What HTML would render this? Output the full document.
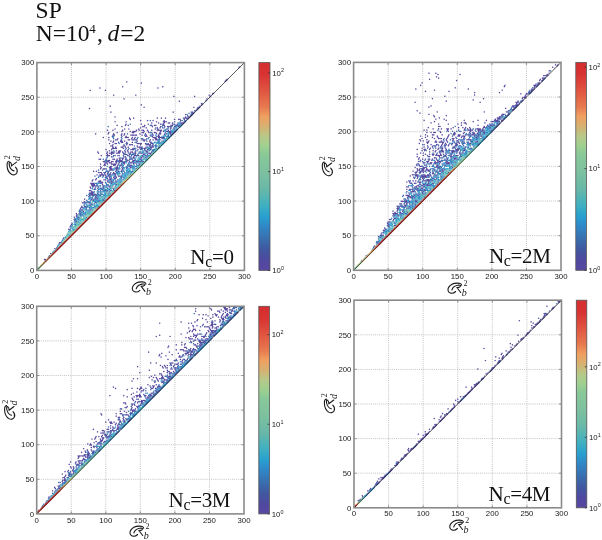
<!DOCTYPE html><html><head><meta charset="utf-8"><style>html,body{margin:0;padding:0;background:#fff;width:602px;height:540px;overflow:hidden;position:relative}</style></head><body><svg width="602" height="540" viewBox="0 0 602 540" style="position:absolute;left:0;top:0;filter:blur(0.35px)">
<defs>
<linearGradient id="cg" x1="0" y1="1" x2="0" y2="0"><stop offset="0.0" stop-color="#5848a0"/><stop offset="0.045" stop-color="#5048a0"/><stop offset="0.1" stop-color="#4058a0"/><stop offset="0.156" stop-color="#3870b0"/><stop offset="0.214" stop-color="#3088c8"/><stop offset="0.26" stop-color="#28a0d0"/><stop offset="0.315" stop-color="#40b0c0"/><stop offset="0.39" stop-color="#68b8a8"/><stop offset="0.47" stop-color="#7cc0a0"/><stop offset="0.555" stop-color="#88c898"/><stop offset="0.6" stop-color="#a0d090"/><stop offset="0.646" stop-color="#b8c888"/><stop offset="0.695" stop-color="#d8b070"/><stop offset="0.74" stop-color="#f0a060"/><stop offset="0.786" stop-color="#e87a50"/><stop offset="0.863" stop-color="#e05540"/><stop offset="0.945" stop-color="#d83232"/><stop offset="1.0" stop-color="#d62e2e"/></linearGradient>
<g id="R"><path d="M13.9,1.9 C14,0.2 11.5,-0.2 9.5,-0.1 C6,0 2.5,1.5 0.9,4.2 C-0.3,6.3 0.3,8.6 2.2,9.6 C4,10.4 6.6,9.6 7.9,8.3 M4.2,6.8 C4.8,4.6 7.4,2.6 10,2.1 C11.6,1.8 13.2,2 12.8,3 C12.4,3.9 10.8,4.4 9.2,4.4 M9.2,4.3 L13,9.3" fill="none" stroke="#1a1a1a" stroke-width="1.1" stroke-linecap="round"/></g>
</defs>
<rect width="602" height="540" fill="#fff"/>
<path d="M71.48,62.60V270.40M36.90,235.77H244.40M106.07,62.60V270.40M36.90,201.13H244.40M140.65,62.60V270.40M36.90,166.50H244.40M175.23,62.60V270.40M36.90,131.87H244.40M209.82,62.60V270.40M36.90,97.23H244.40" stroke="#bcbcbc" stroke-width="0.9" stroke-dasharray="1 1.1" fill="none"/>
<clipPath id="cp431"><path d="M36.40,270.90L244.40,62.10L244.40,62.60L36.90,62.60L36.90,270.40z"/></clipPath><g clip-path="url(#cp431)"><g transform="translate(36.900,270.400) scale(0.69167,-0.40271)"><path fill="#5848a0" d="M1 5l1-1 1 1v2l-1 1-1-1zm2 0l1-1 1 1v2l-1 1-1-1zm4 6l1-1 1 1v2l-1 1-1-1zm2 6l1-1 1 1v2l-1 1-1-1zm1 9l1-1 1 1v2l-1 1-1-1zm2 0l1-1 1 1v2l-1 1-1-1zm4 0l1-1 1 1v2l-1 1-1-1zm3 15l1-1 1 1v2l-1 1-1-1zm6 12l1-1 1 1v2l-1 1-1-1zm3 3l1-1 1 1v2l-1 1-1-1zm7 3l1-1 1 1v2l-1 1-1-1zm-4 6l1-1 1 1v2l-1 1-1-1zm1 3l1-1 1 1v2l-1 1-1-1zm2 0l1-1 1 1v2l-1 1-1-1zm6 0l1-1 1 1v2l-1 1-1-1zm-3 9l1-1 1 1v2l-1 1-1-1zm1 3l1-1 1 1v2l-1 1-1-1zm20 18l1-1 1 1v2l-1 1-1-1zm-13 3l1-1 1 1v2l-1 1-1-1zm2 0l1-1 1 1v2l-1 1-1-1zm0 6l1-1 1 1v2l-1 1-1-1zm16 0l1-1 1 1v2l-1 1-1-1zm-15 3l1-1 1 1v2l-1 1-1-1zm1 3l1-1 1 1v2l-1 1-1-1zm1 3l1-1 1 1v2l-1 1-1-1zm4 6l1-1 1 1v2l-1 1-1-1zm18 0l1-1 1 1v2l-1 1-1-1zm-19 3l1-1 1 1v2l-1 1-1-1zm20 0l1-1 1 1v2l-1 1-1-1zm-20 6l1-1 1 1v2l-1 1-1-1zm4 0l1-1 1 1v2l-1 1-1-1zm20 0l1-1 1 1v2l-1 1-1-1zm-21 3l1-1 1 1v2l-1 1-1-1zm1 3l1-1 1 1v2l-1 1-1-1zm12 0l1-1 1 1v2l-1 1-1-1zm-13 3l1-1 1 1v2l-1 1-1-1zm4 0l1-1 1 1v2l-1 1-1-1zm3 3l1-1 1 1v2l-1 1-1-1zm4 0l1-1 1 1v2l-1 1-1-1zm-1 3l1-1 1 1v2l-1 1-1-1zm-3 3l1-1 1 1v2l-1 1-1-1zm2 0l1-1 1 1v2l-1 1-1-1zm10 0l1-1 1 1v2l-1 1-1-1zm2 0l1-1 1 1v2l-1 1-1-1zm-15 3l1-1 1 1v2l-1 1-1-1zm1 3l1-1 1 1v2l-1 1-1-1zm4 0l1-1 1 1v2l-1 1-1-1zm16 0l1-1 1 1v2l-1 1-1-1zm-19 3l1-1 1 1v2l-1 1-1-1zm4 0l1-1 1 1v2l-1 1-1-1zm2 0l1-1 1 1v2l-1 1-1-1zm7 3l1-1 1 1v2l-1 1-1-1zm1 3l1-1 1 1v2l-1 1-1-1zm4 0l1-1 1 1v2l-1 1-1-1zm14 0l1-1 1 1v2l-1 1-1-1zm-31 3l1-1 1 1v2l-1 1-1-1zm2 0l1-1 1 1v2l-1 1-1-1zm6 0l1-1 1 1v2l-1 1-1-1zm2 0l1-1 1 1v2l-1 1-1-1zm-7 3l1-1 1 1v2l-1 1-1-1zm22 0l1-1 1 1v2l-1 1-1-1zm-13 3l1-1 1 1v2l-1 1-1-1zm4 0l1-1 1 1v2l-1 1-1-1zm14 0l1-1 1 1v2l-1 1-1-1zm-27 3l1-1 1 1v2l-1 1-1-1zm10 0l1-1 1 1v2l-1 1-1-1zm2 0l1-1 1 1v2l-1 1-1-1zm4 0l1-1 1 1v2l-1 1-1-1zm2 0l1-1 1 1v2l-1 1-1-1zm10 0l1-1 1 1v2l-1 1-1-1zm-13 3l1-1 1 1v2l-1 1-1-1zm4 0l1-1 1 1v2l-1 1-1-1zm-13 3l1-1 1 1v2l-1 1-1-1zm10 0l1-1 1 1v2l-1 1-1-1zm-9 3l1-1 1 1v2l-1 1-1-1zm4 0l1-1 1 1v2l-1 1-1-1zm6 0l1-1 1 1v2l-1 1-1-1zm4 0l1-1 1 1v2l-1 1-1-1zm-13 3l1-1 1 1v2l-1 1-1-1zm2 0l1-1 1 1v2l-1 1-1-1zm2 0l1-1 1 1v2l-1 1-1-1zm2 0l1-1 1 1v2l-1 1-1-1zm2 0l1-1 1 1v2l-1 1-1-1zm-9 3l1-1 1 1v2l-1 1-1-1zm2 0l1-1 1 1v2l-1 1-1-1zm2 0l1-1 1 1v2l-1 1-1-1zm12 0l1-1 1 1v2l-1 1-1-1zm12 0l1-1 1 1v2l-1 1-1-1zm-25 3l1-1 1 1v2l-1 1-1-1zm2 0l1-1 1 1v2l-1 1-1-1zm20 0l1-1 1 1v2l-1 1-1-1zm-25 3l1-1 1 1v2l-1 1-1-1zm2 0l1-1 1 1v2l-1 1-1-1zm10 0l1-1 1 1v2l-1 1-1-1zm14 0l1-1 1 1v2l-1 1-1-1zm4 0l1-1 1 1v2l-1 1-1-1zm6 0l1-1 1 1v2l-1 1-1-1zm-29 3l1-1 1 1v2l-1 1-1-1zm28 0l1-1 1 1v2l-1 1-1-1zm-33 3l1-1 1 1v2l-1 1-1-1zm6 0l1-1 1 1v2l-1 1-1-1zm4 0l1-1 1 1v2l-1 1-1-1zm4 0l1-1 1 1v2l-1 1-1-1zm4 0l1-1 1 1v2l-1 1-1-1zm14 0l1-1 1 1v2l-1 1-1-1zm10 0l1-1 1 1v2l-1 1-1-1zm-43 3l1-1 1 1v2l-1 1-1-1zm4 0l1-1 1 1v2l-1 1-1-1zm8 0l1-1 1 1v2l-1 1-1-1zm8 0l1-1 1 1v2l-1 1-1-1zm4 0l1-1 1 1v2l-1 1-1-1zm4 0l1-1 1 1v2l-1 1-1-1zm2 0l1-1 1 1v2l-1 1-1-1zm-27 3l1-1 1 1v2l-1 1-1-1zm2 0l1-1 1 1v2l-1 1-1-1zm2 0l1-1 1 1v2l-1 1-1-1zm2 0l1-1 1 1v2l-1 1-1-1zm10 0l1-1 1 1v2l-1 1-1-1zm8 0l1-1 1 1v2l-1 1-1-1zm6 0l1-1 1 1v2l-1 1-1-1zm-31 3l1-1 1 1v2l-1 1-1-1zm2 0l1-1 1 1v2l-1 1-1-1zm2 0l1-1 1 1v2l-1 1-1-1zm12 0l1-1 1 1v2l-1 1-1-1zm20 0l1-1 1 1v2l-1 1-1-1zm10 0l1-1 1 1v2l-1 1-1-1zm-47 3l1-1 1 1v2l-1 1-1-1zm2 0l1-1 1 1v2l-1 1-1-1zm2 0l1-1 1 1v2l-1 1-1-1zm12 0l1-1 1 1v2l-1 1-1-1zm14 0l1-1 1 1v2l-1 1-1-1zm-19 3l1-1 1 1v2l-1 1-1-1zm2 0l1-1 1 1v2l-1 1-1-1zm2 0l1-1 1 1v2l-1 1-1-1zm2 0l1-1 1 1v2l-1 1-1-1zm8 0l1-1 1 1v2l-1 1-1-1zm2 0l1-1 1 1v2l-1 1-1-1zm2 0l1-1 1 1v2l-1 1-1-1zm4 0l1-1 1 1v2l-1 1-1-1zm4 0l1-1 1 1v2l-1 1-1-1zm-35 3l1-1 1 1v2l-1 1-1-1zm10 0l1-1 1 1v2l-1 1-1-1zm2 0l1-1 1 1v2l-1 1-1-1zm10 0l1-1 1 1v2l-1 1-1-1zm6 0l1-1 1 1v2l-1 1-1-1zm6 0l1-1 1 1v2l-1 1-1-1zm-33 3l1-1 1 1v2l-1 1-1-1zm4 0l1-1 1 1v2l-1 1-1-1zm12 0l1-1 1 1v2l-1 1-1-1zm2 0l1-1 1 1v2l-1 1-1-1zm6 0l1-1 1 1v2l-1 1-1-1zm2 0l1-1 1 1v2l-1 1-1-1zm10 0l1-1 1 1v2l-1 1-1-1zm6 0l1-1 1 1v2l-1 1-1-1zm-37 3l1-1 1 1v2l-1 1-1-1zm16 0l1-1 1 1v2l-1 1-1-1zm4 0l1-1 1 1v2l-1 1-1-1zm6 0l1-1 1 1v2l-1 1-1-1zm2 0l1-1 1 1v2l-1 1-1-1zm12 0l1-1 1 1v2l-1 1-1-1zm-25 3l1-1 1 1v2l-1 1-1-1zm4 0l1-1 1 1v2l-1 1-1-1zm6 0l1-1 1 1v2l-1 1-1-1zm4 0l1-1 1 1v2l-1 1-1-1zm8 0l1-1 1 1v2l-1 1-1-1zm-31 3l1-1 1 1v2l-1 1-1-1zm4 0l1-1 1 1v2l-1 1-1-1zm4 0l1-1 1 1v2l-1 1-1-1zm4 0l1-1 1 1v2l-1 1-1-1zm10 0l1-1 1 1v2l-1 1-1-1zm4 0l1-1 1 1v2l-1 1-1-1zm2 0l1-1 1 1v2l-1 1-1-1zm2 0l1-1 1 1v2l-1 1-1-1zm-35 3l1-1 1 1v2l-1 1-1-1zm4 0l1-1 1 1v2l-1 1-1-1zm2 0l1-1 1 1v2l-1 1-1-1zm2 0l1-1 1 1v2l-1 1-1-1zm2 0l1-1 1 1v2l-1 1-1-1zm2 0l1-1 1 1v2l-1 1-1-1zm4 0l1-1 1 1v2l-1 1-1-1zm2 0l1-1 1 1v2l-1 1-1-1zm2 0l1-1 1 1v2l-1 1-1-1zm6 0l1-1 1 1v2l-1 1-1-1zm26 0l1-1 1 1v2l-1 1-1-1zm-45 3l1-1 1 1v2l-1 1-1-1zm8 0l1-1 1 1v2l-1 1-1-1zm4 0l1-1 1 1v2l-1 1-1-1zm4 0l1-1 1 1v2l-1 1-1-1zm2 0l1-1 1 1v2l-1 1-1-1zm2 0l1-1 1 1v2l-1 1-1-1zm10 0l1-1 1 1v2l-1 1-1-1zm-35 3l1-1 1 1v2l-1 1-1-1zm2 0l1-1 1 1v2l-1 1-1-1zm2 0l1-1 1 1v2l-1 1-1-1zm4 0l1-1 1 1v2l-1 1-1-1zm2 0l1-1 1 1v2l-1 1-1-1zm4 0l1-1 1 1v2l-1 1-1-1zm8 0l1-1 1 1v2l-1 1-1-1zm-29 3l1-1 1 1v2l-1 1-1-1zm4 0l1-1 1 1v2l-1 1-1-1zm18 0l1-1 1 1v2l-1 1-1-1zm10 0l1-1 1 1v2l-1 1-1-1zm4 0l1-1 1 1v2l-1 1-1-1zm4 0l1-1 1 1v2l-1 1-1-1zm4 0l1-1 1 1v2l-1 1-1-1zm-19 3l1-1 1 1v2l-1 1-1-1zm2 0l1-1 1 1v2l-1 1-1-1zm6 0l1-1 1 1v2l-1 1-1-1zm8 0l1-1 1 1v2l-1 1-1-1zm-31 3l1-1 1 1v2l-1 1-1-1zm4 0l1-1 1 1v2l-1 1-1-1zm2 0l1-1 1 1v2l-1 1-1-1zm2 0l1-1 1 1v2l-1 1-1-1zm6 0l1-1 1 1v2l-1 1-1-1zm2 0l1-1 1 1v2l-1 1-1-1zm6 0l1-1 1 1v2l-1 1-1-1zm2 0l1-1 1 1v2l-1 1-1-1zm8 0l1-1 1 1v2l-1 1-1-1zm20 0l1-1 1 1v2l-1 1-1-1zm-51 3l1-1 1 1v2l-1 1-1-1zm12 0l1-1 1 1v2l-1 1-1-1zm2 0l1-1 1 1v2l-1 1-1-1zm8 0l1-1 1 1v2l-1 1-1-1zm2 0l1-1 1 1v2l-1 1-1-1zm6 0l1-1 1 1v2l-1 1-1-1zm8 0l1-1 1 1v2l-1 1-1-1zm4 0l1-1 1 1v2l-1 1-1-1zm4 0l1-1 1 1v2l-1 1-1-1zm-47 3l1-1 1 1v2l-1 1-1-1zm14 0l1-1 1 1v2l-1 1-1-1zm2 0l1-1 1 1v2l-1 1-1-1zm8 0l1-1 1 1v2l-1 1-1-1zm20 0l1-1 1 1v2l-1 1-1-1zm-39 3l1-1 1 1v2l-1 1-1-1zm2 0l1-1 1 1v2l-1 1-1-1zm12 0l1-1 1 1v2l-1 1-1-1zm2 0l1-1 1 1v2l-1 1-1-1zm4 0l1-1 1 1v2l-1 1-1-1zm4 0l1-1 1 1v2l-1 1-1-1zm2 0l1-1 1 1v2l-1 1-1-1zm10 0l1-1 1 1v2l-1 1-1-1zm2 0l1-1 1 1v2l-1 1-1-1zm2 0l1-1 1 1v2l-1 1-1-1zm12 0l1-1 1 1v2l-1 1-1-1zm-57 3l1-1 1 1v2l-1 1-1-1zm6 0l1-1 1 1v2l-1 1-1-1zm4 0l1-1 1 1v2l-1 1-1-1zm6 0l1-1 1 1v2l-1 1-1-1zm2 0l1-1 1 1v2l-1 1-1-1zm2 0l1-1 1 1v2l-1 1-1-1zm2 0l1-1 1 1v2l-1 1-1-1zm12 0l1-1 1 1v2l-1 1-1-1zm14 0l1-1 1 1v2l-1 1-1-1zm8 0l1-1 1 1v2l-1 1-1-1zm-49 3l1-1 1 1v2l-1 1-1-1zm2 0l1-1 1 1v2l-1 1-1-1zm4 0l1-1 1 1v2l-1 1-1-1zm2 0l1-1 1 1v2l-1 1-1-1zm8 0l1-1 1 1v2l-1 1-1-1zm4 0l1-1 1 1v2l-1 1-1-1zm6 0l1-1 1 1v2l-1 1-1-1zm2 0l1-1 1 1v2l-1 1-1-1zm8 0l1-1 1 1v2l-1 1-1-1zm2 0l1-1 1 1v2l-1 1-1-1zm2 0l1-1 1 1v2l-1 1-1-1zm4 0l1-1 1 1v2l-1 1-1-1zm-47 3l1-1 1 1v2l-1 1-1-1zm2 0l1-1 1 1v2l-1 1-1-1zm4 0l1-1 1 1v2l-1 1-1-1zm2 0l1-1 1 1v2l-1 1-1-1zm4 0l1-1 1 1v2l-1 1-1-1zm2 0l1-1 1 1v2l-1 1-1-1zm4 0l1-1 1 1v2l-1 1-1-1zm2 0l1-1 1 1v2l-1 1-1-1zm4 0l1-1 1 1v2l-1 1-1-1zm2 0l1-1 1 1v2l-1 1-1-1zm4 0l1-1 1 1v2l-1 1-1-1zm4 0l1-1 1 1v2l-1 1-1-1zm4 0l1-1 1 1v2l-1 1-1-1zm6 0l1-1 1 1v2l-1 1-1-1zm4 0l1-1 1 1v2l-1 1-1-1zm2 0l1-1 1 1v2l-1 1-1-1zm2 0l1-1 1 1v2l-1 1-1-1zm4 0l1-1 1 1v2l-1 1-1-1zm2 0l1-1 1 1v2l-1 1-1-1zm4 0l1-1 1 1v2l-1 1-1-1zm-55 3l1-1 1 1v2l-1 1-1-1zm2 0l1-1 1 1v2l-1 1-1-1zm10 0l1-1 1 1v2l-1 1-1-1zm4 0l1-1 1 1v2l-1 1-1-1zm2 0l1-1 1 1v2l-1 1-1-1zm2 0l1-1 1 1v2l-1 1-1-1zm8 0l1-1 1 1v2l-1 1-1-1zm8 0l1-1 1 1v2l-1 1-1-1zm2 0l1-1 1 1v2l-1 1-1-1zm10 0l1-1 1 1v2l-1 1-1-1zm-61 3l1-1 1 1v2l-1 1-1-1zm2 0l1-1 1 1v2l-1 1-1-1zm8 0l1-1 1 1v2l-1 1-1-1zm10 0l1-1 1 1v2l-1 1-1-1zm2 0l1-1 1 1v2l-1 1-1-1zm4 0l1-1 1 1v2l-1 1-1-1zm4 0l1-1 1 1v2l-1 1-1-1zm4 0l1-1 1 1v2l-1 1-1-1zm4 0l1-1 1 1v2l-1 1-1-1zm6 0l1-1 1 1v2l-1 1-1-1zm2 0l1-1 1 1v2l-1 1-1-1zm14 0l1-1 1 1v2l-1 1-1-1zm-31 3l1-1 1 1v2l-1 1-1-1zm4 0l1-1 1 1v2l-1 1-1-1zm2 0l1-1 1 1v2l-1 1-1-1zm4 0l1-1 1 1v2l-1 1-1-1zm10 0l1-1 1 1v2l-1 1-1-1zm2 0l1-1 1 1v2l-1 1-1-1zm10 0l1-1 1 1v2l-1 1-1-1zm4 0l1-1 1 1v2l-1 1-1-1zm4 0l1-1 1 1v2l-1 1-1-1zm-51 3l1-1 1 1v2l-1 1-1-1zm20 0l1-1 1 1v2l-1 1-1-1zm8 0l1-1 1 1v2l-1 1-1-1zm4 0l1-1 1 1v2l-1 1-1-1zm12 0l1-1 1 1v2l-1 1-1-1zm-59 3l1-1 1 1v2l-1 1-1-1zm8 0l1-1 1 1v2l-1 1-1-1zm2 0l1-1 1 1v2l-1 1-1-1zm2 0l1-1 1 1v2l-1 1-1-1zm8 0l1-1 1 1v2l-1 1-1-1zm6 0l1-1 1 1v2l-1 1-1-1zm14 0l1-1 1 1v2l-1 1-1-1zm8 0l1-1 1 1v2l-1 1-1-1zm2 0l1-1 1 1v2l-1 1-1-1zm2 0l1-1 1 1v2l-1 1-1-1zm2 0l1-1 1 1v2l-1 1-1-1zm6 0l1-1 1 1v2l-1 1-1-1zm6 0l1-1 1 1v2l-1 1-1-1zm-57 3l1-1 1 1v2l-1 1-1-1zm6 0l1-1 1 1v2l-1 1-1-1zm18 0l1-1 1 1v2l-1 1-1-1zm2 0l1-1 1 1v2l-1 1-1-1zm2 0l1-1 1 1v2l-1 1-1-1zm4 0l1-1 1 1v2l-1 1-1-1zm8 0l1-1 1 1v2l-1 1-1-1zm12 0l1-1 1 1v2l-1 1-1-1zm2 0l1-1 1 1v2l-1 1-1-1zm8 0l1-1 1 1v2l-1 1-1-1zm4 0l1-1 1 1v2l-1 1-1-1zm-79 3l1-1 1 1v2l-1 1-1-1zm12 0l1-1 1 1v2l-1 1-1-1zm4 0l1-1 1 1v2l-1 1-1-1zm2 0l1-1 1 1v2l-1 1-1-1zm2 0l1-1 1 1v2l-1 1-1-1zm2 0l1-1 1 1v2l-1 1-1-1zm4 0l1-1 1 1v2l-1 1-1-1zm2 0l1-1 1 1v2l-1 1-1-1zm2 0l1-1 1 1v2l-1 1-1-1zm6 0l1-1 1 1v2l-1 1-1-1zm10 0l1-1 1 1v2l-1 1-1-1zm4 0l1-1 1 1v2l-1 1-1-1zm4 0l1-1 1 1v2l-1 1-1-1zm6 0l1-1 1 1v2l-1 1-1-1zm2 0l1-1 1 1v2l-1 1-1-1zm10 0l1-1 1 1v2l-1 1-1-1zm2 0l1-1 1 1v2l-1 1-1-1zm2 0l1-1 1 1v2l-1 1-1-1zm-77 3l1-1 1 1v2l-1 1-1-1zm14 0l1-1 1 1v2l-1 1-1-1zm6 0l1-1 1 1v2l-1 1-1-1zm2 0l1-1 1 1v2l-1 1-1-1zm8 0l1-1 1 1v2l-1 1-1-1zm2 0l1-1 1 1v2l-1 1-1-1zm4 0l1-1 1 1v2l-1 1-1-1zm4 0l1-1 1 1v2l-1 1-1-1zm4 0l1-1 1 1v2l-1 1-1-1zm4 0l1-1 1 1v2l-1 1-1-1zm2 0l1-1 1 1v2l-1 1-1-1zm4 0l1-1 1 1v2l-1 1-1-1zm12 0l1-1 1 1v2l-1 1-1-1zm4 0l1-1 1 1v2l-1 1-1-1zm2 0l1-1 1 1v2l-1 1-1-1zm6 0l1-1 1 1v2l-1 1-1-1zm-61 3l1-1 1 1v2l-1 1-1-1zm10 0l1-1 1 1v2l-1 1-1-1zm4 0l1-1 1 1v2l-1 1-1-1zm2 0l1-1 1 1v2l-1 1-1-1zm6 0l1-1 1 1v2l-1 1-1-1zm4 0l1-1 1 1v2l-1 1-1-1zm12 0l1-1 1 1v2l-1 1-1-1zm16 0l1-1 1 1v2l-1 1-1-1zm-59 3l1-1 1 1v2l-1 1-1-1zm8 0l1-1 1 1v2l-1 1-1-1zm24 0l1-1 1 1v2l-1 1-1-1zm4 0l1-1 1 1v2l-1 1-1-1zm2 0l1-1 1 1v2l-1 1-1-1zm2 0l1-1 1 1v2l-1 1-1-1zm6 0l1-1 1 1v2l-1 1-1-1zm10 0l1-1 1 1v2l-1 1-1-1zm4 0l1-1 1 1v2l-1 1-1-1zm4 0l1-1 1 1v2l-1 1-1-1zm-55 3l1-1 1 1v2l-1 1-1-1zm2 0l1-1 1 1v2l-1 1-1-1zm2 0l1-1 1 1v2l-1 1-1-1zm2 0l1-1 1 1v2l-1 1-1-1zm10 0l1-1 1 1v2l-1 1-1-1zm4 0l1-1 1 1v2l-1 1-1-1zm10 0l1-1 1 1v2l-1 1-1-1zm4 0l1-1 1 1v2l-1 1-1-1zm8 0l1-1 1 1v2l-1 1-1-1zm4 0l1-1 1 1v2l-1 1-1-1zm2 0l1-1 1 1v2l-1 1-1-1zm8 0l1-1 1 1v2l-1 1-1-1zm12 0l1-1 1 1v2l-1 1-1-1zm-67 3l1-1 1 1v2l-1 1-1-1zm4 0l1-1 1 1v2l-1 1-1-1zm8 0l1-1 1 1v2l-1 1-1-1zm2 0l1-1 1 1v2l-1 1-1-1zm4 0l1-1 1 1v2l-1 1-1-1zm4 0l1-1 1 1v2l-1 1-1-1zm14 0l1-1 1 1v2l-1 1-1-1zm2 0l1-1 1 1v2l-1 1-1-1zm2 0l1-1 1 1v2l-1 1-1-1zm2 0l1-1 1 1v2l-1 1-1-1zm6 0l1-1 1 1v2l-1 1-1-1zm6 0l1-1 1 1v2l-1 1-1-1zm2 0l1-1 1 1v2l-1 1-1-1zm2 0l1-1 1 1v2l-1 1-1-1zm-61 3l1-1 1 1v2l-1 1-1-1zm2 0l1-1 1 1v2l-1 1-1-1zm16 0l1-1 1 1v2l-1 1-1-1zm2 0l1-1 1 1v2l-1 1-1-1zm18 0l1-1 1 1v2l-1 1-1-1zm18 0l1-1 1 1v2l-1 1-1-1zm4 0l1-1 1 1v2l-1 1-1-1zm10 0l1-1 1 1v2l-1 1-1-1zm-67 3l1-1 1 1v2l-1 1-1-1zm20 0l1-1 1 1v2l-1 1-1-1zm4 0l1-1 1 1v2l-1 1-1-1zm2 0l1-1 1 1v2l-1 1-1-1zm2 0l1-1 1 1v2l-1 1-1-1zm12 0l1-1 1 1v2l-1 1-1-1zm8 0l1-1 1 1v2l-1 1-1-1zm2 0l1-1 1 1v2l-1 1-1-1zm2 0l1-1 1 1v2l-1 1-1-1zm2 0l1-1 1 1v2l-1 1-1-1zm4 0l1-1 1 1v2l-1 1-1-1zm-63 3l1-1 1 1v2l-1 1-1-1zm8 0l1-1 1 1v2l-1 1-1-1zm2 0l1-1 1 1v2l-1 1-1-1zm14 0l1-1 1 1v2l-1 1-1-1zm16 0l1-1 1 1v2l-1 1-1-1zm2 0l1-1 1 1v2l-1 1-1-1zm2 0l1-1 1 1v2l-1 1-1-1zm2 0l1-1 1 1v2l-1 1-1-1zm6 0l1-1 1 1v2l-1 1-1-1zm4 0l1-1 1 1v2l-1 1-1-1zm4 0l1-1 1 1v2l-1 1-1-1zm2 0l1-1 1 1v2l-1 1-1-1zm14 0l1-1 1 1v2l-1 1-1-1zm-71 3l1-1 1 1v2l-1 1-1-1zm8 0l1-1 1 1v2l-1 1-1-1zm4 0l1-1 1 1v2l-1 1-1-1zm2 0l1-1 1 1v2l-1 1-1-1zm6 0l1-1 1 1v2l-1 1-1-1zm8 0l1-1 1 1v2l-1 1-1-1zm26 0l1-1 1 1v2l-1 1-1-1zm14 0l1-1 1 1v2l-1 1-1-1zm-71 3l1-1 1 1v2l-1 1-1-1zm4 0l1-1 1 1v2l-1 1-1-1zm10 0l1-1 1 1v2l-1 1-1-1zm2 0l1-1 1 1v2l-1 1-1-1zm4 0l1-1 1 1v2l-1 1-1-1zm18 0l1-1 1 1v2l-1 1-1-1zm10 0l1-1 1 1v2l-1 1-1-1zm4 0l1-1 1 1v2l-1 1-1-1zm4 0l1-1 1 1v2l-1 1-1-1zm18 0l1-1 1 1v2l-1 1-1-1zm-77 3l1-1 1 1v2l-1 1-1-1zm10 0l1-1 1 1v2l-1 1-1-1zm2 0l1-1 1 1v2l-1 1-1-1zm6 0l1-1 1 1v2l-1 1-1-1zm10 0l1-1 1 1v2l-1 1-1-1zm2 0l1-1 1 1v2l-1 1-1-1zm4 0l1-1 1 1v2l-1 1-1-1zm4 0l1-1 1 1v2l-1 1-1-1zm2 0l1-1 1 1v2l-1 1-1-1zm8 0l1-1 1 1v2l-1 1-1-1zm2 0l1-1 1 1v2l-1 1-1-1zm2 0l1-1 1 1v2l-1 1-1-1zm8 0l1-1 1 1v2l-1 1-1-1zm4 0l1-1 1 1v2l-1 1-1-1zm4 0l1-1 1 1v2l-1 1-1-1zm2 0l1-1 1 1v2l-1 1-1-1zm-57 3l1-1 1 1v2l-1 1-1-1zm20 0l1-1 1 1v2l-1 1-1-1zm4 0l1-1 1 1v2l-1 1-1-1zm18 0l1-1 1 1v2l-1 1-1-1zm12 0l1-1 1 1v2l-1 1-1-1zm2 0l1-1 1 1v2l-1 1-1-1zm8 0l1-1 1 1v2l-1 1-1-1zm4 0l1-1 1 1v2l-1 1-1-1zm6 0l1-1 1 1v2l-1 1-1-1zm-95 3l1-1 1 1v2l-1 1-1-1zm8 0l1-1 1 1v2l-1 1-1-1zm24 0l1-1 1 1v2l-1 1-1-1zm2 0l1-1 1 1v2l-1 1-1-1zm2 0l1-1 1 1v2l-1 1-1-1zm6 0l1-1 1 1v2l-1 1-1-1zm4 0l1-1 1 1v2l-1 1-1-1zm20 0l1-1 1 1v2l-1 1-1-1zm6 0l1-1 1 1v2l-1 1-1-1zm2 0l1-1 1 1v2l-1 1-1-1zm2 0l1-1 1 1v2l-1 1-1-1zm4 0l1-1 1 1v2l-1 1-1-1zm2 0l1-1 1 1v2l-1 1-1-1zm2 0l1-1 1 1v2l-1 1-1-1zm2 0l1-1 1 1v2l-1 1-1-1zm2 0l1-1 1 1v2l-1 1-1-1zm-61 3l1-1 1 1v2l-1 1-1-1zm6 0l1-1 1 1v2l-1 1-1-1zm28 0l1-1 1 1v2l-1 1-1-1zm2 0l1-1 1 1v2l-1 1-1-1zm8 0l1-1 1 1v2l-1 1-1-1zm8 0l1-1 1 1v2l-1 1-1-1zm2 0l1-1 1 1v2l-1 1-1-1zm-67 3l1-1 1 1v2l-1 1-1-1zm2 0l1-1 1 1v2l-1 1-1-1zm10 0l1-1 1 1v2l-1 1-1-1zm4 0l1-1 1 1v2l-1 1-1-1zm10 0l1-1 1 1v2l-1 1-1-1zm2 0l1-1 1 1v2l-1 1-1-1zm2 0l1-1 1 1v2l-1 1-1-1zm2 0l1-1 1 1v2l-1 1-1-1zm2 0l1-1 1 1v2l-1 1-1-1zm8 0l1-1 1 1v2l-1 1-1-1zm6 0l1-1 1 1v2l-1 1-1-1zm6 0l1-1 1 1v2l-1 1-1-1zm4 0l1-1 1 1v2l-1 1-1-1zm8 0l1-1 1 1v2l-1 1-1-1zm8 0l1-1 1 1v2l-1 1-1-1zm10 0l1-1 1 1v2l-1 1-1-1zm-109 3l1-1 1 1v2l-1 1-1-1zm18 0l1-1 1 1v2l-1 1-1-1zm8 0l1-1 1 1v2l-1 1-1-1zm12 0l1-1 1 1v2l-1 1-1-1zm4 0l1-1 1 1v2l-1 1-1-1zm22 0l1-1 1 1v2l-1 1-1-1zm8 0l1-1 1 1v2l-1 1-1-1zm10 0l1-1 1 1v2l-1 1-1-1zm6 0l1-1 1 1v2l-1 1-1-1zm4 0l1-1 1 1v2l-1 1-1-1zm2 0l1-1 1 1v2l-1 1-1-1zm6 0l1-1 1 1v2l-1 1-1-1zm2 0l1-1 1 1v2l-1 1-1-1zm6 0l1-1 1 1v2l-1 1-1-1zm4 0l1-1 1 1v2l-1 1-1-1zm-93 3l1-1 1 1v2l-1 1-1-1zm12 0l1-1 1 1v2l-1 1-1-1zm22 0l1-1 1 1v2l-1 1-1-1zm2 0l1-1 1 1v2l-1 1-1-1zm12 0l1-1 1 1v2l-1 1-1-1zm2 0l1-1 1 1v2l-1 1-1-1zm8 0l1-1 1 1v2l-1 1-1-1zm8 0l1-1 1 1v2l-1 1-1-1zm2 0l1-1 1 1v2l-1 1-1-1zm6 0l1-1 1 1v2l-1 1-1-1zm14 0l1-1 1 1v2l-1 1-1-1zm2 0l1-1 1 1v2l-1 1-1-1zm-71 3l1-1 1 1v2l-1 1-1-1zm12 0l1-1 1 1v2l-1 1-1-1zm4 0l1-1 1 1v2l-1 1-1-1zm2 0l1-1 1 1v2l-1 1-1-1zm2 0l1-1 1 1v2l-1 1-1-1zm12 0l1-1 1 1v2l-1 1-1-1zm6 0l1-1 1 1v2l-1 1-1-1zm18 0l1-1 1 1v2l-1 1-1-1zm4 0l1-1 1 1v2l-1 1-1-1zm4 0l1-1 1 1v2l-1 1-1-1zm2 0l1-1 1 1v2l-1 1-1-1zm2 0l1-1 1 1v2l-1 1-1-1zm2 0l1-1 1 1v2l-1 1-1-1zm8 0l1-1 1 1v2l-1 1-1-1zm-99 3l1-1 1 1v2l-1 1-1-1zm8 0l1-1 1 1v2l-1 1-1-1zm14 0l1-1 1 1v2l-1 1-1-1zm20 0l1-1 1 1v2l-1 1-1-1zm4 0l1-1 1 1v2l-1 1-1-1zm4 0l1-1 1 1v2l-1 1-1-1zm2 0l1-1 1 1v2l-1 1-1-1zm6 0l1-1 1 1v2l-1 1-1-1zm6 0l1-1 1 1v2l-1 1-1-1zm8 0l1-1 1 1v2l-1 1-1-1zm2 0l1-1 1 1v2l-1 1-1-1zm2 0l1-1 1 1v2l-1 1-1-1zm2 0l1-1 1 1v2l-1 1-1-1zm10 0l1-1 1 1v2l-1 1-1-1zm12 0l1-1 1 1v2l-1 1-1-1zm-89 3l1-1 1 1v2l-1 1-1-1zm14 0l1-1 1 1v2l-1 1-1-1zm6 0l1-1 1 1v2l-1 1-1-1zm14 0l1-1 1 1v2l-1 1-1-1zm24 0l1-1 1 1v2l-1 1-1-1zm4 0l1-1 1 1v2l-1 1-1-1zm18 0l1-1 1 1v2l-1 1-1-1zm4 0l1-1 1 1v2l-1 1-1-1zm-47 3l1-1 1 1v2l-1 1-1-1zm8 0l1-1 1 1v2l-1 1-1-1zm16 0l1-1 1 1v2l-1 1-1-1zm4 0l1-1 1 1v2l-1 1-1-1zm4 0l1-1 1 1v2l-1 1-1-1zm12 0l1-1 1 1v2l-1 1-1-1zm12 0l1-1 1 1v2l-1 1-1-1zm-83 3l1-1 1 1v2l-1 1-1-1zm30 0l1-1 1 1v2l-1 1-1-1zm2 0l1-1 1 1v2l-1 1-1-1zm12 0l1-1 1 1v2l-1 1-1-1zm12 0l1-1 1 1v2l-1 1-1-1zm6 0l1-1 1 1v2l-1 1-1-1zm4 0l1-1 1 1v2l-1 1-1-1zm2 0l1-1 1 1v2l-1 1-1-1zm2 0l1-1 1 1v2l-1 1-1-1zm6 0l1-1 1 1v2l-1 1-1-1zm2 0l1-1 1 1v2l-1 1-1-1zm4 0l1-1 1 1v2l-1 1-1-1zm-89 3l1-1 1 1v2l-1 1-1-1zm12 0l1-1 1 1v2l-1 1-1-1zm4 0l1-1 1 1v2l-1 1-1-1zm24 0l1-1 1 1v2l-1 1-1-1zm10 0l1-1 1 1v2l-1 1-1-1zm4 0l1-1 1 1v2l-1 1-1-1zm2 0l1-1 1 1v2l-1 1-1-1zm10 0l1-1 1 1v2l-1 1-1-1zm2 0l1-1 1 1v2l-1 1-1-1zm10 0l1-1 1 1v2l-1 1-1-1zm2 0l1-1 1 1v2l-1 1-1-1zm6 0l1-1 1 1v2l-1 1-1-1zm2 0l1-1 1 1v2l-1 1-1-1zm6 0l1-1 1 1v2l-1 1-1-1zm-81 3l1-1 1 1v2l-1 1-1-1zm22 0l1-1 1 1v2l-1 1-1-1zm10 0l1-1 1 1v2l-1 1-1-1zm18 0l1-1 1 1v2l-1 1-1-1zm4 0l1-1 1 1v2l-1 1-1-1zm14 0l1-1 1 1v2l-1 1-1-1zm12 0l1-1 1 1v2l-1 1-1-1zm-43 3l1-1 1 1v2l-1 1-1-1zm10 0l1-1 1 1v2l-1 1-1-1zm8 0l1-1 1 1v2l-1 1-1-1zm6 0l1-1 1 1v2l-1 1-1-1zm2 0l1-1 1 1v2l-1 1-1-1zm4 0l1-1 1 1v2l-1 1-1-1zm8 0l1-1 1 1v2l-1 1-1-1zm4 0l1-1 1 1v2l-1 1-1-1zm2 0l1-1 1 1v2l-1 1-1-1zm2 0l1-1 1 1v2l-1 1-1-1zm-99 3l1-1 1 1v2l-1 1-1-1zm16 0l1-1 1 1v2l-1 1-1-1zm44 0l1-1 1 1v2l-1 1-1-1zm10 0l1-1 1 1v2l-1 1-1-1zm2 0l1-1 1 1v2l-1 1-1-1zm2 0l1-1 1 1v2l-1 1-1-1zm12 0l1-1 1 1v2l-1 1-1-1zm-49 3l1-1 1 1v2l-1 1-1-1zm10 0l1-1 1 1v2l-1 1-1-1zm8 0l1-1 1 1v2l-1 1-1-1zm16 0l1-1 1 1v2l-1 1-1-1zm24 0l1-1 1 1v2l-1 1-1-1zm6 0l1-1 1 1v2l-1 1-1-1zm2 0l1-1 1 1v2l-1 1-1-1zm-81 3l1-1 1 1v2l-1 1-1-1zm64 0l1-1 1 1v2l-1 1-1-1zm6 0l1-1 1 1v2l-1 1-1-1zm2 0l1-1 1 1v2l-1 1-1-1zm6 0l1-1 1 1v2l-1 1-1-1zm-79 3l1-1 1 1v2l-1 1-1-1zm6 0l1-1 1 1v2l-1 1-1-1zm34 0l1-1 1 1v2l-1 1-1-1zm6 0l1-1 1 1v2l-1 1-1-1zm6 0l1-1 1 1v2l-1 1-1-1zm28 0l1-1 1 1v2l-1 1-1-1zm2 0l1-1 1 1v2l-1 1-1-1zm-103 3l1-1 1 1v2l-1 1-1-1zm102 0l1-1 1 1v2l-1 1-1-1zm4 0l1-1 1 1v2l-1 1-1-1zm-1 3l1-1 1 1v2l-1 1-1-1zm6 0l1-1 1 1v2l-1 1-1-1zm-9 3l1-1 1 1v2l-1 1-1-1zm11 3l1-1 1 1v2l-1 1-1-1zm-119 3l1-1 1 1v2l-1 1-1-1zm90 0l1-1 1 1v2l-1 1-1-1zm26 0l1-1 1 1v2l-1 1-1-1zm2 0l1-1 1 1v2l-1 1-1-1zm4 0l1-1 1 1v2l-1 1-1-1zm-153 9l1-1 1 1v2l-1 1-1-1zm79 3l1-1 1 1v2l-1 1-1-1zm72 0l1-1 1 1v2l-1 1-1-1zm6 0l1-1 1 1v2l-1 1-1-1zm-127 3l1-1 1 1v2l-1 1-1-1zm130 0l1-1 1 1v2l-1 1-1-1zm-85 3l1-1 1 1v2l-1 1-1-1zm88 0l1-1 1 1v2l-1 1-1-1zm-1 3l1-1 1 1v2l-1 1-1-1zm-32 6l1-1 1 1v2l-1 1-1-1zm-80 6l1-1 1 1v2l-1 1-1-1zm120 0l1-1 1 1v2l-1 1-1-1zm-48 6l1-1 1 1v2l-1 1-1-1zm30 0l1-1 1 1v2l-1 1-1-1zm-117 3l1-1 1 1v2l-1 1-1-1zm32 0l1-1 1 1v2l-1 1-1-1zm106 0l1-1 1 1v2l-1 1-1-1zm5 3l1-1 1 1v2l-1 1-1-1zm-177 9l1-1 1 1v2l-1 1-1-1zm22 0l1-1 1 1v2l-1 1-1-1zm-8 6l1-1 1 1v2l-1 1-1-1zm84 0l1-1 1 1v2l-1 1-1-1zm-51 3l1-1 1 1v2l-1 1-1-1zm58 0l1-1 1 1v2l-1 1-1-1zm-31 9l1-1 1 1v2l-1 1-1-1zm-21 3l1-1 1 1v2l-1 1-1-1z"/><path fill="#386faf" d="M11 23l1-1 1 1v2l-1 1-1-1zm4 6l1-1 1 1v2l-1 1-1-1zm1 3l1-1 1 1v2l-1 1-1-1zm1 3l1-1 1 1v2l-1 1-1-1zm4 0l1-1 1 1v2l-1 1-1-1zm38 66l1-1 1 1v2l-1 1-1-1zm-9 3l1-1 1 1v2l-1 1-1-1zm0 6l1-1 1 1v2l-1 1-1-1zm5 3l1-1 1 1v2l-1 1-1-1zm0 6l1-1 1 1v2l-1 1-1-1zm2 0l1-1 1 1v2l-1 1-1-1zm-1 3l1-1 1 1v2l-1 1-1-1zm-1 3l1-1 1 1v2l-1 1-1-1zm4 0l1-1 1 1v2l-1 1-1-1zm-5 3l1-1 1 1v2l-1 1-1-1zm6 0l1-1 1 1v2l-1 1-1-1zm-1 3l1-1 1 1v2l-1 1-1-1zm-1 3l1-1 1 1v2l-1 1-1-1zm4 0l1-1 1 1v2l-1 1-1-1zm4 0l1-1 1 1v2l-1 1-1-1zm-5 3l1-1 1 1v2l-1 1-1-1zm2 0l1-1 1 1v2l-1 1-1-1zm2 0l1-1 1 1v2l-1 1-1-1zm-3 3l1-1 1 1v2l-1 1-1-1zm4 0l1-1 1 1v2l-1 1-1-1zm16 0l1-1 1 1v2l-1 1-1-1zm-21 3l1-1 1 1v2l-1 1-1-1zm-1 3l1-1 1 1v2l-1 1-1-1zm2 0l1-1 1 1v2l-1 1-1-1zm12 0l1-1 1 1v2l-1 1-1-1zm-13 3l1-1 1 1v2l-1 1-1-1zm10 0l1-1 1 1v2l-1 1-1-1zm8 0l1-1 1 1v2l-1 1-1-1zm8 0l1-1 1 1v2l-1 1-1-1zm-17 3l1-1 1 1v2l-1 1-1-1zm6 0l1-1 1 1v2l-1 1-1-1zm-11 3l1-1 1 1v2l-1 1-1-1zm6 0l1-1 1 1v2l-1 1-1-1zm4 0l1-1 1 1v2l-1 1-1-1zm-3 3l1-1 1 1v2l-1 1-1-1zm4 0l1-1 1 1v2l-1 1-1-1zm12 0l1-1 1 1v2l-1 1-1-1zm-21 3l1-1 1 1v2l-1 1-1-1zm8 0l1-1 1 1v2l-1 1-1-1zm-7 3l1-1 1 1v2l-1 1-1-1zm8 0l1-1 1 1v2l-1 1-1-1zm-7 3l1-1 1 1v2l-1 1-1-1zm2 0l1-1 1 1v2l-1 1-1-1zm12 0l1-1 1 1v2l-1 1-1-1zm2 0l1-1 1 1v2l-1 1-1-1zm-13 3l1-1 1 1v2l-1 1-1-1zm12 0l1-1 1 1v2l-1 1-1-1zm-13 3l1-1 1 1v2l-1 1-1-1zm16 0l1-1 1 1v2l-1 1-1-1zm2 0l1-1 1 1v2l-1 1-1-1zm-12 6l1-1 1 1v2l-1 1-1-1zm2 0l1-1 1 1v2l-1 1-1-1zm6 0l1-1 1 1v2l-1 1-1-1zm12 0l1-1 1 1v2l-1 1-1-1zm-17 3l1-1 1 1v2l-1 1-1-1zm6 0l1-1 1 1v2l-1 1-1-1zm-15 3l1-1 1 1v2l-1 1-1-1zm6 0l1-1 1 1v2l-1 1-1-1zm4 0l1-1 1 1v2l-1 1-1-1zm2 0l1-1 1 1v2l-1 1-1-1zm8 0l1-1 1 1v2l-1 1-1-1zm6 0l1-1 1 1v2l-1 1-1-1zm-11 3l1-1 1 1v2l-1 1-1-1zm2 0l1-1 1 1v2l-1 1-1-1zm4 0l1-1 1 1v2l-1 1-1-1zm2 0l1-1 1 1v2l-1 1-1-1zm8 0l1-1 1 1v2l-1 1-1-1zm-21 3l1-1 1 1v2l-1 1-1-1zm6 0l1-1 1 1v2l-1 1-1-1zm-5 3l1-1 1 1v2l-1 1-1-1zm6 0l1-1 1 1v2l-1 1-1-1zm4 0l1-1 1 1v2l-1 1-1-1zm4 0l1-1 1 1v2l-1 1-1-1zm8 0l1-1 1 1v2l-1 1-1-1zm-13 3l1-1 1 1v2l-1 1-1-1zm4 0l1-1 1 1v2l-1 1-1-1zm2 0l1-1 1 1v2l-1 1-1-1zm2 0l1-1 1 1v2l-1 1-1-1zm16 0l1-1 1 1v2l-1 1-1-1zm-27 3l1-1 1 1v2l-1 1-1-1zm4 0l1-1 1 1v2l-1 1-1-1zm2 0l1-1 1 1v2l-1 1-1-1zm4 0l1-1 1 1v2l-1 1-1-1zm6 0l1-1 1 1v2l-1 1-1-1zm-11 3l1-1 1 1v2l-1 1-1-1zm8 0l1-1 1 1v2l-1 1-1-1zm-17 3l1-1 1 1v2l-1 1-1-1zm28 0l1-1 1 1v2l-1 1-1-1zm-25 3l1-1 1 1v2l-1 1-1-1zm4 0l1-1 1 1v2l-1 1-1-1zm8 0l1-1 1 1v2l-1 1-1-1zm6 0l1-1 1 1v2l-1 1-1-1zm-19 3l1-1 1 1v2l-1 1-1-1zm14 0l1-1 1 1v2l-1 1-1-1zm2 0l1-1 1 1v2l-1 1-1-1zm10 0l1-1 1 1v2l-1 1-1-1zm-29 3l1-1 1 1v2l-1 1-1-1zm2 0l1-1 1 1v2l-1 1-1-1zm6 0l1-1 1 1v2l-1 1-1-1zm8 0l1-1 1 1v2l-1 1-1-1zm-1 3l1-1 1 1v2l-1 1-1-1zm10 0l1-1 1 1v2l-1 1-1-1zm4 0l1-1 1 1v2l-1 1-1-1zm8 0l1-1 1 1v2l-1 1-1-1zm-15 3l1-1 1 1v2l-1 1-1-1zm4 0l1-1 1 1v2l-1 1-1-1zm6 0l1-1 1 1v2l-1 1-1-1zm4 0l1-1 1 1v2l-1 1-1-1zm-17 3l1-1 1 1v2l-1 1-1-1zm8 0l1-1 1 1v2l-1 1-1-1zm-3 3l1-1 1 1v2l-1 1-1-1zm14 0l1-1 1 1v2l-1 1-1-1zm-33 3l1-1 1 1v2l-1 1-1-1zm10 0l1-1 1 1v2l-1 1-1-1zm8 0l1-1 1 1v2l-1 1-1-1zm6 0l1-1 1 1v2l-1 1-1-1zm-29 3l1-1 1 1v2l-1 1-1-1zm6 0l1-1 1 1v2l-1 1-1-1zm16 0l1-1 1 1v2l-1 1-1-1zm6 0l1-1 1 1v2l-1 1-1-1zm14 0l1-1 1 1v2l-1 1-1-1zm-17 3l1-1 1 1v2l-1 1-1-1zm22 0l1-1 1 1v2l-1 1-1-1zm4 0l1-1 1 1v2l-1 1-1-1zm-37 3l1-1 1 1v2l-1 1-1-1zm22 0l1-1 1 1v2l-1 1-1-1zm16 0l1-1 1 1v2l-1 1-1-1zm-29 3l1-1 1 1v2l-1 1-1-1zm8 0l1-1 1 1v2l-1 1-1-1zm2 0l1-1 1 1v2l-1 1-1-1zm10 0l1-1 1 1v2l-1 1-1-1zm6 0l1-1 1 1v2l-1 1-1-1zm-33 3l1-1 1 1v2l-1 1-1-1zm2 0l1-1 1 1v2l-1 1-1-1zm30 0l1-1 1 1v2l-1 1-1-1zm4 0l1-1 1 1v2l-1 1-1-1zm2 0l1-1 1 1v2l-1 1-1-1zm-49 3l1-1 1 1v2l-1 1-1-1zm6 0l1-1 1 1v2l-1 1-1-1zm10 0l1-1 1 1v2l-1 1-1-1zm12 0l1-1 1 1v2l-1 1-1-1zm8 0l1-1 1 1v2l-1 1-1-1zm-15 3l1-1 1 1v2l-1 1-1-1zm8 0l1-1 1 1v2l-1 1-1-1zm2 0l1-1 1 1v2l-1 1-1-1zm10 0l1-1 1 1v2l-1 1-1-1zm12 0l1-1 1 1v2l-1 1-1-1zm-29 3l1-1 1 1v2l-1 1-1-1zm12 0l1-1 1 1v2l-1 1-1-1zm4 0l1-1 1 1v2l-1 1-1-1zm8 0l1-1 1 1v2l-1 1-1-1zm-13 3l1-1 1 1v2l-1 1-1-1zm6 0l1-1 1 1v2l-1 1-1-1zm4 0l1-1 1 1v2l-1 1-1-1zm8 0l1-1 1 1v2l-1 1-1-1zm2 0l1-1 1 1v2l-1 1-1-1zm-25 3l1-1 1 1v2l-1 1-1-1zm12 0l1-1 1 1v2l-1 1-1-1zm14 0l1-1 1 1v2l-1 1-1-1zm2 0l1-1 1 1v2l-1 1-1-1zm-29 3l1-1 1 1v2l-1 1-1-1zm4 0l1-1 1 1v2l-1 1-1-1zm10 0l1-1 1 1v2l-1 1-1-1zm12 0l1-1 1 1v2l-1 1-1-1zm8 0l1-1 1 1v2l-1 1-1-1zm-29 3l1-1 1 1v2l-1 1-1-1zm10 0l1-1 1 1v2l-1 1-1-1zm8 0l1-1 1 1v2l-1 1-1-1zm8 0l1-1 1 1v2l-1 1-1-1zm-49 3l1-1 1 1v2l-1 1-1-1zm18 0l1-1 1 1v2l-1 1-1-1zm6 0l1-1 1 1v2l-1 1-1-1zm4 0l1-1 1 1v2l-1 1-1-1zm10 0l1-1 1 1v2l-1 1-1-1zm12 0l1-1 1 1v2l-1 1-1-1zm-51 3l1-1 1 1v2l-1 1-1-1zm2 0l1-1 1 1v2l-1 1-1-1zm16 0l1-1 1 1v2l-1 1-1-1zm12 0l1-1 1 1v2l-1 1-1-1zm4 0l1-1 1 1v2l-1 1-1-1zm10 0l1-1 1 1v2l-1 1-1-1zm-47 3l1-1 1 1v2l-1 1-1-1zm34 0l1-1 1 1v2l-1 1-1-1zm8 0l1-1 1 1v2l-1 1-1-1zm4 0l1-1 1 1v2l-1 1-1-1zm10 0l1-1 1 1v2l-1 1-1-1zm-51 3l1-1 1 1v2l-1 1-1-1zm20 0l1-1 1 1v2l-1 1-1-1zm14 0l1-1 1 1v2l-1 1-1-1zm2 0l1-1 1 1v2l-1 1-1-1zm12 0l1-1 1 1v2l-1 1-1-1zm8 0l1-1 1 1v2l-1 1-1-1zm4 0l1-1 1 1v2l-1 1-1-1zm2 0l1-1 1 1v2l-1 1-1-1zm-61 3l1-1 1 1v2l-1 1-1-1zm8 0l1-1 1 1v2l-1 1-1-1zm16 0l1-1 1 1v2l-1 1-1-1zm8 0l1-1 1 1v2l-1 1-1-1zm20 0l1-1 1 1v2l-1 1-1-1zm4 0l1-1 1 1v2l-1 1-1-1zm-47 3l1-1 1 1v2l-1 1-1-1zm6 0l1-1 1 1v2l-1 1-1-1zm8 0l1-1 1 1v2l-1 1-1-1zm6 0l1-1 1 1v2l-1 1-1-1zm6 0l1-1 1 1v2l-1 1-1-1zm20 0l1-1 1 1v2l-1 1-1-1zm4 0l1-1 1 1v2l-1 1-1-1zm-25 3l1-1 1 1v2l-1 1-1-1zm2 0l1-1 1 1v2l-1 1-1-1zm2 0l1-1 1 1v2l-1 1-1-1zm6 0l1-1 1 1v2l-1 1-1-1zm14 0l1-1 1 1v2l-1 1-1-1zm-33 3l1-1 1 1v2l-1 1-1-1zm6 0l1-1 1 1v2l-1 1-1-1zm8 0l1-1 1 1v2l-1 1-1-1zm14 0l1-1 1 1v2l-1 1-1-1zm-43 3l1-1 1 1v2l-1 1-1-1zm36 0l1-1 1 1v2l-1 1-1-1zm2 0l1-1 1 1v2l-1 1-1-1zm18 0l1-1 1 1v2l-1 1-1-1zm-23 3l1-1 1 1v2l-1 1-1-1zm10 0l1-1 1 1v2l-1 1-1-1zm2 0l1-1 1 1v2l-1 1-1-1zm10 0l1-1 1 1v2l-1 1-1-1zm2 0l1-1 1 1v2l-1 1-1-1zm4 0l1-1 1 1v2l-1 1-1-1zm-23 3l1-1 1 1v2l-1 1-1-1zm2 0l1-1 1 1v2l-1 1-1-1zm10 0l1-1 1 1v2l-1 1-1-1zm6 0l1-1 1 1v2l-1 1-1-1zm2 0l1-1 1 1v2l-1 1-1-1zm-37 3l1-1 1 1v2l-1 1-1-1zm8 0l1-1 1 1v2l-1 1-1-1zm8 0l1-1 1 1v2l-1 1-1-1zm4 0l1-1 1 1v2l-1 1-1-1zm8 0l1-1 1 1v2l-1 1-1-1zm2 0l1-1 1 1v2l-1 1-1-1zm-3 3l1-1 1 1v2l-1 1-1-1zm12 0l1-1 1 1v2l-1 1-1-1zm6 0l1-1 1 1v2l-1 1-1-1zm-37 3l1-1 1 1v2l-1 1-1-1zm24 0l1-1 1 1v2l-1 1-1-1zm4 0l1-1 1 1v2l-1 1-1-1zm2 0l1-1 1 1v2l-1 1-1-1zm2 0l1-1 1 1v2l-1 1-1-1zm-47 3l1-1 1 1v2l-1 1-1-1zm46 0l1-1 1 1v2l-1 1-1-1zm-53 3l1-1 1 1v2l-1 1-1-1zm12 0l1-1 1 1v2l-1 1-1-1zm28 0l1-1 1 1v2l-1 1-1-1zm24 0l1-1 1 1v2l-1 1-1-1zm-41 3l1-1 1 1v2l-1 1-1-1zm2 0l1-1 1 1v2l-1 1-1-1zm22 0l1-1 1 1v2l-1 1-1-1zm6 0l1-1 1 1v2l-1 1-1-1zm4 0l1-1 1 1v2l-1 1-1-1zm8 0l1-1 1 1v2l-1 1-1-1zm-9 3l1-1 1 1v2l-1 1-1-1zm8 0l1-1 1 1v2l-1 1-1-1zm2 0l1-1 1 1v2l-1 1-1-1zm-45 3l1-1 1 1v2l-1 1-1-1zm18 0l1-1 1 1v2l-1 1-1-1zm18 0l1-1 1 1v2l-1 1-1-1zm2 0l1-1 1 1v2l-1 1-1-1zm-67 3l1-1 1 1v2l-1 1-1-1zm34 0l1-1 1 1v2l-1 1-1-1zm6 0l1-1 1 1v2l-1 1-1-1zm2 0l1-1 1 1v2l-1 1-1-1zm24 0l1-1 1 1v2l-1 1-1-1zm12 0l1-1 1 1v2l-1 1-1-1zm-79 3l1-1 1 1v2l-1 1-1-1zm12 0l1-1 1 1v2l-1 1-1-1zm24 0l1-1 1 1v2l-1 1-1-1zm44 0l1-1 1 1v2l-1 1-1-1zm2 0l1-1 1 1v2l-1 1-1-1zm-83 3l1-1 1 1v2l-1 1-1-1zm2 0l1-1 1 1v2l-1 1-1-1zm54 0l1-1 1 1v2l-1 1-1-1zm8 0l1-1 1 1v2l-1 1-1-1zm14 0l1-1 1 1v2l-1 1-1-1zm2 0l1-1 1 1v2l-1 1-1-1zm2 0l1-1 1 1v2l-1 1-1-1zm-35 3l1-1 1 1v2l-1 1-1-1zm34 0l1-1 1 1v2l-1 1-1-1zm-59 3l1-1 1 1v2l-1 1-1-1zm60 0l1-1 1 1v2l-1 1-1-1zm-27 3l1-1 1 1v2l-1 1-1-1zm2 0l1-1 1 1v2l-1 1-1-1zm32 0l1-1 1 1v2l-1 1-1-1zm1 3l1-1 1 1v2l-1 1-1-1zm-15 3l1-1 1 1v2l-1 1-1-1zm2 0l1-1 1 1v2l-1 1-1-1zm8 0l1-1 1 1v2l-1 1-1-1zm6 0l1-1 1 1v2l-1 1-1-1zm-13 3l1-1 1 1v2l-1 1-1-1zm2 0l1-1 1 1v2l-1 1-1-1zm10 0l1-1 1 1v2l-1 1-1-1zm-27 3l1-1 1 1v2l-1 1-1-1zm12 0l1-1 1 1v2l-1 1-1-1zm6 0l1-1 1 1v2l-1 1-1-1zm8 0l1-1 1 1v2l-1 1-1-1zm-95 3l1-1 1 1v2l-1 1-1-1zm92 0l1-1 1 1v2l-1 1-1-1zm-31 3l1-1 1 1v2l-1 1-1-1zm36 0l1-1 1 1v2l-1 1-1-1zm6 0l1-1 1 1v2l-1 1-1-1zm-71 3l1-1 1 1v2l-1 1-1-1zm46 0l1-1 1 1v2l-1 1-1-1zm18 0l1-1 1 1v2l-1 1-1-1zm4 0l1-1 1 1v2l-1 1-1-1zm4 0l1-1 1 1v2l-1 1-1-1zm4 0l1-1 1 1v2l-1 1-1-1zm-4 6l1-1 1 1v2l-1 1-1-1zm6 0l1-1 1 1v2l-1 1-1-1zm-49 3l1-1 1 1v2l-1 1-1-1zm46 0l1-1 1 1v2l-1 1-1-1zm7 3l1-1 1 1v2l-1 1-1-1zm-5 3l1-1 1 1v2l-1 1-1-1zm6 0l1-1 1 1v2l-1 1-1-1zm-1 9l1-1 1 1v2l-1 1-1-1zm6 0l1-1 1 1v2l-1 1-1-1zm-3 3l1-1 1 1v2l-1 1-1-1zm4 0l1-1 1 1v2l-1 1-1-1zm4 6l1-1 1 1v2l-1 1-1-1zm2 0l1-1 1 1v2l-1 1-1-1zm2 6l1-1 1 1v2l-1 1-1-1z"/><path fill="#2d91cb" d="M4 8l1-1 1 1v2l-1 1-1-1zm1 3l1-1 1 1v2l-1 1-1-1zm8 12l1-1 1 1v2l-1 1-1-1zm4 6l1-1 1 1v2l-1 1-1-1zm5 15l1-1 1 1v2l-1 1-1-1zm9 9l1-1 1 1v2l-1 1-1-1zm-2 6l1-1 1 1v2l-1 1-1-1zm1 3l1-1 1 1v2l-1 1-1-1zm5 9l1-1 1 1v2l-1 1-1-1zm1 3l1-1 1 1v2l-1 1-1-1zm9 15l1-1 1 1v2l-1 1-1-1zm2 6l1-1 1 1v2l-1 1-1-1zm1 9l1-1 1 1v2l-1 1-1-1zm6 12l1-1 1 1v2l-1 1-1-1zm14 0l1-1 1 1v2l-1 1-1-1zm-9 3l1-1 1 1v2l-1 1-1-1zm1 3l1-1 1 1v2l-1 1-1-1zm-3 3l1-1 1 1v2l-1 1-1-1zm1 3l1-1 1 1v2l-1 1-1-1zm12 0l1-1 1 1v2l-1 1-1-1zm-9 3l1-1 1 1v2l-1 1-1-1zm10 0l1-1 1 1v2l-1 1-1-1zm-7 3l1-1 1 1v2l-1 1-1-1zm14 0l1-1 1 1v2l-1 1-1-1zm-9 9l1-1 1 1v2l-1 1-1-1zm4 0l1-1 1 1v2l-1 1-1-1zm-9 3l1-1 1 1v2l-1 1-1-1zm12 0l1-1 1 1v2l-1 1-1-1zm-7 3l1-1 1 1v2l-1 1-1-1zm4 0l1-1 1 1v2l-1 1-1-1zm-7 3l1-1 1 1v2l-1 1-1-1zm12 0l1-1 1 1v2l-1 1-1-1zm-9 3l1-1 1 1v2l-1 1-1-1zm8 0l1-1 1 1v2l-1 1-1-1zm2 0l1-1 1 1v2l-1 1-1-1zm2 0l1-1 1 1v2l-1 1-1-1zm1 3l1-1 1 1v2l-1 1-1-1zm-11 3l1-1 1 1v2l-1 1-1-1zm2 0l1-1 1 1v2l-1 1-1-1zm6 0l1-1 1 1v2l-1 1-1-1zm4 0l1-1 1 1v2l-1 1-1-1zm-13 3l1-1 1 1v2l-1 1-1-1zm10 0l1-1 1 1v2l-1 1-1-1zm-3 3l1-1 1 1v2l-1 1-1-1zm-3 3l1-1 1 1v2l-1 1-1-1zm2 0l1-1 1 1v2l-1 1-1-1zm4 0l1-1 1 1v2l-1 1-1-1zm2 0l1-1 1 1v2l-1 1-1-1zm4 0l1-1 1 1v2l-1 1-1-1zm2 0l1-1 1 1v2l-1 1-1-1zm13 3l1-1 1 1v2l-1 1-1-1zm-27 3l1-1 1 1v2l-1 1-1-1zm2 0l1-1 1 1v2l-1 1-1-1zm12 0l1-1 1 1v2l-1 1-1-1zm6 0l1-1 1 1v2l-1 1-1-1zm-19 3l1-1 1 1v2l-1 1-1-1zm1 3l1-1 1 1v2l-1 1-1-1zm16 0l1-1 1 1v2l-1 1-1-1zm-5 3l1-1 1 1v2l-1 1-1-1zm12 0l1-1 1 1v2l-1 1-1-1zm-25 3l1-1 1 1v2l-1 1-1-1zm16 0l1-1 1 1v2l-1 1-1-1zm8 0l1-1 1 1v2l-1 1-1-1zm-1 3l1-1 1 1v2l-1 1-1-1zm2 0l1-1 1 1v2l-1 1-1-1zm6 0l1-1 1 1v2l-1 1-1-1zm-15 3l1-1 1 1v2l-1 1-1-1zm17 3l1-1 1 1v2l-1 1-1-1zm-27 3l1-1 1 1v2l-1 1-1-1zm4 0l1-1 1 1v2l-1 1-1-1zm6 0l1-1 1 1v2l-1 1-1-1zm6 0l1-1 1 1v2l-1 1-1-1zm6 0l1-1 1 1v2l-1 1-1-1zm3 3l1-1 1 1v2l-1 1-1-1zm-11 3l1-1 1 1v2l-1 1-1-1zm4 0l1-1 1 1v2l-1 1-1-1zm-9 3l1-1 1 1v2l-1 1-1-1zm8 0l1-1 1 1v2l-1 1-1-1zm4 0l1-1 1 1v2l-1 1-1-1zm12 0l1-1 1 1v2l-1 1-1-1zm8 0l1-1 1 1v2l-1 1-1-1zm-15 3l1-1 1 1v2l-1 1-1-1zm-19 3l1-1 1 1v2l-1 1-1-1zm2 0l1-1 1 1v2l-1 1-1-1zm20 0l1-1 1 1v2l-1 1-1-1zm16 0l1-1 1 1v2l-1 1-1-1zm-7 3l1-1 1 1v2l-1 1-1-1zm-15 3l1-1 1 1v2l-1 1-1-1zm18 0l1-1 1 1v2l-1 1-1-1zm-13 3l1-1 1 1v2l-1 1-1-1zm10 0l1-1 1 1v2l-1 1-1-1zm-19 3l1-1 1 1v2l-1 1-1-1zm-5 3l1-1 1 1v2l-1 1-1-1zm26 0l1-1 1 1v2l-1 1-1-1zm6 0l1-1 1 1v2l-1 1-1-1zm8 0l1-1 1 1v2l-1 1-1-1zm-33 3l1-1 1 1v2l-1 1-1-1zm6 0l1-1 1 1v2l-1 1-1-1zm16 0l1-1 1 1v2l-1 1-1-1zm4 0l1-1 1 1v2l-1 1-1-1zm-17 3l1-1 1 1v2l-1 1-1-1zm6 0l1-1 1 1v2l-1 1-1-1zm6 0l1-1 1 1v2l-1 1-1-1zm4 0l1-1 1 1v2l-1 1-1-1zm2 0l1-1 1 1v2l-1 1-1-1zm-25 3l1-1 1 1v2l-1 1-1-1zm12 0l1-1 1 1v2l-1 1-1-1zm2 0l1-1 1 1v2l-1 1-1-1zm8 0l1-1 1 1v2l-1 1-1-1zm6 0l1-1 1 1v2l-1 1-1-1zm-13 3l1-1 1 1v2l-1 1-1-1zm4 0l1-1 1 1v2l-1 1-1-1zm8 0l1-1 1 1v2l-1 1-1-1zm6 0l1-1 1 1v2l-1 1-1-1zm-21 3l1-1 1 1v2l-1 1-1-1zm4 0l1-1 1 1v2l-1 1-1-1zm4 0l1-1 1 1v2l-1 1-1-1zm6 0l1-1 1 1v2l-1 1-1-1zm-29 3l1-1 1 1v2l-1 1-1-1zm10 0l1-1 1 1v2l-1 1-1-1zm18 0l1-1 1 1v2l-1 1-1-1zm2 0l1-1 1 1v2l-1 1-1-1zm-19 3l1-1 1 1v2l-1 1-1-1zm20 0l1-1 1 1v2l-1 1-1-1zm2 0l1-1 1 1v2l-1 1-1-1zm4 0l1-1 1 1v2l-1 1-1-1zm2 0l1-1 1 1v2l-1 1-1-1zm-21 3l1-1 1 1v2l-1 1-1-1zm22 0l1-1 1 1v2l-1 1-1-1zm4 0l1-1 1 1v2l-1 1-1-1zm4 0l1-1 1 1v2l-1 1-1-1zm-29 3l1-1 1 1v2l-1 1-1-1zm12 0l1-1 1 1v2l-1 1-1-1zm6 0l1-1 1 1v2l-1 1-1-1zm2 0l1-1 1 1v2l-1 1-1-1zm10 0l1-1 1 1v2l-1 1-1-1zm-25 3l1-1 1 1v2l-1 1-1-1zm-1 3l1-1 1 1v2l-1 1-1-1zm10 0l1-1 1 1v2l-1 1-1-1zm-5 3l1-1 1 1v2l-1 1-1-1zm16 0l1-1 1 1v2l-1 1-1-1zm2 0l1-1 1 1v2l-1 1-1-1zm-2 6l1-1 1 1v2l-1 1-1-1zm2 0l1-1 1 1v2l-1 1-1-1zm12 0l1-1 1 1v2l-1 1-1-1zm-11 3l1-1 1 1v2l-1 1-1-1zm10 0l1-1 1 1v2l-1 1-1-1zm-15 3l1-1 1 1v2l-1 1-1-1zm4 0l1-1 1 1v2l-1 1-1-1zm3 3l1-1 1 1v2l-1 1-1-1zm10 0l1-1 1 1v2l-1 1-1-1zm2 0l1-1 1 1v2l-1 1-1-1zm-15 9l1-1 1 1v2l-1 1-1-1zm6 0l1-1 1 1v2l-1 1-1-1zm6 0l1-1 1 1v2l-1 1-1-1zm-7 3l1-1 1 1v2l-1 1-1-1zm-41 3l1-1 1 1v2l-1 1-1-1zm52 0l1-1 1 1v2l-1 1-1-1zm-35 3l1-1 1 1v2l-1 1-1-1zm14 0l1-1 1 1v2l-1 1-1-1zm31 3l1-1 1 1v2l-1 1-1-1zm-11 3l1-1 1 1v2l-1 1-1-1zm13 3l1-1 1 1v2l-1 1-1-1zm7 3l1-1 1 1v2l-1 1-1-1zm-7 3l1-1 1 1v2l-1 1-1-1zm2 0l1-1 1 1v2l-1 1-1-1zm-7 3l1-1 1 1v2l-1 1-1-1zm7 3l1-1 1 1v2l-1 1-1-1zm9 3l1-1 1 1v2l-1 1-1-1zm-63 3l1-1 1 1v2l-1 1-1-1zm38 0l1-1 1 1v2l-1 1-1-1zm22 0l1-1 1 1v2l-1 1-1-1zm0 6l1-1 1 1v2l-1 1-1-1zm10 0l1-1 1 1v2l-1 1-1-1zm-27 3l1-1 1 1v2l-1 1-1-1zm6 0l1-1 1 1v2l-1 1-1-1zm14 6l1-1 1 1v2l-1 1-1-1zm9 3l1-1 1 1v2l-1 1-1-1zm2 0l1-1 1 1v2l-1 1-1-1zm6 6l1-1 1 1v2l-1 1-1-1zm-3 3l1-1 1 1v2l-1 1-1-1zm2 0l1-1 1 1v2l-1 1-1-1zm-21 3l1-1 1 1v2l-1 1-1-1zm27 3l1-1 1 1v2l-1 1-1-1zm-3 3l1-1 1 1v2l-1 1-1-1zm1 3l1-1 1 1v2l-1 1-1-1zm34 48l1-1 1 1v2l-1 1-1-1z"/><path fill="#32a6ca" d="M22 38l1-1 1 1v2l-1 1-1-1zm4 6l1-1 1 1v2l-1 1-1-1zm-3 3l1-1 1 1v2l-1 1-1-1zm2 0l1-1 1 1v2l-1 1-1-1zm2 6l1-1 1 1v2l-1 1-1-1zm5 9l1-1 1 1v2l-1 1-1-1zm8 18l1-1 1 1v2l-1 1-1-1zm1 3l1-1 1 1v2l-1 1-1-1zm6 6l1-1 1 1v2l-1 1-1-1zm7 3l1-1 1 1v2l-1 1-1-1zm-9 3l1-1 1 1v2l-1 1-1-1zm7 3l1-1 1 1v2l-1 1-1-1zm-1 3l1-1 1 1v2l-1 1-1-1zm2 0l1-1 1 1v2l-1 1-1-1zm3 3l1-1 1 1v2l-1 1-1-1zm-7 3l1-1 1 1v2l-1 1-1-1zm4 0l1-1 1 1v2l-1 1-1-1zm0 6l1-1 1 1v2l-1 1-1-1zm4 0l1-1 1 1v2l-1 1-1-1zm3 3l1-1 1 1v2l-1 1-1-1zm-7 3l1-1 1 1v2l-1 1-1-1zm9 3l1-1 1 1v2l-1 1-1-1zm1 3l1-1 1 1v2l-1 1-1-1zm2 0l1-1 1 1v2l-1 1-1-1zm-9 3l1-1 1 1v2l-1 1-1-1zm11 3l1-1 1 1v2l-1 1-1-1zm0 6l1-1 1 1v2l-1 1-1-1zm-3 3l1-1 1 1v2l-1 1-1-1zm4 0l1-1 1 1v2l-1 1-1-1zm2 0l1-1 1 1v2l-1 1-1-1zm-5 3l1-1 1 1v2l-1 1-1-1zm12 0l1-1 1 1v2l-1 1-1-1zm-5 3l1-1 1 1v2l-1 1-1-1zm-4 6l1-1 1 1v2l-1 1-1-1zm16 6l1-1 1 1v2l-1 1-1-1zm2 0l1-1 1 1v2l-1 1-1-1zm6 0l1-1 1 1v2l-1 1-1-1zm-7 3l1-1 1 1v2l-1 1-1-1zm2 0l1-1 1 1v2l-1 1-1-1zm2 0l1-1 1 1v2l-1 1-1-1zm-3 3l1-1 1 1v2l-1 1-1-1zm7 3l1-1 1 1v2l-1 1-1-1zm1 3l1-1 1 1v2l-1 1-1-1zm-11 3l1-1 1 1v2l-1 1-1-1zm2 0l1-1 1 1v2l-1 1-1-1zm6 0l1-1 1 1v2l-1 1-1-1zm2 0l1-1 1 1v2l-1 1-1-1zm4 0l1-1 1 1v2l-1 1-1-1zm-15 3l1-1 1 1v2l-1 1-1-1zm8 0l1-1 1 1v2l-1 1-1-1zm8 0l1-1 1 1v2l-1 1-1-1zm4 0l1-1 1 1v2l-1 1-1-1zm-13 3l1-1 1 1v2l-1 1-1-1zm4 0l1-1 1 1v2l-1 1-1-1zm-5 3l1-1 1 1v2l-1 1-1-1zm10 0l1-1 1 1v2l-1 1-1-1zm2 0l1-1 1 1v2l-1 1-1-1zm-5 3l1-1 1 1v2l-1 1-1-1zm1 3l1-1 1 1v2l-1 1-1-1zm-10 6l1-1 1 1v2l-1 1-1-1zm8 0l1-1 1 1v2l-1 1-1-1zm4 0l1-1 1 1v2l-1 1-1-1zm10 0l1-1 1 1v2l-1 1-1-1zm5 3l1-1 1 1v2l-1 1-1-1zm-13 3l1-1 1 1v2l-1 1-1-1zm-21 3l1-1 1 1v2l-1 1-1-1zm10 0l1-1 1 1v2l-1 1-1-1zm25 3l1-1 1 1v2l-1 1-1-1zm2 0l1-1 1 1v2l-1 1-1-1zm4 0l1-1 1 1v2l-1 1-1-1zm-13 3l1-1 1 1v2l-1 1-1-1zm10 0l1-1 1 1v2l-1 1-1-1zm-9 3l1-1 1 1v2l-1 1-1-1zm-3 3l1-1 1 1v2l-1 1-1-1zm6 0l1-1 1 1v2l-1 1-1-1zm2 0l1-1 1 1v2l-1 1-1-1zm6 0l1-1 1 1v2l-1 1-1-1zm-3 3l1-1 1 1v2l-1 1-1-1zm1 3l1-1 1 1v2l-1 1-1-1zm-5 3l1-1 1 1v2l-1 1-1-1zm8 0l1-1 1 1v2l-1 1-1-1zm4 0l1-1 1 1v2l-1 1-1-1zm-5 3l1-1 1 1v2l-1 1-1-1zm5 3l1-1 1 1v2l-1 1-1-1zm4 0l1-1 1 1v2l-1 1-1-1zm3 3l1-1 1 1v2l-1 1-1-1zm-7 3l1-1 1 1v2l-1 1-1-1zm3 3l1-1 1 1v2l-1 1-1-1zm2 0l1-1 1 1v2l-1 1-1-1zm-1 3l1-1 1 1v2l-1 1-1-1zm6 0l1-1 1 1v2l-1 1-1-1zm4 0l1-1 1 1v2l-1 1-1-1zm-5 3l1-1 1 1v2l-1 1-1-1zm10 0l1-1 1 1v2l-1 1-1-1zm-11 3l1-1 1 1v2l-1 1-1-1zm2 0l1-1 1 1v2l-1 1-1-1zm6 0l1-1 1 1v2l-1 1-1-1zm2 0l1-1 1 1v2l-1 1-1-1zm-17 3l1-1 1 1v2l-1 1-1-1zm1 3l1-1 1 1v2l-1 1-1-1zm19 3l1-1 1 1v2l-1 1-1-1zm-5 3l1-1 1 1v2l-1 1-1-1zm12 6l1-1 1 1v2l-1 1-1-1zm-11 3l1-1 1 1v2l-1 1-1-1zm11 3l1-1 1 1v2l-1 1-1-1zm4 0l1-1 1 1v2l-1 1-1-1zm-13 9l1-1 1 1v2l-1 1-1-1zm20 0l1-1 1 1v2l-1 1-1-1zm-13 3l1-1 1 1v2l-1 1-1-1zm4 0l1-1 1 1v2l-1 1-1-1zm8 0l1-1 1 1v2l-1 1-1-1zm-6 6l1-1 1 1v2l-1 1-1-1zm10 0l1-1 1 1v2l-1 1-1-1zm2 0l1-1 1 1v2l-1 1-1-1zm-16 6l1-1 1 1v2l-1 1-1-1zm19 3l1-1 1 1v2l-1 1-1-1zm7 9l1-1 1 1v2l-1 1-1-1zm-1 3l1-1 1 1v2l-1 1-1-1zm-9 3l1-1 1 1v2l-1 1-1-1zm4 0l1-1 1 1v2l-1 1-1-1zm6 0l1-1 1 1v2l-1 1-1-1zm-5 3l1-1 1 1v2l-1 1-1-1zm6 0l1-1 1 1v2l-1 1-1-1zm4 6l1-1 1 1v2l-1 1-1-1zm3 3l1-1 1 1v2l-1 1-1-1zm1 3l1-1 1 1v2l-1 1-1-1zm-7 3l1-1 1 1v2l-1 1-1-1zm4 0l1-1 1 1v2l-1 1-1-1zm1 3l1-1 1 1v2l-1 1-1-1zm3 3l1-1 1 1v2l-1 1-1-1zm1 3l1-1 1 1v2l-1 1-1-1zm6 0l1-1 1 1v2l-1 1-1-1zm-11 3l1-1 1 1v2l-1 1-1-1zm13 3l1-1 1 1v2l-1 1-1-1zm5 9l1-1 1 1v2l-1 1-1-1z"/><path fill="#4ab2ba" d="M18 32l1-1 1 1v2l-1 1-1-1zm3 9l1-1 1 1v2l-1 1-1-1zm6 6l1-1 1 1v2l-1 1-1-1zm12 30l1-1 1 1v2l-1 1-1-1zm3 3l1-1 1 1v2l-1 1-1-1zm2 6l1-1 1 1v2l-1 1-1-1zm2 12l1-1 1 1v2l-1 1-1-1zm2 0l1-1 1 1v2l-1 1-1-1zm4 6l1-1 1 1v2l-1 1-1-1zm-1 3l1-1 1 1v2l-1 1-1-1zm13 3l1-1 1 1v2l-1 1-1-1zm-13 3l1-1 1 1v2l-1 1-1-1zm11 3l1-1 1 1v2l-1 1-1-1zm1 3l1-1 1 1v2l-1 1-1-1zm3 3l1-1 1 1v2l-1 1-1-1zm1 3l1-1 1 1v2l-1 1-1-1zm1 3l1-1 1 1v2l-1 1-1-1zm-9 9l1-1 1 1v2l-1 1-1-1zm12 0l1-1 1 1v2l-1 1-1-1zm4 0l1-1 1 1v2l-1 1-1-1zm-1 3l1-1 1 1v2l-1 1-1-1zm2 0l1-1 1 1v2l-1 1-1-1zm-5 3l1-1 1 1v2l-1 1-1-1zm-1 3l1-1 1 1v2l-1 1-1-1zm3 9l1-1 1 1v2l-1 1-1-1zm5 3l1-1 1 1v2l-1 1-1-1zm9 9l1-1 1 1v2l-1 1-1-1zm4 0l1-1 1 1v2l-1 1-1-1zm1 3l1-1 1 1v2l-1 1-1-1zm-13 3l1-1 1 1v2l-1 1-1-1zm16 6l1-1 1 1v2l-1 1-1-1zm-5 3l1-1 1 1v2l-1 1-1-1zm16 0l1-1 1 1v2l-1 1-1-1zm-5 3l1-1 1 1v2l-1 1-1-1zm2 0l1-1 1 1v2l-1 1-1-1zm2 0l1-1 1 1v2l-1 1-1-1zm1 3l1-1 1 1v2l-1 1-1-1zm-13 3l1-1 1 1v2l-1 1-1-1zm17 3l1-1 1 1v2l-1 1-1-1zm-7 3l1-1 1 1v2l-1 1-1-1zm3 3l1-1 1 1v2l-1 1-1-1zm-9 3l1-1 1 1v2l-1 1-1-1zm6 0l1-1 1 1v2l-1 1-1-1zm10 0l1-1 1 1v2l-1 1-1-1zm2 0l1-1 1 1v2l-1 1-1-1zm-5 9l1-1 1 1v2l-1 1-1-1zm6 0l1-1 1 1v2l-1 1-1-1zm2 0l1-1 1 1v2l-1 1-1-1zm2 0l1-1 1 1v2l-1 1-1-1zm-3 3l1-1 1 1v2l-1 1-1-1zm5 3l1-1 1 1v2l-1 1-1-1zm7 9l1-1 1 1v2l-1 1-1-1zm0 6l1-1 1 1v2l-1 1-1-1zm10 12l1-1 1 1v2l-1 1-1-1zm-1 3l1-1 1 1v2l-1 1-1-1zm8 6l1-1 1 1v2l-1 1-1-1zm-45 3l1-1 1 1v2l-1 1-1-1zm37 3l1-1 1 1v2l-1 1-1-1zm11 3l1-1 1 1v2l-1 1-1-1zm4 0l1-1 1 1v2l-1 1-1-1zm-3 3l1-1 1 1v2l-1 1-1-1zm4 0l1-1 1 1v2l-1 1-1-1zm-6 6l1-1 1 1v2l-1 1-1-1zm-3 3l1-1 1 1v2l-1 1-1-1zm8 0l1-1 1 1v2l-1 1-1-1zm2 0l1-1 1 1v2l-1 1-1-1zm-8 6l1-1 1 1v2l-1 1-1-1zm8 0l1-1 1 1v2l-1 1-1-1zm14 12l1-1 1 1v2l-1 1-1-1zm-9 3l1-1 1 1v2l-1 1-1-1zm10 0l1-1 1 1v2l-1 1-1-1zm-5 3l1-1 1 1v2l-1 1-1-1zm-7 3l1-1 1 1v2l-1 1-1-1zm12 0l1-1 1 1v2l-1 1-1-1zm5 3l1-1 1 1v2l-1 1-1-1zm6 12l1-1 1 1v2l-1 1-1-1zm14 30l1-1 1 1v2l-1 1-1-1z"/><path fill="#57b5b2" d="M26 50l1-1 1 1v2l-1 1-1-1zm12 24l1-1 1 1v2l-1 1-1-1zm8 12l1-1 1 1v2l-1 1-1-1zm-3 3l1-1 1 1v2l-1 1-1-1zm5 3l1-1 1 1v2l-1 1-1-1zm7 15l1-1 1 1v2l-1 1-1-1zm-1 3l1-1 1 1v2l-1 1-1-1zm2 0l1-1 1 1v2l-1 1-1-1zm4 0l1-1 1 1v2l-1 1-1-1zm-1 3l1-1 1 1v2l-1 1-1-1zm5 3l1-1 1 1v2l-1 1-1-1zm-3 3l1-1 1 1v2l-1 1-1-1zm3 3l1-1 1 1v2l-1 1-1-1zm-3 3l1-1 1 1v2l-1 1-1-1zm8 0l1-1 1 1v2l-1 1-1-1zm5 3l1-1 1 1v2l-1 1-1-1zm-5 3l1-1 1 1v2l-1 1-1-1zm4 6l1-1 1 1v2l-1 1-1-1zm-1 3l1-1 1 1v2l-1 1-1-1zm3 3l1-1 1 1v2l-1 1-1-1zm-8 6l1-1 1 1v2l-1 1-1-1zm14 0l1-1 1 1v2l-1 1-1-1zm-1 3l1-1 1 1v2l-1 1-1-1zm4 0l1-1 1 1v2l-1 1-1-1zm2 0l1-1 1 1v2l-1 1-1-1zm2 0l1-1 1 1v2l-1 1-1-1zm-1 3l1-1 1 1v2l-1 1-1-1zm-13 3l1-1 1 1v2l-1 1-1-1zm16 6l1-1 1 1v2l-1 1-1-1zm-1 3l1-1 1 1v2l-1 1-1-1zm8 0l1-1 1 1v2l-1 1-1-1zm-5 9l1-1 1 1v2l-1 1-1-1zm-1 3l1-1 1 1v2l-1 1-1-1zm3 3l1-1 1 1v2l-1 1-1-1zm2 0l1-1 1 1v2l-1 1-1-1zm6 0l1-1 1 1v2l-1 1-1-1zm5 3l1-1 1 1v2l-1 1-1-1zm-3 3l1-1 1 1v2l-1 1-1-1zm5 3l1-1 1 1v2l-1 1-1-1zm-7 3l1-1 1 1v2l-1 1-1-1zm7 3l1-1 1 1v2l-1 1-1-1zm3 3l1-1 1 1v2l-1 1-1-1zm-5 3l1-1 1 1v2l-1 1-1-1zm4 0l1-1 1 1v2l-1 1-1-1zm4 6l1-1 1 1v2l-1 1-1-1zm10 12l1-1 1 1v2l-1 1-1-1zm4 0l1-1 1 1v2l-1 1-1-1zm-1 3l1-1 1 1v2l-1 1-1-1zm2 0l1-1 1 1v2l-1 1-1-1zm-3 3l1-1 1 1v2l-1 1-1-1zm6 6l1-1 1 1v2l-1 1-1-1zm-1 3l1-1 1 1v2l-1 1-1-1zm12 12l1-1 1 1v2l-1 1-1-1zm3 9l1-1 1 1v2l-1 1-1-1zm18 30l1-1 1 1v2l-1 1-1-1zm14 24l1-1 1 1v2l-1 1-1-1zm15 27l1-1 1 1v2l-1 1-1-1z"/><path fill="#6dbaa6" d="M10 20l1-1 1 1v2l-1 1-1-1zm9 15l1-1 1 1v2l-1 1-1-1zm12 24l1-1 1 1v2l-1 1-1-1zm6 12l1-1 1 1v2l-1 1-1-1zm8 6l1-1 1 1v2l-1 1-1-1zm-3 9l1-1 1 1v2l-1 1-1-1zm8 12l1-1 1 1v2l-1 1-1-1zm6 18l1-1 1 1v2l-1 1-1-1zm2 0l1-1 1 1v2l-1 1-1-1zm0 6l1-1 1 1v2l-1 1-1-1zm4 6l1-1 1 1v2l-1 1-1-1zm4 0l1-1 1 1v2l-1 1-1-1zm7 3l1-1 1 1v2l-1 1-1-1zm-5 3l1-1 1 1v2l-1 1-1-1zm6 0l1-1 1 1v2l-1 1-1-1zm4 6l1-1 1 1v2l-1 1-1-1zm1 3l1-1 1 1v2l-1 1-1-1zm1 3l1-1 1 1v2l-1 1-1-1zm5 9l1-1 1 1v2l-1 1-1-1zm14 24l1-1 1 1v2l-1 1-1-1zm4 0l1-1 1 1v2l-1 1-1-1zm-3 9l1-1 1 1v2l-1 1-1-1zm6 6l1-1 1 1v2l-1 1-1-1zm13 15l1-1 1 1v2l-1 1-1-1zm-4 6l1-1 1 1v2l-1 1-1-1zm8 6l1-1 1 1v2l-1 1-1-1zm13 15l1-1 1 1v2l-1 1-1-1zm-3 3l1-1 1 1v2l-1 1-1-1zm6 0l1-1 1 1v2l-1 1-1-1zm2 6l1-1 1 1v2l-1 1-1-1zm4 6l1-1 1 1v2l-1 1-1-1zm5 9l1-1 1 1v2l-1 1-1-1zm14 24l1-1 1 1v2l-1 1-1-1zm10 18l1-1 1 1v2l-1 1-1-1z"/><path fill="#73bda3" d="M33 65l1-1 1 1v2l-1 1-1-1zm8 12l1-1 1 1v2l-1 1-1-1zm2 6l1-1 1 1v2l-1 1-1-1zm1 9l1-1 1 1v2l-1 1-1-1zm11 3l1-1 1 1v2l-1 1-1-1zm2 12l1-1 1 1v2l-1 1-1-1zm4 6l1-1 1 1v2l-1 1-1-1zm8 6l1-1 1 1v2l-1 1-1-1zm-1 3l1-1 1 1v2l-1 1-1-1zm2 0l1-1 1 1v2l-1 1-1-1zm-6 6l1-1 1 1v2l-1 1-1-1zm6 6l1-1 1 1v2l-1 1-1-1zm8 12l1-1 1 1v2l-1 1-1-1zm4 6l1-1 1 1v2l-1 1-1-1zm-1 9l1-1 1 1v2l-1 1-1-1zm12 0l1-1 1 1v2l-1 1-1-1zm-14 6l1-1 1 1v2l-1 1-1-1zm22 24l1-1 1 1v2l-1 1-1-1zm6 0l1-1 1 1v2l-1 1-1-1zm4 0l1-1 1 1v2l-1 1-1-1zm1 3l1-1 1 1v2l-1 1-1-1zm9 21l1-1 1 1v2l-1 1-1-1zm9 15l1-1 1 1v2l-1 1-1-1zm10 12l1-1 1 1v2l-1 1-1-1zm15 27l1-1 1 1v2l-1 1-1-1zm18 30l1-1 1 1v2l-1 1-1-1z"/><path fill="#7abfa1" d="M14 26l1-1 1 1v2l-1 1-1-1zm14 24l1-1 1 1v2l-1 1-1-1zm2 6l1-1 1 1v2l-1 1-1-1zm4 6l1-1 1 1v2l-1 1-1-1zm1 3l1-1 1 1v2l-1 1-1-1zm11 27l1-1 1 1v2l-1 1-1-1zm3 3l1-1 1 1v2l-1 1-1-1zm2 0l1-1 1 1v2l-1 1-1-1zm3 3l1-1 1 1v2l-1 1-1-1zm1 3l1-1 1 1v2l-1 1-1-1zm-1 3l1-1 1 1v2l-1 1-1-1zm6 0l1-1 1 1v2l-1 1-1-1zm-2 6l1-1 1 1v2l-1 1-1-1zm5 21l1-1 1 1v2l-1 1-1-1zm9 3l1-1 1 1v2l-1 1-1-1zm10 12l1-1 1 1v2l-1 1-1-1zm9 15l1-1 1 1v2l-1 1-1-1zm-3 3l1-1 1 1v2l-1 1-1-1zm7 3l1-1 1 1v2l-1 1-1-1zm1 3l1-1 1 1v2l-1 1-1-1zm5 9l1-1 1 1v2l-1 1-1-1zm7 27l1-1 1 1v2l-1 1-1-1zm10 0l1-1 1 1v2l-1 1-1-1zm8 18l1-1 1 1v2l-1 1-1-1zm9 9l1-1 1 1v2l-1 1-1-1zm-17 3l1-1 1 1v2l-1 1-1-1zm19 3l1-1 1 1v2l-1 1-1-1zm38 72l1-1 1 1v2l-1 1-1-1z"/><path fill="#7ec29e" d="M20 38l1-1 1 1v2l-1 1-1-1zm17 27l1-1 1 1v2l-1 1-1-1zm-1 3l1-1 1 1v2l-1 1-1-1zm9 15l1-1 1 1v2l-1 1-1-1zm2 0l1-1 1 1v2l-1 1-1-1zm3 3l1-1 1 1v2l-1 1-1-1zm-1 3l1-1 1 1v2l-1 1-1-1zm9 15l1-1 1 1v2l-1 1-1-1zm14 24l1-1 1 1v2l-1 1-1-1zm20 36l1-1 1 1v2l-1 1-1-1zm8 12l1-1 1 1v2l-1 1-1-1zm4 6l1-1 1 1v2l-1 1-1-1zm4 6l1-1 1 1v2l-1 1-1-1zm6 12l1-1 1 1v2l-1 1-1-1zm2 0l1-1 1 1v2l-1 1-1-1zm1 3l1-1 1 1v2l-1 1-1-1zm10 18l1-1 1 1v2l-1 1-1-1zm5 9l1-1 1 1v2l-1 1-1-1zm27 45l1-1 1 1v2l-1 1-1-1z"/><path fill="#82c49c" d="M23 41l1-1 1 1v2l-1 1-1-1zm23 39l1-1 1 1v2l-1 1-1-1zm4 12l1-1 1 1v2l-1 1-1-1zm2 0l1-1 1 1v2l-1 1-1-1zm23 39l1-1 1 1v2l-1 1-1-1zm2 6l1-1 1 1v2l-1 1-1-1zm7 9l1-1 1 1v2l-1 1-1-1zm1 3l1-1 1 1v2l-1 1-1-1zm5 9l1-1 1 1v2l-1 1-1-1zm4 6l1-1 1 1v2l-1 1-1-1zm28 48l1-1 1 1v2l-1 1-1-1zm1 3l1-1 1 1v2l-1 1-1-1zm3 3l1-1 1 1v2l-1 1-1-1zm5 9l1-1 1 1v2l-1 1-1-1z"/><path fill="#86c69a" d="M24 44l1-1 1 1v2l-1 1-1-1zm8 12l1-1 1 1v2l-1 1-1-1zm4 6l1-1 1 1v2l-1 1-1-1zm8 18l1-1 1 1v2l-1 1-1-1zm4 6l1-1 1 1v2l-1 1-1-1zm3 3l1-1 1 1v2l-1 1-1-1zm6 12l1-1 1 1v2l-1 1-1-1zm2 6l1-1 1 1v2l-1 1-1-1zm2 0l1-1 1 1v2l-1 1-1-1zm4 12l1-1 1 1v2l-1 1-1-1zm2 0l1-1 1 1v2l-1 1-1-1zm14 24l1-1 1 1v2l-1 1-1-1zm2 0l1-1 1 1v2l-1 1-1-1zm0 6l1-1 1 1v2l-1 1-1-1zm15 21l1-1 1 1v2l-1 1-1-1zm26 48l1-1 1 1v2l-1 1-1-1z"/><path fill="#8dca96" d="M29 53l1-1 1 1v2l-1 1-1-1zm4 6l1-1 1 1v2l-1 1-1-1zm8 12l1-1 1 1v2l-1 1-1-1zm-1 3l1-1 1 1v2l-1 1-1-1zm2 0l1-1 1 1v2l-1 1-1-1zm14 24l1-1 1 1v2l-1 1-1-1zm6 12l1-1 1 1v2l-1 1-1-1zm1 3l1-1 1 1v2l-1 1-1-1zm13 21l1-1 1 1v2l-1 1-1-1zm3 3l1-1 1 1v2l-1 1-1-1zm1 3l1-1 1 1v2l-1 1-1-1z"/><path fill="#9bce92" d="M39 71l1-1 1 1v2l-1 1-1-1zm14 24l1-1 1 1v2l-1 1-1-1zm13 21l1-1 1 1v2l-1 1-1-1zm23 39l1-1 1 1v2l-1 1-1-1z"/><path fill="#a8cd8d" d="M38 68l1-1 1 1v2l-1 1-1-1zm27 45l1-1 1 1v2l-1 1-1-1zm6 12l1-1 1 1v2l-1 1-1-1zm28 48l1-1 1 1v2l-1 1-1-1z"/><path fill="#c5be7e" d="M43 77l1-1 1 1v2l-1 1-1-1z"/></g></g><linearGradient id="sg431" gradientUnits="userSpaceOnUse" x1="36.90" y1="270.40" x2="244.40" y2="62.60"><stop offset="0.0033" stop-color="#80c39d" stop-opacity="1.00"/><stop offset="0.0100" stop-color="#86c69a" stop-opacity="1.00"/><stop offset="0.0167" stop-color="#a1d090" stop-opacity="1.00"/><stop offset="0.0233" stop-color="#cfb676" stop-opacity="1.00"/><stop offset="0.0300" stop-color="#daae6e" stop-opacity="1.00"/><stop offset="0.0367" stop-color="#e6a767" stop-opacity="1.00"/><stop offset="0.0433" stop-color="#e7754e" stop-opacity="1.00"/><stop offset="0.0500" stop-color="#ee995d" stop-opacity="1.00"/><stop offset="0.0567" stop-color="#ea8454" stop-opacity="1.00"/><stop offset="0.0633" stop-color="#e56a49" stop-opacity="1.00"/><stop offset="0.0700" stop-color="#e66f4b" stop-opacity="1.00"/><stop offset="0.0767" stop-color="#e05540" stop-opacity="1.00"/><stop offset="0.0833" stop-color="#dd483b" stop-opacity="1.00"/><stop offset="0.0900" stop-color="#da3b36" stop-opacity="1.00"/><stop offset="0.0967" stop-color="#da3a35" stop-opacity="1.00"/><stop offset="0.1033" stop-color="#d83232" stop-opacity="1.00"/><stop offset="0.1100" stop-color="#d93834" stop-opacity="1.00"/><stop offset="0.1167" stop-color="#d73131" stop-opacity="1.00"/><stop offset="0.1233" stop-color="#d93734" stop-opacity="1.00"/><stop offset="0.1300" stop-color="#d73131" stop-opacity="1.00"/><stop offset="0.1367" stop-color="#d83131" stop-opacity="1.00"/><stop offset="0.1433" stop-color="#dc4239" stop-opacity="1.00"/><stop offset="0.1500" stop-color="#d93533" stop-opacity="1.00"/><stop offset="0.1567" stop-color="#da3b36" stop-opacity="1.00"/><stop offset="0.1633" stop-color="#d83131" stop-opacity="1.00"/><stop offset="0.1700" stop-color="#d83131" stop-opacity="1.00"/><stop offset="0.1767" stop-color="#d83131" stop-opacity="1.00"/><stop offset="0.1833" stop-color="#da3935" stop-opacity="1.00"/><stop offset="0.1900" stop-color="#da3c36" stop-opacity="1.00"/><stop offset="0.1967" stop-color="#dc4239" stop-opacity="1.00"/><stop offset="0.2033" stop-color="#d73131" stop-opacity="1.00"/><stop offset="0.2100" stop-color="#d83131" stop-opacity="1.00"/><stop offset="0.2167" stop-color="#d83232" stop-opacity="1.00"/><stop offset="0.2233" stop-color="#d73131" stop-opacity="1.00"/><stop offset="0.2300" stop-color="#d83232" stop-opacity="1.00"/><stop offset="0.2367" stop-color="#d83433" stop-opacity="1.00"/><stop offset="0.2433" stop-color="#d73030" stop-opacity="1.00"/><stop offset="0.2500" stop-color="#d73131" stop-opacity="1.00"/><stop offset="0.2567" stop-color="#d83232" stop-opacity="1.00"/><stop offset="0.2633" stop-color="#d73030" stop-opacity="1.00"/><stop offset="0.2700" stop-color="#d73131" stop-opacity="1.00"/><stop offset="0.2767" stop-color="#d83232" stop-opacity="1.00"/><stop offset="0.2833" stop-color="#da3c36" stop-opacity="1.00"/><stop offset="0.2900" stop-color="#da3935" stop-opacity="1.00"/><stop offset="0.2967" stop-color="#d93835" stop-opacity="1.00"/><stop offset="0.3033" stop-color="#d83131" stop-opacity="1.00"/><stop offset="0.3100" stop-color="#d73131" stop-opacity="1.00"/><stop offset="0.3167" stop-color="#d73131" stop-opacity="1.00"/><stop offset="0.3233" stop-color="#d93634" stop-opacity="1.00"/><stop offset="0.3300" stop-color="#d73131" stop-opacity="1.00"/><stop offset="0.3367" stop-color="#d83232" stop-opacity="1.00"/><stop offset="0.3433" stop-color="#d93533" stop-opacity="1.00"/><stop offset="0.3500" stop-color="#d73030" stop-opacity="1.00"/><stop offset="0.3567" stop-color="#d83232" stop-opacity="1.00"/><stop offset="0.3633" stop-color="#db3e37" stop-opacity="1.00"/><stop offset="0.3700" stop-color="#d83232" stop-opacity="1.00"/><stop offset="0.3767" stop-color="#db3e37" stop-opacity="1.00"/><stop offset="0.3833" stop-color="#da3b36" stop-opacity="1.00"/><stop offset="0.3900" stop-color="#df533f" stop-opacity="1.00"/><stop offset="0.3967" stop-color="#df523f" stop-opacity="1.00"/><stop offset="0.4033" stop-color="#e7744d" stop-opacity="1.00"/><stop offset="0.4100" stop-color="#e6724d" stop-opacity="1.00"/><stop offset="0.4167" stop-color="#e66f4b" stop-opacity="1.00"/><stop offset="0.4233" stop-color="#e6a767" stop-opacity="1.00"/><stop offset="0.4300" stop-color="#eda262" stop-opacity="1.00"/><stop offset="0.4367" stop-color="#d7b171" stop-opacity="1.00"/><stop offset="0.4433" stop-color="#bac787" stop-opacity="1.00"/><stop offset="0.4500" stop-color="#d3b373" stop-opacity="1.00"/><stop offset="0.4567" stop-color="#c7bd7d" stop-opacity="1.00"/><stop offset="0.4633" stop-color="#a5ce8e" stop-opacity="1.00"/><stop offset="0.4700" stop-color="#8cc997" stop-opacity="1.00"/><stop offset="0.4767" stop-color="#97cd93" stop-opacity="1.00"/><stop offset="0.4833" stop-color="#97cd93" stop-opacity="1.00"/><stop offset="0.4900" stop-color="#82c49c" stop-opacity="1.00"/><stop offset="0.4967" stop-color="#8cc997" stop-opacity="1.00"/><stop offset="0.5033" stop-color="#6cbaa6" stop-opacity="1.00"/><stop offset="0.5100" stop-color="#64b7aa" stop-opacity="1.00"/><stop offset="0.5167" stop-color="#6cbaa6" stop-opacity="1.00"/><stop offset="0.5233" stop-color="#7ec19f" stop-opacity="1.00"/><stop offset="0.5300" stop-color="#2b96cd" stop-opacity="1.00"/><stop offset="0.5367" stop-color="#7bc0a0" stop-opacity="1.00"/><stop offset="0.5433" stop-color="#82c49c" stop-opacity="1.00"/><stop offset="0.5500" stop-color="#64b7aa" stop-opacity="1.00"/><stop offset="0.5567" stop-color="#72bca4" stop-opacity="1.00"/><stop offset="0.5633" stop-color="#6cbaa6" stop-opacity="1.00"/><stop offset="0.5700" stop-color="#64b7aa" stop-opacity="1.00"/><stop offset="0.5767" stop-color="#56b4b3" stop-opacity="1.00"/><stop offset="0.5833" stop-color="#64b7aa" stop-opacity="1.00"/><stop offset="0.5900" stop-color="#4157a0" stop-opacity="1.00"/><stop offset="0.5967" stop-color="#72bca4" stop-opacity="1.00"/><stop offset="0.6033" stop-color="#56b4b3" stop-opacity="1.00"/><stop offset="0.6100" stop-color="#2b96cd" stop-opacity="1.00"/><stop offset="0.6167" stop-color="#45b1bd" stop-opacity="1.00"/><stop offset="0.6233" stop-color="#2b96cd" stop-opacity="1.00"/><stop offset="0.6300" stop-color="#77bea2" stop-opacity="1.00"/><stop offset="0.6367" stop-color="#357aba" stop-opacity="1.00"/><stop offset="0.6433" stop-color="#33a8c8" stop-opacity="1.00"/><stop offset="0.6500" stop-color="#4157a0" stop-opacity="1.00"/><stop offset="0.6567" stop-color="#5848a0" stop-opacity="0.80"/><stop offset="0.6633" stop-color="#4157a0" stop-opacity="1.00"/><stop offset="0.6700" stop-color="#5848a0" stop-opacity="0.80"/><stop offset="0.6767" stop-color="#357aba" stop-opacity="1.00"/><stop offset="0.6833" stop-color="#5848a0" stop-opacity="0.00"/><stop offset="0.6900" stop-color="#357aba" stop-opacity="1.00"/><stop offset="0.6967" stop-color="#33a8c8" stop-opacity="1.00"/><stop offset="0.7033" stop-color="#5848a0" stop-opacity="0.80"/><stop offset="0.7100" stop-color="#5848a0" stop-opacity="0.80"/><stop offset="0.7167" stop-color="#2b96cd" stop-opacity="1.00"/><stop offset="0.7233" stop-color="#5848a0" stop-opacity="0.00"/><stop offset="0.7300" stop-color="#5848a0" stop-opacity="0.80"/><stop offset="0.7367" stop-color="#5848a0" stop-opacity="0.80"/><stop offset="0.7433" stop-color="#4157a0" stop-opacity="1.00"/><stop offset="0.7500" stop-color="#4157a0" stop-opacity="1.00"/><stop offset="0.7567" stop-color="#5848a0" stop-opacity="0.80"/><stop offset="0.7633" stop-color="#5848a0" stop-opacity="0.00"/><stop offset="0.7700" stop-color="#5848a0" stop-opacity="0.80"/><stop offset="0.7767" stop-color="#5848a0" stop-opacity="0.80"/><stop offset="0.7833" stop-color="#4157a0" stop-opacity="1.00"/><stop offset="0.7900" stop-color="#5848a0" stop-opacity="0.00"/><stop offset="0.7967" stop-color="#5848a0" stop-opacity="0.80"/><stop offset="0.8033" stop-color="#5848a0" stop-opacity="0.00"/><stop offset="0.8100" stop-color="#5848a0" stop-opacity="0.00"/><stop offset="0.8167" stop-color="#5848a0" stop-opacity="0.80"/><stop offset="0.8233" stop-color="#5848a0" stop-opacity="0.00"/><stop offset="0.8300" stop-color="#5848a0" stop-opacity="0.00"/><stop offset="0.8367" stop-color="#5848a0" stop-opacity="0.80"/><stop offset="0.8433" stop-color="#5848a0" stop-opacity="0.00"/><stop offset="0.8500" stop-color="#5848a0" stop-opacity="0.80"/><stop offset="0.8567" stop-color="#5848a0" stop-opacity="0.00"/><stop offset="0.8633" stop-color="#5848a0" stop-opacity="0.00"/><stop offset="0.8700" stop-color="#5848a0" stop-opacity="0.00"/><stop offset="0.8767" stop-color="#5848a0" stop-opacity="0.00"/><stop offset="0.8833" stop-color="#5848a0" stop-opacity="0.00"/><stop offset="0.8900" stop-color="#5848a0" stop-opacity="0.00"/><stop offset="0.8967" stop-color="#5848a0" stop-opacity="0.00"/><stop offset="0.9033" stop-color="#5848a0" stop-opacity="0.00"/><stop offset="0.9100" stop-color="#5848a0" stop-opacity="0.80"/><stop offset="0.9167" stop-color="#5848a0" stop-opacity="0.80"/><stop offset="0.9233" stop-color="#5848a0" stop-opacity="0.00"/><stop offset="0.9300" stop-color="#5848a0" stop-opacity="0.00"/><stop offset="0.9367" stop-color="#5848a0" stop-opacity="0.00"/><stop offset="0.9433" stop-color="#5848a0" stop-opacity="0.00"/><stop offset="0.9500" stop-color="#5848a0" stop-opacity="0.00"/><stop offset="0.9567" stop-color="#5848a0" stop-opacity="0.00"/><stop offset="0.9633" stop-color="#5848a0" stop-opacity="0.00"/><stop offset="0.9700" stop-color="#5848a0" stop-opacity="0.00"/><stop offset="0.9767" stop-color="#5848a0" stop-opacity="0.80"/><stop offset="0.9833" stop-color="#5848a0" stop-opacity="0.00"/><stop offset="0.9900" stop-color="#5848a0" stop-opacity="0.00"/><stop offset="0.9967" stop-color="#5848a0" stop-opacity="0.00"/></linearGradient><path d="M36.72,270.22L244.22,62.42" stroke="url(#sg431)" stroke-width="1.7" fill="none"/>
<path d="M36.90,270.40L244.40,62.60" stroke="#1a1a1a" stroke-width="0.9" stroke-opacity="0.8" fill="none"/>
<path d="M71.48,270.40v-2.5M71.48,62.60v2.5M36.90,235.77h2.5M244.40,235.77h-2.5M106.07,270.40v-2.5M106.07,62.60v2.5M36.90,201.13h2.5M244.40,201.13h-2.5M140.65,270.40v-2.5M140.65,62.60v2.5M36.90,166.50h2.5M244.40,166.50h-2.5M175.23,270.40v-2.5M175.23,62.60v2.5M36.90,131.87h2.5M244.40,131.87h-2.5M209.82,270.40v-2.5M209.82,62.60v2.5M36.90,97.23h2.5M244.40,97.23h-2.5" stroke="#777" stroke-width="0.8" fill="none"/>
<rect x="36.90" y="62.60" width="207.50" height="207.80" fill="none" stroke="#8a8a8a" stroke-width="1.6"/>
<g font-family="'Liberation Sans', sans-serif" font-size="7.8" fill="#1a1a1a"><text x="34.30" y="273.10" text-anchor="end">0</text><text x="36.90" y="279.00" text-anchor="middle">0</text><text x="34.30" y="238.47" text-anchor="end">50</text><text x="71.48" y="279.00" text-anchor="middle">50</text><text x="34.30" y="203.83" text-anchor="end">100</text><text x="106.07" y="279.00" text-anchor="middle">100</text><text x="34.30" y="169.20" text-anchor="end">150</text><text x="140.65" y="279.00" text-anchor="middle">150</text><text x="34.30" y="134.57" text-anchor="end">200</text><text x="175.23" y="279.00" text-anchor="middle">200</text><text x="34.30" y="99.93" text-anchor="end">250</text><text x="209.82" y="279.00" text-anchor="middle">250</text><text x="34.30" y="65.30" text-anchor="end">300</text><text x="244.40" y="279.00" text-anchor="middle">300</text></g>
<rect x="258.90" y="62.60" width="11.10" height="207.80" fill="url(#cg)" stroke="#555" stroke-width="0.8"/>
<path d="M270.00,270.40h-2M270.00,171.63h-2M270.00,72.85h-2" stroke="#333" stroke-width="0.8"/>
<g font-family="'Liberation Sans', sans-serif" font-size="7.8" fill="#1a1a1a"><text x="272.20" y="273.20">10<tspan font-size="5.4" dy="-3.2">0</tspan></text><text x="272.20" y="174.43">10<tspan font-size="5.4" dy="-3.2">1</tspan></text><text x="272.20" y="75.65">10<tspan font-size="5.4" dy="-3.2">2</tspan></text></g>
<path d="M388.17,62.40V270.30M353.60,235.65H561.00M422.73,62.40V270.30M353.60,201.00H561.00M457.30,62.40V270.30M353.60,166.35H561.00M491.87,62.40V270.30M353.60,131.70H561.00M526.43,62.40V270.30M353.60,97.05H561.00" stroke="#bcbcbc" stroke-width="0.9" stroke-dasharray="1 1.1" fill="none"/>
<clipPath id="cp3598"><path d="M353.10,270.80L561.00,61.90L561.00,62.40L353.60,62.40L353.60,270.30z"/></clipPath><g clip-path="url(#cp3598)"><g transform="translate(353.600,270.300) scale(0.69133,-0.40291)"><path fill="#5848a0" d="M5 11l1-1 1 1v2l-1 1-1-1zm2 0l1-1 1 1v2l-1 1-1-1zm4 12l1-1 1 1v2l-1 1-1-1zm20 30l1-1 1 1v2l-1 1-1-1zm-2 6l1-1 1 1v2l-1 1-1-1zm6 0l1-1 1 1v2l-1 1-1-1zm-2 6l1-1 1 1v2l-1 1-1-1zm1 3l1-1 1 1v2l-1 1-1-1zm7 9l1-1 1 1v2l-1 1-1-1zm-6 6l1-1 1 1v2l-1 1-1-1zm4 0l1-1 1 1v2l-1 1-1-1zm10 0l1-1 1 1v2l-1 1-1-1zm-11 3l1-1 1 1v2l-1 1-1-1zm2 0l1-1 1 1v2l-1 1-1-1zm2 0l1-1 1 1v2l-1 1-1-1zm-2 6l1-1 1 1v2l-1 1-1-1zm2 6l1-1 1 1v2l-1 1-1-1zm2 0l1-1 1 1v2l-1 1-1-1zm1 3l1-1 1 1v2l-1 1-1-1zm-1 3l1-1 1 1v2l-1 1-1-1zm5 3l1-1 1 1v2l-1 1-1-1zm14 0l1-1 1 1v2l-1 1-1-1zm-13 3l1-1 1 1v2l-1 1-1-1zm8 0l1-1 1 1v2l-1 1-1-1zm2 0l1-1 1 1v2l-1 1-1-1zm-11 3l1-1 1 1v2l-1 1-1-1zm-1 3l1-1 1 1v2l-1 1-1-1zm20 0l1-1 1 1v2l-1 1-1-1zm-19 3l1-1 1 1v2l-1 1-1-1zm2 0l1-1 1 1v2l-1 1-1-1zm5 3l1-1 1 1v2l-1 1-1-1zm16 0l1-1 1 1v2l-1 1-1-1zm-21 3l1-1 1 1v2l-1 1-1-1zm2 0l1-1 1 1v2l-1 1-1-1zm4 0l1-1 1 1v2l-1 1-1-1zm1 3l1-1 1 1v2l-1 1-1-1zm2 0l1-1 1 1v2l-1 1-1-1zm-4 6l1-1 1 1v2l-1 1-1-1zm2 0l1-1 1 1v2l-1 1-1-1zm6 0l1-1 1 1v2l-1 1-1-1zm-5 3l1-1 1 1v2l-1 1-1-1zm4 0l1-1 1 1v2l-1 1-1-1zm-7 3l1-1 1 1v2l-1 1-1-1zm2 0l1-1 1 1v2l-1 1-1-1zm2 0l1-1 1 1v2l-1 1-1-1zm2 0l1-1 1 1v2l-1 1-1-1zm4 0l1-1 1 1v2l-1 1-1-1zm4 0l1-1 1 1v2l-1 1-1-1zm12 0l1-1 1 1v2l-1 1-1-1zm-23 3l1-1 1 1v2l-1 1-1-1zm8 0l1-1 1 1v2l-1 1-1-1zm-11 3l1-1 1 1v2l-1 1-1-1zm6 0l1-1 1 1v2l-1 1-1-1zm8 0l1-1 1 1v2l-1 1-1-1zm-7 3l1-1 1 1v2l-1 1-1-1zm-1 3l1-1 1 1v2l-1 1-1-1zm2 0l1-1 1 1v2l-1 1-1-1zm12 0l1-1 1 1v2l-1 1-1-1zm-13 3l1-1 1 1v2l-1 1-1-1zm10 0l1-1 1 1v2l-1 1-1-1zm6 0l1-1 1 1v2l-1 1-1-1zm6 0l1-1 1 1v2l-1 1-1-1zm-23 3l1-1 1 1v2l-1 1-1-1zm4 0l1-1 1 1v2l-1 1-1-1zm2 0l1-1 1 1v2l-1 1-1-1zm2 0l1-1 1 1v2l-1 1-1-1zm4 0l1-1 1 1v2l-1 1-1-1zm6 0l1-1 1 1v2l-1 1-1-1zm8 0l1-1 1 1v2l-1 1-1-1zm-15 3l1-1 1 1v2l-1 1-1-1zm2 0l1-1 1 1v2l-1 1-1-1zm14 0l1-1 1 1v2l-1 1-1-1zm-23 3l1-1 1 1v2l-1 1-1-1zm2 0l1-1 1 1v2l-1 1-1-1zm8 0l1-1 1 1v2l-1 1-1-1zm12 0l1-1 1 1v2l-1 1-1-1zm-13 3l1-1 1 1v2l-1 1-1-1zm4 0l1-1 1 1v2l-1 1-1-1zm-11 3l1-1 1 1v2l-1 1-1-1zm2 0l1-1 1 1v2l-1 1-1-1zm2 0l1-1 1 1v2l-1 1-1-1zm2 0l1-1 1 1v2l-1 1-1-1zm2 0l1-1 1 1v2l-1 1-1-1zm4 0l1-1 1 1v2l-1 1-1-1zm8 0l1-1 1 1v2l-1 1-1-1zm2 0l1-1 1 1v2l-1 1-1-1zm-15 3l1-1 1 1v2l-1 1-1-1zm10 0l1-1 1 1v2l-1 1-1-1zm4 0l1-1 1 1v2l-1 1-1-1zm-17 3l1-1 1 1v2l-1 1-1-1zm6 0l1-1 1 1v2l-1 1-1-1zm20 0l1-1 1 1v2l-1 1-1-1zm-21 3l1-1 1 1v2l-1 1-1-1zm4 0l1-1 1 1v2l-1 1-1-1zm6 0l1-1 1 1v2l-1 1-1-1zm-9 3l1-1 1 1v2l-1 1-1-1zm2 0l1-1 1 1v2l-1 1-1-1zm2 0l1-1 1 1v2l-1 1-1-1zm4 0l1-1 1 1v2l-1 1-1-1zm6 0l1-1 1 1v2l-1 1-1-1zm-21 3l1-1 1 1v2l-1 1-1-1zm4 0l1-1 1 1v2l-1 1-1-1zm2 0l1-1 1 1v2l-1 1-1-1zm2 0l1-1 1 1v2l-1 1-1-1zm8 0l1-1 1 1v2l-1 1-1-1zm1 3l1-1 1 1v2l-1 1-1-1zm4 0l1-1 1 1v2l-1 1-1-1zm2 0l1-1 1 1v2l-1 1-1-1zm4 0l1-1 1 1v2l-1 1-1-1zm4 0l1-1 1 1v2l-1 1-1-1zm8 0l1-1 1 1v2l-1 1-1-1zm-31 3l1-1 1 1v2l-1 1-1-1zm20 0l1-1 1 1v2l-1 1-1-1zm4 0l1-1 1 1v2l-1 1-1-1zm-27 3l1-1 1 1v2l-1 1-1-1zm6 0l1-1 1 1v2l-1 1-1-1zm2 0l1-1 1 1v2l-1 1-1-1zm2 0l1-1 1 1v2l-1 1-1-1zm2 0l1-1 1 1v2l-1 1-1-1zm10 0l1-1 1 1v2l-1 1-1-1zm-13 3l1-1 1 1v2l-1 1-1-1zm6 0l1-1 1 1v2l-1 1-1-1zm10 0l1-1 1 1v2l-1 1-1-1zm2 0l1-1 1 1v2l-1 1-1-1zm12 0l1-1 1 1v2l-1 1-1-1zm-39 3l1-1 1 1v2l-1 1-1-1zm4 0l1-1 1 1v2l-1 1-1-1zm2 0l1-1 1 1v2l-1 1-1-1zm2 0l1-1 1 1v2l-1 1-1-1zm8 0l1-1 1 1v2l-1 1-1-1zm6 0l1-1 1 1v2l-1 1-1-1zm4 0l1-1 1 1v2l-1 1-1-1zm-15 3l1-1 1 1v2l-1 1-1-1zm4 0l1-1 1 1v2l-1 1-1-1zm6 0l1-1 1 1v2l-1 1-1-1zm2 0l1-1 1 1v2l-1 1-1-1zm-23 3l1-1 1 1v2l-1 1-1-1zm2 0l1-1 1 1v2l-1 1-1-1zm6 0l1-1 1 1v2l-1 1-1-1zm4 0l1-1 1 1v2l-1 1-1-1zm2 0l1-1 1 1v2l-1 1-1-1zm4 0l1-1 1 1v2l-1 1-1-1zm-3 3l1-1 1 1v2l-1 1-1-1zm2 0l1-1 1 1v2l-1 1-1-1zm4 0l1-1 1 1v2l-1 1-1-1zm2 0l1-1 1 1v2l-1 1-1-1zm6 0l1-1 1 1v2l-1 1-1-1zm2 0l1-1 1 1v2l-1 1-1-1zm2 0l1-1 1 1v2l-1 1-1-1zm2 0l1-1 1 1v2l-1 1-1-1zm-11 3l1-1 1 1v2l-1 1-1-1zm2 0l1-1 1 1v2l-1 1-1-1zm4 0l1-1 1 1v2l-1 1-1-1zm-25 3l1-1 1 1v2l-1 1-1-1zm2 0l1-1 1 1v2l-1 1-1-1zm4 0l1-1 1 1v2l-1 1-1-1zm2 0l1-1 1 1v2l-1 1-1-1zm6 0l1-1 1 1v2l-1 1-1-1zm12 0l1-1 1 1v2l-1 1-1-1zm6 0l1-1 1 1v2l-1 1-1-1zm2 0l1-1 1 1v2l-1 1-1-1zm-39 3l1-1 1 1v2l-1 1-1-1zm4 0l1-1 1 1v2l-1 1-1-1zm12 0l1-1 1 1v2l-1 1-1-1zm2 0l1-1 1 1v2l-1 1-1-1zm2 0l1-1 1 1v2l-1 1-1-1zm12 0l1-1 1 1v2l-1 1-1-1zm14 0l1-1 1 1v2l-1 1-1-1zm-43 3l1-1 1 1v2l-1 1-1-1zm6 0l1-1 1 1v2l-1 1-1-1zm4 0l1-1 1 1v2l-1 1-1-1zm12 0l1-1 1 1v2l-1 1-1-1zm2 0l1-1 1 1v2l-1 1-1-1zm2 0l1-1 1 1v2l-1 1-1-1zm2 0l1-1 1 1v2l-1 1-1-1zm2 0l1-1 1 1v2l-1 1-1-1zm2 0l1-1 1 1v2l-1 1-1-1zm2 0l1-1 1 1v2l-1 1-1-1zm-13 3l1-1 1 1v2l-1 1-1-1zm6 0l1-1 1 1v2l-1 1-1-1zm2 0l1-1 1 1v2l-1 1-1-1zm10 0l1-1 1 1v2l-1 1-1-1zm-31 3l1-1 1 1v2l-1 1-1-1zm4 0l1-1 1 1v2l-1 1-1-1zm8 0l1-1 1 1v2l-1 1-1-1zm14 0l1-1 1 1v2l-1 1-1-1zm2 0l1-1 1 1v2l-1 1-1-1zm12 0l1-1 1 1v2l-1 1-1-1zm-41 3l1-1 1 1v2l-1 1-1-1zm6 0l1-1 1 1v2l-1 1-1-1zm6 0l1-1 1 1v2l-1 1-1-1zm2 0l1-1 1 1v2l-1 1-1-1zm2 0l1-1 1 1v2l-1 1-1-1zm2 0l1-1 1 1v2l-1 1-1-1zm4 0l1-1 1 1v2l-1 1-1-1zm12 0l1-1 1 1v2l-1 1-1-1zm14 0l1-1 1 1v2l-1 1-1-1zm-53 3l1-1 1 1v2l-1 1-1-1zm8 0l1-1 1 1v2l-1 1-1-1zm2 0l1-1 1 1v2l-1 1-1-1zm6 0l1-1 1 1v2l-1 1-1-1zm2 0l1-1 1 1v2l-1 1-1-1zm2 0l1-1 1 1v2l-1 1-1-1zm2 0l1-1 1 1v2l-1 1-1-1zm2 0l1-1 1 1v2l-1 1-1-1zm2 0l1-1 1 1v2l-1 1-1-1zm4 0l1-1 1 1v2l-1 1-1-1zm4 0l1-1 1 1v2l-1 1-1-1zm2 0l1-1 1 1v2l-1 1-1-1zm8 0l1-1 1 1v2l-1 1-1-1zm-41 3l1-1 1 1v2l-1 1-1-1zm2 0l1-1 1 1v2l-1 1-1-1zm2 0l1-1 1 1v2l-1 1-1-1zm2 0l1-1 1 1v2l-1 1-1-1zm2 0l1-1 1 1v2l-1 1-1-1zm6 0l1-1 1 1v2l-1 1-1-1zm4 0l1-1 1 1v2l-1 1-1-1zm4 0l1-1 1 1v2l-1 1-1-1zm2 0l1-1 1 1v2l-1 1-1-1zm2 0l1-1 1 1v2l-1 1-1-1zm10 0l1-1 1 1v2l-1 1-1-1zm18 0l1-1 1 1v2l-1 1-1-1zm-25 3l1-1 1 1v2l-1 1-1-1zm2 0l1-1 1 1v2l-1 1-1-1zm10 0l1-1 1 1v2l-1 1-1-1zm-37 3l1-1 1 1v2l-1 1-1-1zm2 0l1-1 1 1v2l-1 1-1-1zm6 0l1-1 1 1v2l-1 1-1-1zm4 0l1-1 1 1v2l-1 1-1-1zm14 0l1-1 1 1v2l-1 1-1-1zm6 0l1-1 1 1v2l-1 1-1-1zm16 0l1-1 1 1v2l-1 1-1-1zm-51 3l1-1 1 1v2l-1 1-1-1zm6 0l1-1 1 1v2l-1 1-1-1zm4 0l1-1 1 1v2l-1 1-1-1zm2 0l1-1 1 1v2l-1 1-1-1zm2 0l1-1 1 1v2l-1 1-1-1zm4 0l1-1 1 1v2l-1 1-1-1zm4 0l1-1 1 1v2l-1 1-1-1zm2 0l1-1 1 1v2l-1 1-1-1zm8 0l1-1 1 1v2l-1 1-1-1zm2 0l1-1 1 1v2l-1 1-1-1zm4 0l1-1 1 1v2l-1 1-1-1zm2 0l1-1 1 1v2l-1 1-1-1zm2 0l1-1 1 1v2l-1 1-1-1zm2 0l1-1 1 1v2l-1 1-1-1zm-37 3l1-1 1 1v2l-1 1-1-1zm2 0l1-1 1 1v2l-1 1-1-1zm4 0l1-1 1 1v2l-1 1-1-1zm2 0l1-1 1 1v2l-1 1-1-1zm4 0l1-1 1 1v2l-1 1-1-1zm2 0l1-1 1 1v2l-1 1-1-1zm2 0l1-1 1 1v2l-1 1-1-1zm8 0l1-1 1 1v2l-1 1-1-1zm8 0l1-1 1 1v2l-1 1-1-1zm4 0l1-1 1 1v2l-1 1-1-1zm-37 3l1-1 1 1v2l-1 1-1-1zm4 0l1-1 1 1v2l-1 1-1-1zm4 0l1-1 1 1v2l-1 1-1-1zm2 0l1-1 1 1v2l-1 1-1-1zm4 0l1-1 1 1v2l-1 1-1-1zm10 0l1-1 1 1v2l-1 1-1-1zm12 0l1-1 1 1v2l-1 1-1-1zm-39 3l1-1 1 1v2l-1 1-1-1zm12 0l1-1 1 1v2l-1 1-1-1zm2 0l1-1 1 1v2l-1 1-1-1zm2 0l1-1 1 1v2l-1 1-1-1zm14 0l1-1 1 1v2l-1 1-1-1zm4 0l1-1 1 1v2l-1 1-1-1zm2 0l1-1 1 1v2l-1 1-1-1zm18 0l1-1 1 1v2l-1 1-1-1zm-47 3l1-1 1 1v2l-1 1-1-1zm2 0l1-1 1 1v2l-1 1-1-1zm22 0l1-1 1 1v2l-1 1-1-1zm2 0l1-1 1 1v2l-1 1-1-1zm-31 3l1-1 1 1v2l-1 1-1-1zm4 0l1-1 1 1v2l-1 1-1-1zm8 0l1-1 1 1v2l-1 1-1-1zm2 0l1-1 1 1v2l-1 1-1-1zm16 0l1-1 1 1v2l-1 1-1-1zm10 0l1-1 1 1v2l-1 1-1-1zm12 0l1-1 1 1v2l-1 1-1-1zm10 0l1-1 1 1v2l-1 1-1-1zm-61 3l1-1 1 1v2l-1 1-1-1zm2 0l1-1 1 1v2l-1 1-1-1zm18 0l1-1 1 1v2l-1 1-1-1zm6 0l1-1 1 1v2l-1 1-1-1zm6 0l1-1 1 1v2l-1 1-1-1zm10 0l1-1 1 1v2l-1 1-1-1zm2 0l1-1 1 1v2l-1 1-1-1zm2 0l1-1 1 1v2l-1 1-1-1zm-37 3l1-1 1 1v2l-1 1-1-1zm2 0l1-1 1 1v2l-1 1-1-1zm4 0l1-1 1 1v2l-1 1-1-1zm4 0l1-1 1 1v2l-1 1-1-1zm2 0l1-1 1 1v2l-1 1-1-1zm4 0l1-1 1 1v2l-1 1-1-1zm2 0l1-1 1 1v2l-1 1-1-1zm2 0l1-1 1 1v2l-1 1-1-1zm4 0l1-1 1 1v2l-1 1-1-1zm10 0l1-1 1 1v2l-1 1-1-1zm2 0l1-1 1 1v2l-1 1-1-1zm2 0l1-1 1 1v2l-1 1-1-1zm8 0l1-1 1 1v2l-1 1-1-1zm-51 3l1-1 1 1v2l-1 1-1-1zm10 0l1-1 1 1v2l-1 1-1-1zm2 0l1-1 1 1v2l-1 1-1-1zm10 0l1-1 1 1v2l-1 1-1-1zm4 0l1-1 1 1v2l-1 1-1-1zm2 0l1-1 1 1v2l-1 1-1-1zm2 0l1-1 1 1v2l-1 1-1-1zm8 0l1-1 1 1v2l-1 1-1-1zm24 0l1-1 1 1v2l-1 1-1-1zm-61 3l1-1 1 1v2l-1 1-1-1zm12 0l1-1 1 1v2l-1 1-1-1zm4 0l1-1 1 1v2l-1 1-1-1zm8 0l1-1 1 1v2l-1 1-1-1zm14 0l1-1 1 1v2l-1 1-1-1zm-41 3l1-1 1 1v2l-1 1-1-1zm6 0l1-1 1 1v2l-1 1-1-1zm4 0l1-1 1 1v2l-1 1-1-1zm6 0l1-1 1 1v2l-1 1-1-1zm4 0l1-1 1 1v2l-1 1-1-1zm6 0l1-1 1 1v2l-1 1-1-1zm12 0l1-1 1 1v2l-1 1-1-1zm4 0l1-1 1 1v2l-1 1-1-1zm10 0l1-1 1 1v2l-1 1-1-1zm2 0l1-1 1 1v2l-1 1-1-1zm2 0l1-1 1 1v2l-1 1-1-1zm-55 3l1-1 1 1v2l-1 1-1-1zm22 0l1-1 1 1v2l-1 1-1-1zm2 0l1-1 1 1v2l-1 1-1-1zm6 0l1-1 1 1v2l-1 1-1-1zm10 0l1-1 1 1v2l-1 1-1-1zm6 0l1-1 1 1v2l-1 1-1-1zm4 0l1-1 1 1v2l-1 1-1-1zm2 0l1-1 1 1v2l-1 1-1-1zm-55 3l1-1 1 1v2l-1 1-1-1zm16 0l1-1 1 1v2l-1 1-1-1zm2 0l1-1 1 1v2l-1 1-1-1zm14 0l1-1 1 1v2l-1 1-1-1zm6 0l1-1 1 1v2l-1 1-1-1zm12 0l1-1 1 1v2l-1 1-1-1zm-41 3l1-1 1 1v2l-1 1-1-1zm14 0l1-1 1 1v2l-1 1-1-1zm4 0l1-1 1 1v2l-1 1-1-1zm2 0l1-1 1 1v2l-1 1-1-1zm2 0l1-1 1 1v2l-1 1-1-1zm2 0l1-1 1 1v2l-1 1-1-1zm2 0l1-1 1 1v2l-1 1-1-1zm6 0l1-1 1 1v2l-1 1-1-1zm8 0l1-1 1 1v2l-1 1-1-1zm4 0l1-1 1 1v2l-1 1-1-1zm4 0l1-1 1 1v2l-1 1-1-1zm2 0l1-1 1 1v2l-1 1-1-1zm-59 3l1-1 1 1v2l-1 1-1-1zm12 0l1-1 1 1v2l-1 1-1-1zm6 0l1-1 1 1v2l-1 1-1-1zm4 0l1-1 1 1v2l-1 1-1-1zm2 0l1-1 1 1v2l-1 1-1-1zm4 0l1-1 1 1v2l-1 1-1-1zm6 0l1-1 1 1v2l-1 1-1-1zm4 0l1-1 1 1v2l-1 1-1-1zm4 0l1-1 1 1v2l-1 1-1-1zm20 0l1-1 1 1v2l-1 1-1-1zm14 0l1-1 1 1v2l-1 1-1-1zm-71 3l1-1 1 1v2l-1 1-1-1zm4 0l1-1 1 1v2l-1 1-1-1zm24 0l1-1 1 1v2l-1 1-1-1zm14 0l1-1 1 1v2l-1 1-1-1zm4 0l1-1 1 1v2l-1 1-1-1zm10 0l1-1 1 1v2l-1 1-1-1zm4 0l1-1 1 1v2l-1 1-1-1zm2 0l1-1 1 1v2l-1 1-1-1zm-49 3l1-1 1 1v2l-1 1-1-1zm8 0l1-1 1 1v2l-1 1-1-1zm6 0l1-1 1 1v2l-1 1-1-1zm4 0l1-1 1 1v2l-1 1-1-1zm2 0l1-1 1 1v2l-1 1-1-1zm12 0l1-1 1 1v2l-1 1-1-1zm2 0l1-1 1 1v2l-1 1-1-1zm2 0l1-1 1 1v2l-1 1-1-1zm2 0l1-1 1 1v2l-1 1-1-1zm6 0l1-1 1 1v2l-1 1-1-1zm14 0l1-1 1 1v2l-1 1-1-1zm-69 3l1-1 1 1v2l-1 1-1-1zm4 0l1-1 1 1v2l-1 1-1-1zm12 0l1-1 1 1v2l-1 1-1-1zm4 0l1-1 1 1v2l-1 1-1-1zm8 0l1-1 1 1v2l-1 1-1-1zm2 0l1-1 1 1v2l-1 1-1-1zm6 0l1-1 1 1v2l-1 1-1-1zm4 0l1-1 1 1v2l-1 1-1-1zm4 0l1-1 1 1v2l-1 1-1-1zm2 0l1-1 1 1v2l-1 1-1-1zm4 0l1-1 1 1v2l-1 1-1-1zm2 0l1-1 1 1v2l-1 1-1-1zm8 0l1-1 1 1v2l-1 1-1-1zm2 0l1-1 1 1v2l-1 1-1-1zm-69 3l1-1 1 1v2l-1 1-1-1zm10 0l1-1 1 1v2l-1 1-1-1zm2 0l1-1 1 1v2l-1 1-1-1zm6 0l1-1 1 1v2l-1 1-1-1zm12 0l1-1 1 1v2l-1 1-1-1zm6 0l1-1 1 1v2l-1 1-1-1zm6 0l1-1 1 1v2l-1 1-1-1zm14 0l1-1 1 1v2l-1 1-1-1zm2 0l1-1 1 1v2l-1 1-1-1zm2 0l1-1 1 1v2l-1 1-1-1zm8 0l1-1 1 1v2l-1 1-1-1zm-61 3l1-1 1 1v2l-1 1-1-1zm8 0l1-1 1 1v2l-1 1-1-1zm4 0l1-1 1 1v2l-1 1-1-1zm8 0l1-1 1 1v2l-1 1-1-1zm4 0l1-1 1 1v2l-1 1-1-1zm6 0l1-1 1 1v2l-1 1-1-1zm4 0l1-1 1 1v2l-1 1-1-1zm12 0l1-1 1 1v2l-1 1-1-1zm6 0l1-1 1 1v2l-1 1-1-1zm10 0l1-1 1 1v2l-1 1-1-1zm16 0l1-1 1 1v2l-1 1-1-1zm-75 3l1-1 1 1v2l-1 1-1-1zm12 0l1-1 1 1v2l-1 1-1-1zm12 0l1-1 1 1v2l-1 1-1-1zm18 0l1-1 1 1v2l-1 1-1-1zm2 0l1-1 1 1v2l-1 1-1-1zm16 0l1-1 1 1v2l-1 1-1-1zm12 0l1-1 1 1v2l-1 1-1-1zm-67 3l1-1 1 1v2l-1 1-1-1zm8 0l1-1 1 1v2l-1 1-1-1zm4 0l1-1 1 1v2l-1 1-1-1zm4 0l1-1 1 1v2l-1 1-1-1zm4 0l1-1 1 1v2l-1 1-1-1zm4 0l1-1 1 1v2l-1 1-1-1zm2 0l1-1 1 1v2l-1 1-1-1zm4 0l1-1 1 1v2l-1 1-1-1zm10 0l1-1 1 1v2l-1 1-1-1zm2 0l1-1 1 1v2l-1 1-1-1zm4 0l1-1 1 1v2l-1 1-1-1zm2 0l1-1 1 1v2l-1 1-1-1zm4 0l1-1 1 1v2l-1 1-1-1zm10 0l1-1 1 1v2l-1 1-1-1zm-67 3l1-1 1 1v2l-1 1-1-1zm10 0l1-1 1 1v2l-1 1-1-1zm8 0l1-1 1 1v2l-1 1-1-1zm8 0l1-1 1 1v2l-1 1-1-1zm6 0l1-1 1 1v2l-1 1-1-1zm4 0l1-1 1 1v2l-1 1-1-1zm4 0l1-1 1 1v2l-1 1-1-1zm6 0l1-1 1 1v2l-1 1-1-1zm2 0l1-1 1 1v2l-1 1-1-1zm-55 3l1-1 1 1v2l-1 1-1-1zm12 0l1-1 1 1v2l-1 1-1-1zm22 0l1-1 1 1v2l-1 1-1-1zm4 0l1-1 1 1v2l-1 1-1-1zm10 0l1-1 1 1v2l-1 1-1-1zm6 0l1-1 1 1v2l-1 1-1-1zm4 0l1-1 1 1v2l-1 1-1-1zm14 0l1-1 1 1v2l-1 1-1-1zm2 0l1-1 1 1v2l-1 1-1-1zm-63 3l1-1 1 1v2l-1 1-1-1zm2 0l1-1 1 1v2l-1 1-1-1zm10 0l1-1 1 1v2l-1 1-1-1zm2 0l1-1 1 1v2l-1 1-1-1zm4 0l1-1 1 1v2l-1 1-1-1zm2 0l1-1 1 1v2l-1 1-1-1zm2 0l1-1 1 1v2l-1 1-1-1zm2 0l1-1 1 1v2l-1 1-1-1zm6 0l1-1 1 1v2l-1 1-1-1zm10 0l1-1 1 1v2l-1 1-1-1zm6 0l1-1 1 1v2l-1 1-1-1zm6 0l1-1 1 1v2l-1 1-1-1zm2 0l1-1 1 1v2l-1 1-1-1zm16 0l1-1 1 1v2l-1 1-1-1zm2 0l1-1 1 1v2l-1 1-1-1zm2 0l1-1 1 1v2l-1 1-1-1zm6 0l1-1 1 1v2l-1 1-1-1zm-89 3l1-1 1 1v2l-1 1-1-1zm4 0l1-1 1 1v2l-1 1-1-1zm8 0l1-1 1 1v2l-1 1-1-1zm10 0l1-1 1 1v2l-1 1-1-1zm8 0l1-1 1 1v2l-1 1-1-1zm8 0l1-1 1 1v2l-1 1-1-1zm8 0l1-1 1 1v2l-1 1-1-1zm6 0l1-1 1 1v2l-1 1-1-1zm2 0l1-1 1 1v2l-1 1-1-1zm4 0l1-1 1 1v2l-1 1-1-1zm2 0l1-1 1 1v2l-1 1-1-1zm22 0l1-1 1 1v2l-1 1-1-1zm4 0l1-1 1 1v2l-1 1-1-1zm4 0l1-1 1 1v2l-1 1-1-1zm-91 3l1-1 1 1v2l-1 1-1-1zm10 0l1-1 1 1v2l-1 1-1-1zm24 0l1-1 1 1v2l-1 1-1-1zm4 0l1-1 1 1v2l-1 1-1-1zm10 0l1-1 1 1v2l-1 1-1-1zm16 0l1-1 1 1v2l-1 1-1-1zm4 0l1-1 1 1v2l-1 1-1-1zm2 0l1-1 1 1v2l-1 1-1-1zm2 0l1-1 1 1v2l-1 1-1-1zm2 0l1-1 1 1v2l-1 1-1-1zm-71 3l1-1 1 1v2l-1 1-1-1zm18 0l1-1 1 1v2l-1 1-1-1zm6 0l1-1 1 1v2l-1 1-1-1zm2 0l1-1 1 1v2l-1 1-1-1zm2 0l1-1 1 1v2l-1 1-1-1zm8 0l1-1 1 1v2l-1 1-1-1zm8 0l1-1 1 1v2l-1 1-1-1zm2 0l1-1 1 1v2l-1 1-1-1zm14 0l1-1 1 1v2l-1 1-1-1zm32 0l1-1 1 1v2l-1 1-1-1zm-87 3l1-1 1 1v2l-1 1-1-1zm10 0l1-1 1 1v2l-1 1-1-1zm8 0l1-1 1 1v2l-1 1-1-1zm14 0l1-1 1 1v2l-1 1-1-1zm12 0l1-1 1 1v2l-1 1-1-1zm8 0l1-1 1 1v2l-1 1-1-1zm4 0l1-1 1 1v2l-1 1-1-1zm8 0l1-1 1 1v2l-1 1-1-1zm10 0l1-1 1 1v2l-1 1-1-1zm8 0l1-1 1 1v2l-1 1-1-1zm-89 3l1-1 1 1v2l-1 1-1-1zm10 0l1-1 1 1v2l-1 1-1-1zm14 0l1-1 1 1v2l-1 1-1-1zm16 0l1-1 1 1v2l-1 1-1-1zm14 0l1-1 1 1v2l-1 1-1-1zm2 0l1-1 1 1v2l-1 1-1-1zm4 0l1-1 1 1v2l-1 1-1-1zm2 0l1-1 1 1v2l-1 1-1-1zm2 0l1-1 1 1v2l-1 1-1-1zm8 0l1-1 1 1v2l-1 1-1-1zm6 0l1-1 1 1v2l-1 1-1-1zm4 0l1-1 1 1v2l-1 1-1-1zm4 0l1-1 1 1v2l-1 1-1-1zm-79 3l1-1 1 1v2l-1 1-1-1zm10 0l1-1 1 1v2l-1 1-1-1zm2 0l1-1 1 1v2l-1 1-1-1zm12 0l1-1 1 1v2l-1 1-1-1zm10 0l1-1 1 1v2l-1 1-1-1zm6 0l1-1 1 1v2l-1 1-1-1zm2 0l1-1 1 1v2l-1 1-1-1zm6 0l1-1 1 1v2l-1 1-1-1zm2 0l1-1 1 1v2l-1 1-1-1zm10 0l1-1 1 1v2l-1 1-1-1zm2 0l1-1 1 1v2l-1 1-1-1zm4 0l1-1 1 1v2l-1 1-1-1zm2 0l1-1 1 1v2l-1 1-1-1zm2 0l1-1 1 1v2l-1 1-1-1zm12 0l1-1 1 1v2l-1 1-1-1zm-41 3l1-1 1 1v2l-1 1-1-1zm2 0l1-1 1 1v2l-1 1-1-1zm12 0l1-1 1 1v2l-1 1-1-1zm10 0l1-1 1 1v2l-1 1-1-1zm4 0l1-1 1 1v2l-1 1-1-1zm2 0l1-1 1 1v2l-1 1-1-1zm4 0l1-1 1 1v2l-1 1-1-1zm4 0l1-1 1 1v2l-1 1-1-1zm6 0l1-1 1 1v2l-1 1-1-1zm-83 3l1-1 1 1v2l-1 1-1-1zm6 0l1-1 1 1v2l-1 1-1-1zm4 0l1-1 1 1v2l-1 1-1-1zm2 0l1-1 1 1v2l-1 1-1-1zm8 0l1-1 1 1v2l-1 1-1-1zm20 0l1-1 1 1v2l-1 1-1-1zm14 0l1-1 1 1v2l-1 1-1-1zm8 0l1-1 1 1v2l-1 1-1-1zm6 0l1-1 1 1v2l-1 1-1-1zm6 0l1-1 1 1v2l-1 1-1-1zm4 0l1-1 1 1v2l-1 1-1-1zm4 0l1-1 1 1v2l-1 1-1-1zm2 0l1-1 1 1v2l-1 1-1-1zm-65 3l1-1 1 1v2l-1 1-1-1zm12 0l1-1 1 1v2l-1 1-1-1zm32 0l1-1 1 1v2l-1 1-1-1zm12 0l1-1 1 1v2l-1 1-1-1zm6 0l1-1 1 1v2l-1 1-1-1zm-85 3l1-1 1 1v2l-1 1-1-1zm4 0l1-1 1 1v2l-1 1-1-1zm30 0l1-1 1 1v2l-1 1-1-1zm16 0l1-1 1 1v2l-1 1-1-1zm8 0l1-1 1 1v2l-1 1-1-1zm6 0l1-1 1 1v2l-1 1-1-1zm2 0l1-1 1 1v2l-1 1-1-1zm2 0l1-1 1 1v2l-1 1-1-1zm2 0l1-1 1 1v2l-1 1-1-1zm4 0l1-1 1 1v2l-1 1-1-1zm4 0l1-1 1 1v2l-1 1-1-1zm2 0l1-1 1 1v2l-1 1-1-1zm2 0l1-1 1 1v2l-1 1-1-1zm2 0l1-1 1 1v2l-1 1-1-1zm4 0l1-1 1 1v2l-1 1-1-1zm-75 3l1-1 1 1v2l-1 1-1-1zm8 0l1-1 1 1v2l-1 1-1-1zm4 0l1-1 1 1v2l-1 1-1-1zm8 0l1-1 1 1v2l-1 1-1-1zm2 0l1-1 1 1v2l-1 1-1-1zm4 0l1-1 1 1v2l-1 1-1-1zm20 0l1-1 1 1v2l-1 1-1-1zm4 0l1-1 1 1v2l-1 1-1-1zm4 0l1-1 1 1v2l-1 1-1-1zm10 0l1-1 1 1v2l-1 1-1-1zm2 0l1-1 1 1v2l-1 1-1-1zm2 0l1-1 1 1v2l-1 1-1-1zm4 0l1-1 1 1v2l-1 1-1-1zm10 0l1-1 1 1v2l-1 1-1-1zm8 0l1-1 1 1v2l-1 1-1-1zm-97 3l1-1 1 1v2l-1 1-1-1zm36 0l1-1 1 1v2l-1 1-1-1zm8 0l1-1 1 1v2l-1 1-1-1zm6 0l1-1 1 1v2l-1 1-1-1zm4 0l1-1 1 1v2l-1 1-1-1zm6 0l1-1 1 1v2l-1 1-1-1zm20 0l1-1 1 1v2l-1 1-1-1zm2 0l1-1 1 1v2l-1 1-1-1zm-67 3l1-1 1 1v2l-1 1-1-1zm2 0l1-1 1 1v2l-1 1-1-1zm64 0l1-1 1 1v2l-1 1-1-1zm4 0l1-1 1 1v2l-1 1-1-1zm4 0l1-1 1 1v2l-1 1-1-1zm-41 3l1-1 1 1v2l-1 1-1-1zm24 0l1-1 1 1v2l-1 1-1-1zm14 0l1-1 1 1v2l-1 1-1-1zm4 0l1-1 1 1v2l-1 1-1-1zm2 0l1-1 1 1v2l-1 1-1-1zm2 0l1-1 1 1v2l-1 1-1-1zm-79 3l1-1 1 1v2l-1 1-1-1zm14 0l1-1 1 1v2l-1 1-1-1zm14 0l1-1 1 1v2l-1 1-1-1zm12 0l1-1 1 1v2l-1 1-1-1zm34 0l1-1 1 1v2l-1 1-1-1zm-85 3l1-1 1 1v2l-1 1-1-1zm44 0l1-1 1 1v2l-1 1-1-1zm4 0l1-1 1 1v2l-1 1-1-1zm2 0l1-1 1 1v2l-1 1-1-1zm28 0l1-1 1 1v2l-1 1-1-1zm24 0l1-1 1 1v2l-1 1-1-1zm-97 3l1-1 1 1v2l-1 1-1-1zm56 0l1-1 1 1v2l-1 1-1-1zm26 0l1-1 1 1v2l-1 1-1-1zm2 0l1-1 1 1v2l-1 1-1-1zm2 0l1-1 1 1v2l-1 1-1-1zm4 0l1-1 1 1v2l-1 1-1-1zm2 0l1-1 1 1v2l-1 1-1-1zm2 0l1-1 1 1v2l-1 1-1-1zm4 0l1-1 1 1v2l-1 1-1-1zm-113 3l1-1 1 1v2l-1 1-1-1zm32 0l1-1 1 1v2l-1 1-1-1zm26 0l1-1 1 1v2l-1 1-1-1zm20 0l1-1 1 1v2l-1 1-1-1zm12 0l1-1 1 1v2l-1 1-1-1zm12 0l1-1 1 1v2l-1 1-1-1zm2 0l1-1 1 1v2l-1 1-1-1zm2 0l1-1 1 1v2l-1 1-1-1zm6 0l1-1 1 1v2l-1 1-1-1zm2 0l1-1 1 1v2l-1 1-1-1zm-97 3l1-1 1 1v2l-1 1-1-1zm12 0l1-1 1 1v2l-1 1-1-1zm74 0l1-1 1 1v2l-1 1-1-1zm4 0l1-1 1 1v2l-1 1-1-1zm2 0l1-1 1 1v2l-1 1-1-1zm-87 3l1-1 1 1v2l-1 1-1-1zm84 0l1-1 1 1v2l-1 1-1-1zm2 0l1-1 1 1v2l-1 1-1-1zm2 0l1-1 1 1v2l-1 1-1-1zm4 0l1-1 1 1v2l-1 1-1-1zm-99 3l1-1 1 1v2l-1 1-1-1zm94 0l1-1 1 1v2l-1 1-1-1zm2 0l1-1 1 1v2l-1 1-1-1zm-97 3l1-1 1 1v2l-1 1-1-1zm18 0l1-1 1 1v2l-1 1-1-1zm80 0l1-1 1 1v2l-1 1-1-1zm6 0l1-1 1 1v2l-1 1-1-1zm-111 3l1-1 1 1v2l-1 1-1-1zm106 0l1-1 1 1v2l-1 1-1-1zm2 0l1-1 1 1v2l-1 1-1-1zm8 0l1-1 1 1v2l-1 1-1-1zm-129 3l1-1 1 1v2l-1 1-1-1zm128 0l1-1 1 1v2l-1 1-1-1zm-103 3l1-1 1 1v2l-1 1-1-1zm68 0l1-1 1 1v2l-1 1-1-1zm32 0l1-1 1 1v2l-1 1-1-1zm2 0l1-1 1 1v2l-1 1-1-1zm6 0l1-1 1 1v2l-1 1-1-1zm-137 3l1-1 1 1v2l-1 1-1-1zm132 0l1-1 1 1v2l-1 1-1-1zm2 0l1-1 1 1v2l-1 1-1-1zm3 3l1-1 1 1v2l-1 1-1-1zm2 0l1-1 1 1v2l-1 1-1-1zm-11 3l1-1 1 1v2l-1 1-1-1zm-111 3l1-1 1 1v2l-1 1-1-1zm122 0l1-1 1 1v2l-1 1-1-1zm-119 3l1-1 1 1v2l-1 1-1-1zm118 0l1-1 1 1v2l-1 1-1-1zm2 0l1-1 1 1v2l-1 1-1-1zm2 0l1-1 1 1v2l-1 1-1-1zm2 0l1-1 1 1v2l-1 1-1-1zm-1 3l1-1 1 1v2l-1 1-1-1zm1 3l1-1 1 1v2l-1 1-1-1zm4 0l1-1 1 1v2l-1 1-1-1zm-151 3l1-1 1 1v2l-1 1-1-1zm94 0l1-1 1 1v2l-1 1-1-1zm52 0l1-1 1 1v2l-1 1-1-1zm2 0l1-1 1 1v2l-1 1-1-1zm-103 3l1-1 1 1v2l-1 1-1-1zm104 0l1-1 1 1v2l-1 1-1-1zm-65 3l1-1 1 1v2l-1 1-1-1zm-59 3l1-1 1 1v2l-1 1-1-1zm74 0l1-1 1 1v2l-1 1-1-1zm56 0l1-1 1 1v2l-1 1-1-1zm4 0l1-1 1 1v2l-1 1-1-1zm-3 3l1-1 1 1v2l-1 1-1-1zm2 0l1-1 1 1v2l-1 1-1-1zm2 0l1-1 1 1v2l-1 1-1-1zm-117 3l1-1 1 1v2l-1 1-1-1zm116 0l1-1 1 1v2l-1 1-1-1zm-73 3l1-1 1 1v2l-1 1-1-1zm74 0l1-1 1 1v2l-1 1-1-1zm-7 3l1-1 1 1v2l-1 1-1-1zm8 0l1-1 1 1v2l-1 1-1-1zm2 0l1-1 1 1v2l-1 1-1-1zm-77 3l1-1 1 1v2l-1 1-1-1zm36 0l1-1 1 1v2l-1 1-1-1zm44 0l1-1 1 1v2l-1 1-1-1zm-151 3l1-1 1 1v2l-1 1-1-1zm34 0l1-1 1 1v2l-1 1-1-1zm116 0l1-1 1 1v2l-1 1-1-1zm4 0l1-1 1 1v2l-1 1-1-1zm-141 3l1-1 1 1v2l-1 1-1-1zm98 0l1-1 1 1v2l-1 1-1-1zm42 0l1-1 1 1v2l-1 1-1-1zm2 0l1-1 1 1v2l-1 1-1-1zm-169 3l1-1 1 1v2l-1 1-1-1zm76 0l1-1 1 1v2l-1 1-1-1zm92 0l1-1 1 1v2l-1 1-1-1zm4 0l1-1 1 1v2l-1 1-1-1zm-115 3l1-1 1 1v2l-1 1-1-1zm114 0l1-1 1 1v2l-1 1-1-1zm-43 3l1-1 1 1v2l-1 1-1-1zm44 0l1-1 1 1v2l-1 1-1-1zm-165 3l1-1 1 1v2l-1 1-1-1zm122 0l1-1 1 1v2l-1 1-1-1zm42 0l1-1 1 1v2l-1 1-1-1zm2 0l1-1 1 1v2l-1 1-1-1zm1 3l1-1 1 1v2l-1 1-1-1zm4 0l1-1 1 1v2l-1 1-1-1zm-169 3l1-1 1 1v2l-1 1-1-1zm168 0l1-1 1 1v2l-1 1-1-1zm2 0l1-1 1 1v2l-1 1-1-1zm-120 6l1-1 1 1v2l-1 1-1-1zm120 0l1-1 1 1v2l-1 1-1-1zm4 0l1-1 1 1v2l-1 1-1-1zm-163 3l1-1 1 1v2l-1 1-1-1zm160 0l1-1 1 1v2l-1 1-1-1zm6 0l1-1 1 1v2l-1 1-1-1zm-153 3l1-1 1 1v2l-1 1-1-1zm150 0l1-1 1 1v2l-1 1-1-1zm2 0l1-1 1 1v2l-1 1-1-1zm-155 3l1-1 1 1v2l-1 1-1-1zm155 3l1-1 1 1v2l-1 1-1-1zm2 0l1-1 1 1v2l-1 1-1-1zm2 0l1-1 1 1v2l-1 1-1-1zm-157 3l1-1 1 1v2l-1 1-1-1zm32 0l1-1 1 1v2l-1 1-1-1zm126 0l1-1 1 1v2l-1 1-1-1zm-171 3l1-1 1 1v2l-1 1-1-1zm10 0l1-1 1 1v2l-1 1-1-1zm164 0l1-1 1 1v2l-1 1-1-1zm0 6l1-1 1 1v2l-1 1-1-1zm8 6l1-1 1 1v2l-1 1-1-1zm-3 3l1-1 1 1v2l-1 1-1-1zm7 3l1-1 1 1v2l-1 1-1-1zm-3 3l1-1 1 1v2l-1 1-1-1zm4 0l1-1 1 1v2l-1 1-1-1z"/><path fill="#386faf" d="M4 8l1-1 1 1v2l-1 1-1-1zm4 6l1-1 1 1v2l-1 1-1-1zm2 6l1-1 1 1v2l-1 1-1-1zm7 9l1-1 1 1v2l-1 1-1-1zm0 6l1-1 1 1v2l-1 1-1-1zm11 21l1-1 1 1v2l-1 1-1-1zm4 12l1-1 1 1v2l-1 1-1-1zm1 3l1-1 1 1v2l-1 1-1-1zm2 0l1-1 1 1v2l-1 1-1-1zm0 6l1-1 1 1v2l-1 1-1-1zm3 3l1-1 1 1v2l-1 1-1-1zm8 6l1-1 1 1v2l-1 1-1-1zm-7 3l1-1 1 1v2l-1 1-1-1zm3 3l1-1 1 1v2l-1 1-1-1zm1 3l1-1 1 1v2l-1 1-1-1zm6 0l1-1 1 1v2l-1 1-1-1zm1 3l1-1 1 1v2l-1 1-1-1zm3 3l1-1 1 1v2l-1 1-1-1zm-3 3l1-1 1 1v2l-1 1-1-1zm1 3l1-1 1 1v2l-1 1-1-1zm-3 3l1-1 1 1v2l-1 1-1-1zm2 6l1-1 1 1v2l-1 1-1-1zm8 0l1-1 1 1v2l-1 1-1-1zm2 0l1-1 1 1v2l-1 1-1-1zm-7 3l1-1 1 1v2l-1 1-1-1zm9 9l1-1 1 1v2l-1 1-1-1zm5 3l1-1 1 1v2l-1 1-1-1zm-5 3l1-1 1 1v2l-1 1-1-1zm6 0l1-1 1 1v2l-1 1-1-1zm-11 3l1-1 1 1v2l-1 1-1-1zm10 0l1-1 1 1v2l-1 1-1-1zm4 0l1-1 1 1v2l-1 1-1-1zm-3 3l1-1 1 1v2l-1 1-1-1zm6 0l1-1 1 1v2l-1 1-1-1zm2 0l1-1 1 1v2l-1 1-1-1zm-3 3l1-1 1 1v2l-1 1-1-1zm4 0l1-1 1 1v2l-1 1-1-1zm-11 3l1-1 1 1v2l-1 1-1-1zm6 0l1-1 1 1v2l-1 1-1-1zm4 0l1-1 1 1v2l-1 1-1-1zm-7 3l1-1 1 1v2l-1 1-1-1zm2 0l1-1 1 1v2l-1 1-1-1zm1 3l1-1 1 1v2l-1 1-1-1zm6 0l1-1 1 1v2l-1 1-1-1zm6 0l1-1 1 1v2l-1 1-1-1zm-19 3l1-1 1 1v2l-1 1-1-1zm6 0l1-1 1 1v2l-1 1-1-1zm20 0l1-1 1 1v2l-1 1-1-1zm-27 3l1-1 1 1v2l-1 1-1-1zm8 0l1-1 1 1v2l-1 1-1-1zm4 0l1-1 1 1v2l-1 1-1-1zm8 0l1-1 1 1v2l-1 1-1-1zm-17 3l1-1 1 1v2l-1 1-1-1zm2 0l1-1 1 1v2l-1 1-1-1zm12 0l1-1 1 1v2l-1 1-1-1zm4 0l1-1 1 1v2l-1 1-1-1zm-13 3l1-1 1 1v2l-1 1-1-1zm8 0l1-1 1 1v2l-1 1-1-1zm4 0l1-1 1 1v2l-1 1-1-1zm-11 3l1-1 1 1v2l-1 1-1-1zm4 0l1-1 1 1v2l-1 1-1-1zm8 0l1-1 1 1v2l-1 1-1-1zm6 0l1-1 1 1v2l-1 1-1-1zm-9 3l1-1 1 1v2l-1 1-1-1zm-9 3l1-1 1 1v2l-1 1-1-1zm18 0l1-1 1 1v2l-1 1-1-1zm-17 3l1-1 1 1v2l-1 1-1-1zm10 0l1-1 1 1v2l-1 1-1-1zm4 0l1-1 1 1v2l-1 1-1-1zm-5 3l1-1 1 1v2l-1 1-1-1zm2 0l1-1 1 1v2l-1 1-1-1zm16 0l1-1 1 1v2l-1 1-1-1zm-17 3l1-1 1 1v2l-1 1-1-1zm18 0l1-1 1 1v2l-1 1-1-1zm-19 3l1-1 1 1v2l-1 1-1-1zm8 0l1-1 1 1v2l-1 1-1-1zm4 0l1-1 1 1v2l-1 1-1-1zm-15 3l1-1 1 1v2l-1 1-1-1zm10 0l1-1 1 1v2l-1 1-1-1zm10 0l1-1 1 1v2l-1 1-1-1zm-17 3l1-1 1 1v2l-1 1-1-1zm10 0l1-1 1 1v2l-1 1-1-1zm12 0l1-1 1 1v2l-1 1-1-1zm-5 3l1-1 1 1v2l-1 1-1-1zm-13 3l1-1 1 1v2l-1 1-1-1zm6 0l1-1 1 1v2l-1 1-1-1zm2 0l1-1 1 1v2l-1 1-1-1zm2 0l1-1 1 1v2l-1 1-1-1zm2 0l1-1 1 1v2l-1 1-1-1zm12 0l1-1 1 1v2l-1 1-1-1zm-23 3l1-1 1 1v2l-1 1-1-1zm2 0l1-1 1 1v2l-1 1-1-1zm6 0l1-1 1 1v2l-1 1-1-1zm10 0l1-1 1 1v2l-1 1-1-1zm-21 3l1-1 1 1v2l-1 1-1-1zm4 0l1-1 1 1v2l-1 1-1-1zm14 0l1-1 1 1v2l-1 1-1-1zm-7 3l1-1 1 1v2l-1 1-1-1zm4 0l1-1 1 1v2l-1 1-1-1zm2 0l1-1 1 1v2l-1 1-1-1zm-23 3l1-1 1 1v2l-1 1-1-1zm6 0l1-1 1 1v2l-1 1-1-1zm16 0l1-1 1 1v2l-1 1-1-1zm-17 3l1-1 1 1v2l-1 1-1-1zm10 0l1-1 1 1v2l-1 1-1-1zm2 0l1-1 1 1v2l-1 1-1-1zm8 0l1-1 1 1v2l-1 1-1-1zm4 0l1-1 1 1v2l-1 1-1-1zm4 0l1-1 1 1v2l-1 1-1-1zm8 0l1-1 1 1v2l-1 1-1-1zm-17 3l1-1 1 1v2l-1 1-1-1zm18 0l1-1 1 1v2l-1 1-1-1zm-23 3l1-1 1 1v2l-1 1-1-1zm6 0l1-1 1 1v2l-1 1-1-1zm-23 3l1-1 1 1v2l-1 1-1-1zm12 0l1-1 1 1v2l-1 1-1-1zm6 0l1-1 1 1v2l-1 1-1-1zm22 0l1-1 1 1v2l-1 1-1-1zm-27 3l1-1 1 1v2l-1 1-1-1zm2 0l1-1 1 1v2l-1 1-1-1zm14 0l1-1 1 1v2l-1 1-1-1zm2 0l1-1 1 1v2l-1 1-1-1zm4 0l1-1 1 1v2l-1 1-1-1zm6 0l1-1 1 1v2l-1 1-1-1zm-27 3l1-1 1 1v2l-1 1-1-1zm6 0l1-1 1 1v2l-1 1-1-1zm18 0l1-1 1 1v2l-1 1-1-1zm-23 3l1-1 1 1v2l-1 1-1-1zm16 0l1-1 1 1v2l-1 1-1-1zm14 0l1-1 1 1v2l-1 1-1-1zm-33 3l1-1 1 1v2l-1 1-1-1zm2 0l1-1 1 1v2l-1 1-1-1zm14 0l1-1 1 1v2l-1 1-1-1zm10 0l1-1 1 1v2l-1 1-1-1zm8 0l1-1 1 1v2l-1 1-1-1zm-27 3l1-1 1 1v2l-1 1-1-1zm16 0l1-1 1 1v2l-1 1-1-1zm2 0l1-1 1 1v2l-1 1-1-1zm-29 3l1-1 1 1v2l-1 1-1-1zm6 0l1-1 1 1v2l-1 1-1-1zm14 0l1-1 1 1v2l-1 1-1-1zm12 0l1-1 1 1v2l-1 1-1-1zm2 0l1-1 1 1v2l-1 1-1-1zm6 0l1-1 1 1v2l-1 1-1-1zm-35 3l1-1 1 1v2l-1 1-1-1zm16 0l1-1 1 1v2l-1 1-1-1zm-9 3l1-1 1 1v2l-1 1-1-1zm12 0l1-1 1 1v2l-1 1-1-1zm8 0l1-1 1 1v2l-1 1-1-1zm-11 3l1-1 1 1v2l-1 1-1-1zm4 0l1-1 1 1v2l-1 1-1-1zm16 0l1-1 1 1v2l-1 1-1-1zm8 0l1-1 1 1v2l-1 1-1-1zm-41 3l1-1 1 1v2l-1 1-1-1zm14 0l1-1 1 1v2l-1 1-1-1zm10 0l1-1 1 1v2l-1 1-1-1zm2 0l1-1 1 1v2l-1 1-1-1zm8 0l1-1 1 1v2l-1 1-1-1zm-11 3l1-1 1 1v2l-1 1-1-1zm6 0l1-1 1 1v2l-1 1-1-1zm-27 3l1-1 1 1v2l-1 1-1-1zm6 0l1-1 1 1v2l-1 1-1-1zm4 0l1-1 1 1v2l-1 1-1-1zm4 0l1-1 1 1v2l-1 1-1-1zm2 0l1-1 1 1v2l-1 1-1-1zm8 0l1-1 1 1v2l-1 1-1-1zm2 0l1-1 1 1v2l-1 1-1-1zm6 0l1-1 1 1v2l-1 1-1-1zm10 0l1-1 1 1v2l-1 1-1-1zm-27 3l1-1 1 1v2l-1 1-1-1zm18 0l1-1 1 1v2l-1 1-1-1zm6 0l1-1 1 1v2l-1 1-1-1zm-31 3l1-1 1 1v2l-1 1-1-1zm2 0l1-1 1 1v2l-1 1-1-1zm10 0l1-1 1 1v2l-1 1-1-1zm2 0l1-1 1 1v2l-1 1-1-1zm6 0l1-1 1 1v2l-1 1-1-1zm2 0l1-1 1 1v2l-1 1-1-1zm12 0l1-1 1 1v2l-1 1-1-1zm-9 3l1-1 1 1v2l-1 1-1-1zm8 0l1-1 1 1v2l-1 1-1-1zm4 0l1-1 1 1v2l-1 1-1-1zm-51 3l1-1 1 1v2l-1 1-1-1zm6 0l1-1 1 1v2l-1 1-1-1zm28 0l1-1 1 1v2l-1 1-1-1zm8 0l1-1 1 1v2l-1 1-1-1zm6 0l1-1 1 1v2l-1 1-1-1zm-39 3l1-1 1 1v2l-1 1-1-1zm12 0l1-1 1 1v2l-1 1-1-1zm8 0l1-1 1 1v2l-1 1-1-1zm4 0l1-1 1 1v2l-1 1-1-1zm2 0l1-1 1 1v2l-1 1-1-1zm2 0l1-1 1 1v2l-1 1-1-1zm2 0l1-1 1 1v2l-1 1-1-1zm6 0l1-1 1 1v2l-1 1-1-1zm2 0l1-1 1 1v2l-1 1-1-1zm4 0l1-1 1 1v2l-1 1-1-1zm-37 3l1-1 1 1v2l-1 1-1-1zm34 0l1-1 1 1v2l-1 1-1-1zm-15 3l1-1 1 1v2l-1 1-1-1zm2 0l1-1 1 1v2l-1 1-1-1zm20 0l1-1 1 1v2l-1 1-1-1zm4 0l1-1 1 1v2l-1 1-1-1zm10 0l1-1 1 1v2l-1 1-1-1zm-31 3l1-1 1 1v2l-1 1-1-1zm2 0l1-1 1 1v2l-1 1-1-1zm6 0l1-1 1 1v2l-1 1-1-1zm4 0l1-1 1 1v2l-1 1-1-1zm10 0l1-1 1 1v2l-1 1-1-1zm2 0l1-1 1 1v2l-1 1-1-1zm-49 3l1-1 1 1v2l-1 1-1-1zm24 0l1-1 1 1v2l-1 1-1-1zm6 0l1-1 1 1v2l-1 1-1-1zm2 0l1-1 1 1v2l-1 1-1-1zm8 0l1-1 1 1v2l-1 1-1-1zm8 0l1-1 1 1v2l-1 1-1-1zm-15 3l1-1 1 1v2l-1 1-1-1zm2 0l1-1 1 1v2l-1 1-1-1zm14 0l1-1 1 1v2l-1 1-1-1zm-41 3l1-1 1 1v2l-1 1-1-1zm6 0l1-1 1 1v2l-1 1-1-1zm12 0l1-1 1 1v2l-1 1-1-1zm4 0l1-1 1 1v2l-1 1-1-1zm4 0l1-1 1 1v2l-1 1-1-1zm8 0l1-1 1 1v2l-1 1-1-1zm6 0l1-1 1 1v2l-1 1-1-1zm-29 3l1-1 1 1v2l-1 1-1-1zm8 0l1-1 1 1v2l-1 1-1-1zm2 0l1-1 1 1v2l-1 1-1-1zm14 0l1-1 1 1v2l-1 1-1-1zm8 0l1-1 1 1v2l-1 1-1-1zm-53 3l1-1 1 1v2l-1 1-1-1zm20 0l1-1 1 1v2l-1 1-1-1zm16 0l1-1 1 1v2l-1 1-1-1zm14 0l1-1 1 1v2l-1 1-1-1zm18 0l1-1 1 1v2l-1 1-1-1zm-35 3l1-1 1 1v2l-1 1-1-1zm16 0l1-1 1 1v2l-1 1-1-1zm16 0l1-1 1 1v2l-1 1-1-1zm-55 3l1-1 1 1v2l-1 1-1-1zm10 0l1-1 1 1v2l-1 1-1-1zm2 0l1-1 1 1v2l-1 1-1-1zm16 0l1-1 1 1v2l-1 1-1-1zm4 0l1-1 1 1v2l-1 1-1-1zm6 0l1-1 1 1v2l-1 1-1-1zm6 0l1-1 1 1v2l-1 1-1-1zm8 0l1-1 1 1v2l-1 1-1-1zm2 0l1-1 1 1v2l-1 1-1-1zm2 0l1-1 1 1v2l-1 1-1-1zm-63 3l1-1 1 1v2l-1 1-1-1zm10 0l1-1 1 1v2l-1 1-1-1zm10 0l1-1 1 1v2l-1 1-1-1zm4 0l1-1 1 1v2l-1 1-1-1zm34 0l1-1 1 1v2l-1 1-1-1zm-49 3l1-1 1 1v2l-1 1-1-1zm-17 3l1-1 1 1v2l-1 1-1-1zm22 0l1-1 1 1v2l-1 1-1-1zm10 0l1-1 1 1v2l-1 1-1-1zm26 0l1-1 1 1v2l-1 1-1-1zm6 0l1-1 1 1v2l-1 1-1-1zm4 0l1-1 1 1v2l-1 1-1-1zm6 0l1-1 1 1v2l-1 1-1-1zm-33 3l1-1 1 1v2l-1 1-1-1zm6 0l1-1 1 1v2l-1 1-1-1zm10 0l1-1 1 1v2l-1 1-1-1zm2 0l1-1 1 1v2l-1 1-1-1zm2 0l1-1 1 1v2l-1 1-1-1zm4 0l1-1 1 1v2l-1 1-1-1zm8 0l1-1 1 1v2l-1 1-1-1zm-23 3l1-1 1 1v2l-1 1-1-1zm14 0l1-1 1 1v2l-1 1-1-1zm2 0l1-1 1 1v2l-1 1-1-1zm4 0l1-1 1 1v2l-1 1-1-1zm2 0l1-1 1 1v2l-1 1-1-1zm-27 3l1-1 1 1v2l-1 1-1-1zm24 0l1-1 1 1v2l-1 1-1-1zm2 0l1-1 1 1v2l-1 1-1-1zm2 0l1-1 1 1v2l-1 1-1-1zm2 0l1-1 1 1v2l-1 1-1-1zm-35 3l1-1 1 1v2l-1 1-1-1zm12 0l1-1 1 1v2l-1 1-1-1zm2 0l1-1 1 1v2l-1 1-1-1zm4 0l1-1 1 1v2l-1 1-1-1zm20 0l1-1 1 1v2l-1 1-1-1zm-47 3l1-1 1 1v2l-1 1-1-1zm18 0l1-1 1 1v2l-1 1-1-1zm28 0l1-1 1 1v2l-1 1-1-1zm2 0l1-1 1 1v2l-1 1-1-1zm4 0l1-1 1 1v2l-1 1-1-1zm-9 3l1-1 1 1v2l-1 1-1-1zm6 0l1-1 1 1v2l-1 1-1-1zm12 0l1-1 1 1v2l-1 1-1-1zm-49 3l1-1 1 1v2l-1 1-1-1zm24 0l1-1 1 1v2l-1 1-1-1zm10 0l1-1 1 1v2l-1 1-1-1zm4 0l1-1 1 1v2l-1 1-1-1zm4 0l1-1 1 1v2l-1 1-1-1zm-23 3l1-1 1 1v2l-1 1-1-1zm6 0l1-1 1 1v2l-1 1-1-1zm8 0l1-1 1 1v2l-1 1-1-1zm2 0l1-1 1 1v2l-1 1-1-1zm2 0l1-1 1 1v2l-1 1-1-1zm2 0l1-1 1 1v2l-1 1-1-1zm2 0l1-1 1 1v2l-1 1-1-1zm6 0l1-1 1 1v2l-1 1-1-1zm-49 3l1-1 1 1v2l-1 1-1-1zm22 0l1-1 1 1v2l-1 1-1-1zm18 0l1-1 1 1v2l-1 1-1-1zm12 0l1-1 1 1v2l-1 1-1-1zm4 0l1-1 1 1v2l-1 1-1-1zm-25 3l1-1 1 1v2l-1 1-1-1zm-37 3l1-1 1 1v2l-1 1-1-1zm8 0l1-1 1 1v2l-1 1-1-1zm6 0l1-1 1 1v2l-1 1-1-1zm4 0l1-1 1 1v2l-1 1-1-1zm2 0l1-1 1 1v2l-1 1-1-1zm22 0l1-1 1 1v2l-1 1-1-1zm6 0l1-1 1 1v2l-1 1-1-1zm2 0l1-1 1 1v2l-1 1-1-1zm4 0l1-1 1 1v2l-1 1-1-1zm8 0l1-1 1 1v2l-1 1-1-1zm-75 3l1-1 1 1v2l-1 1-1-1zm40 0l1-1 1 1v2l-1 1-1-1zm26 0l1-1 1 1v2l-1 1-1-1zm-15 3l1-1 1 1v2l-1 1-1-1zm4 0l1-1 1 1v2l-1 1-1-1zm22 0l1-1 1 1v2l-1 1-1-1zm-7 3l1-1 1 1v2l-1 1-1-1zm4 0l1-1 1 1v2l-1 1-1-1zm2 0l1-1 1 1v2l-1 1-1-1zm-51 3l1-1 1 1v2l-1 1-1-1zm48 0l1-1 1 1v2l-1 1-1-1zm6 0l1-1 1 1v2l-1 1-1-1zm6 0l1-1 1 1v2l-1 1-1-1zm-3 3l1-1 1 1v2l-1 1-1-1zm6 0l1-1 1 1v2l-1 1-1-1zm-11 3l1-1 1 1v2l-1 1-1-1zm2 0l1-1 1 1v2l-1 1-1-1zm2 0l1-1 1 1v2l-1 1-1-1zm4 0l1-1 1 1v2l-1 1-1-1zm2 0l1-1 1 1v2l-1 1-1-1zm2 0l1-1 1 1v2l-1 1-1-1zm-3 3l1-1 1 1v2l-1 1-1-1zm4 0l1-1 1 1v2l-1 1-1-1zm-7 3l1-1 1 1v2l-1 1-1-1zm8 6l1-1 1 1v2l-1 1-1-1zm4 0l1-1 1 1v2l-1 1-1-1zm1 3l1-1 1 1v2l-1 1-1-1zm-3 3l1-1 1 1v2l-1 1-1-1zm4 0l1-1 1 1v2l-1 1-1-1zm-3 3l1-1 1 1v2l-1 1-1-1zm8 0l1-1 1 1v2l-1 1-1-1zm-5 3l1-1 1 1v2l-1 1-1-1zm7 3l1-1 1 1v2l-1 1-1-1zm4 6l1-1 1 1v2l-1 1-1-1zm-3 3l1-1 1 1v2l-1 1-1-1zm1 3l1-1 1 1v2l-1 1-1-1zm6 0l1-1 1 1v2l-1 1-1-1zm-5 3l1-1 1 1v2l-1 1-1-1zm4 0l1-1 1 1v2l-1 1-1-1zm4 6l1-1 1 1v2l-1 1-1-1zm2 6l1-1 1 1v2l-1 1-1-1zm5 3l1-1 1 1v2l-1 1-1-1zm9 21l1-1 1 1v2l-1 1-1-1zm2 6l1-1 1 1v2l-1 1-1-1zm4 6l1-1 1 1v2l-1 1-1-1zm26 42l1-1 1 1v2l-1 1-1-1z"/><path fill="#2d91cb" d="M21 35l1-1 1 1v2l-1 1-1-1zm-1 3l1-1 1 1v2l-1 1-1-1zm7 15l1-1 1 1v2l-1 1-1-1zm9 15l1-1 1 1v2l-1 1-1-1zm1 3l1-1 1 1v2l-1 1-1-1zm-1 3l1-1 1 1v2l-1 1-1-1zm4 0l1-1 1 1v2l-1 1-1-1zm-4 6l1-1 1 1v2l-1 1-1-1zm4 0l1-1 1 1v2l-1 1-1-1zm-3 3l1-1 1 1v2l-1 1-1-1zm10 6l1-1 1 1v2l-1 1-1-1zm-1 3l1-1 1 1v2l-1 1-1-1zm8 0l1-1 1 1v2l-1 1-1-1zm-9 3l1-1 1 1v2l-1 1-1-1zm2 0l1-1 1 1v2l-1 1-1-1zm-1 3l1-1 1 1v2l-1 1-1-1zm1 3l1-1 1 1v2l-1 1-1-1zm4 0l1-1 1 1v2l-1 1-1-1zm4 6l1-1 1 1v2l-1 1-1-1zm-1 3l1-1 1 1v2l-1 1-1-1zm-3 3l1-1 1 1v2l-1 1-1-1zm4 0l1-1 1 1v2l-1 1-1-1zm-3 3l1-1 1 1v2l-1 1-1-1zm2 0l1-1 1 1v2l-1 1-1-1zm3 3l1-1 1 1v2l-1 1-1-1zm2 0l1-1 1 1v2l-1 1-1-1zm2 6l1-1 1 1v2l-1 1-1-1zm12 0l1-1 1 1v2l-1 1-1-1zm-19 3l1-1 1 1v2l-1 1-1-1zm3 3l1-1 1 1v2l-1 1-1-1zm4 0l1-1 1 1v2l-1 1-1-1zm8 0l1-1 1 1v2l-1 1-1-1zm2 0l1-1 1 1v2l-1 1-1-1zm-11 3l1-1 1 1v2l-1 1-1-1zm6 0l1-1 1 1v2l-1 1-1-1zm12 0l1-1 1 1v2l-1 1-1-1zm-17 3l1-1 1 1v2l-1 1-1-1zm8 0l1-1 1 1v2l-1 1-1-1zm6 0l1-1 1 1v2l-1 1-1-1zm2 0l1-1 1 1v2l-1 1-1-1zm-5 3l1-1 1 1v2l-1 1-1-1zm-9 3l1-1 1 1v2l-1 1-1-1zm8 0l1-1 1 1v2l-1 1-1-1zm-6 6l1-1 1 1v2l-1 1-1-1zm2 0l1-1 1 1v2l-1 1-1-1zm8 0l1-1 1 1v2l-1 1-1-1zm-9 3l1-1 1 1v2l-1 1-1-1zm16 0l1-1 1 1v2l-1 1-1-1zm6 0l1-1 1 1v2l-1 1-1-1zm-19 3l1-1 1 1v2l-1 1-1-1zm12 0l1-1 1 1v2l-1 1-1-1zm-3 3l1-1 1 1v2l-1 1-1-1zm4 0l1-1 1 1v2l-1 1-1-1zm4 0l1-1 1 1v2l-1 1-1-1zm-9 3l1-1 1 1v2l-1 1-1-1zm6 0l1-1 1 1v2l-1 1-1-1zm3 3l1-1 1 1v2l-1 1-1-1zm10 0l1-1 1 1v2l-1 1-1-1zm-15 3l1-1 1 1v2l-1 1-1-1zm2 0l1-1 1 1v2l-1 1-1-1zm6 0l1-1 1 1v2l-1 1-1-1zm-11 3l1-1 1 1v2l-1 1-1-1zm6 0l1-1 1 1v2l-1 1-1-1zm8 0l1-1 1 1v2l-1 1-1-1zm-15 3l1-1 1 1v2l-1 1-1-1zm2 0l1-1 1 1v2l-1 1-1-1zm16 0l1-1 1 1v2l-1 1-1-1zm-3 3l1-1 1 1v2l-1 1-1-1zm2 0l1-1 1 1v2l-1 1-1-1zm-5 3l1-1 1 1v2l-1 1-1-1zm4 0l1-1 1 1v2l-1 1-1-1zm2 0l1-1 1 1v2l-1 1-1-1zm-25 3l1-1 1 1v2l-1 1-1-1zm24 0l1-1 1 1v2l-1 1-1-1zm-9 3l1-1 1 1v2l-1 1-1-1zm8 0l1-1 1 1v2l-1 1-1-1zm-11 3l1-1 1 1v2l-1 1-1-1zm-7 3l1-1 1 1v2l-1 1-1-1zm6 0l1-1 1 1v2l-1 1-1-1zm8 0l1-1 1 1v2l-1 1-1-1zm6 0l1-1 1 1v2l-1 1-1-1zm-3 3l1-1 1 1v2l-1 1-1-1zm2 0l1-1 1 1v2l-1 1-1-1zm-15 3l1-1 1 1v2l-1 1-1-1zm2 0l1-1 1 1v2l-1 1-1-1zm24 0l1-1 1 1v2l-1 1-1-1zm2 0l1-1 1 1v2l-1 1-1-1zm-13 3l1-1 1 1v2l-1 1-1-1zm10 0l1-1 1 1v2l-1 1-1-1zm6 0l1-1 1 1v2l-1 1-1-1zm-17 3l1-1 1 1v2l-1 1-1-1zm12 0l1-1 1 1v2l-1 1-1-1zm4 0l1-1 1 1v2l-1 1-1-1zm2 0l1-1 1 1v2l-1 1-1-1zm4 0l1-1 1 1v2l-1 1-1-1zm-11 3l1-1 1 1v2l-1 1-1-1zm10 0l1-1 1 1v2l-1 1-1-1zm2 0l1-1 1 1v2l-1 1-1-1zm-35 3l1-1 1 1v2l-1 1-1-1zm2 0l1-1 1 1v2l-1 1-1-1zm30 0l1-1 1 1v2l-1 1-1-1zm2 0l1-1 1 1v2l-1 1-1-1zm2 0l1-1 1 1v2l-1 1-1-1zm-7 3l1-1 1 1v2l-1 1-1-1zm4 0l1-1 1 1v2l-1 1-1-1zm-15 3l1-1 1 1v2l-1 1-1-1zm2 0l1-1 1 1v2l-1 1-1-1zm8 0l1-1 1 1v2l-1 1-1-1zm7 3l1-1 1 1v2l-1 1-1-1zm4 0l1-1 1 1v2l-1 1-1-1zm-3 3l1-1 1 1v2l-1 1-1-1zm12 0l1-1 1 1v2l-1 1-1-1zm-25 3l1-1 1 1v2l-1 1-1-1zm20 0l1-1 1 1v2l-1 1-1-1zm2 0l1-1 1 1v2l-1 1-1-1zm-38 6l1-1 1 1v2l-1 1-1-1zm18 0l1-1 1 1v2l-1 1-1-1zm10 0l1-1 1 1v2l-1 1-1-1zm2 0l1-1 1 1v2l-1 1-1-1zm10 0l1-1 1 1v2l-1 1-1-1zm-7 3l1-1 1 1v2l-1 1-1-1zm8 0l1-1 1 1v2l-1 1-1-1zm-3 3l1-1 1 1v2l-1 1-1-1zm-8 6l1-1 1 1v2l-1 1-1-1zm8 0l1-1 1 1v2l-1 1-1-1zm2 0l1-1 1 1v2l-1 1-1-1zm4 0l1-1 1 1v2l-1 1-1-1zm7 3l1-1 1 1v2l-1 1-1-1zm-19 3l1-1 1 1v2l-1 1-1-1zm6 0l1-1 1 1v2l-1 1-1-1zm6 0l1-1 1 1v2l-1 1-1-1zm2 0l1-1 1 1v2l-1 1-1-1zm-21 3l1-1 1 1v2l-1 1-1-1zm12 0l1-1 1 1v2l-1 1-1-1zm4 0l1-1 1 1v2l-1 1-1-1zm8 0l1-1 1 1v2l-1 1-1-1zm2 0l1-1 1 1v2l-1 1-1-1zm2 0l1-1 1 1v2l-1 1-1-1zm-14 6l1-1 1 1v2l-1 1-1-1zm6 0l1-1 1 1v2l-1 1-1-1zm12 0l1-1 1 1v2l-1 1-1-1zm-53 3l1-1 1 1v2l-1 1-1-1zm30 0l1-1 1 1v2l-1 1-1-1zm6 0l1-1 1 1v2l-1 1-1-1zm6 0l1-1 1 1v2l-1 1-1-1zm2 0l1-1 1 1v2l-1 1-1-1zm8 0l1-1 1 1v2l-1 1-1-1zm4 0l1-1 1 1v2l-1 1-1-1zm-47 3l1-1 1 1v2l-1 1-1-1zm4 0l1-1 1 1v2l-1 1-1-1zm10 0l1-1 1 1v2l-1 1-1-1zm16 0l1-1 1 1v2l-1 1-1-1zm-1 3l1-1 1 1v2l-1 1-1-1zm12 0l1-1 1 1v2l-1 1-1-1zm-3 3l1-1 1 1v2l-1 1-1-1zm4 0l1-1 1 1v2l-1 1-1-1zm4 0l1-1 1 1v2l-1 1-1-1zm-31 3l1-1 1 1v2l-1 1-1-1zm20 0l1-1 1 1v2l-1 1-1-1zm14 0l1-1 1 1v2l-1 1-1-1zm-27 3l1-1 1 1v2l-1 1-1-1zm10 0l1-1 1 1v2l-1 1-1-1zm6 0l1-1 1 1v2l-1 1-1-1zm4 0l1-1 1 1v2l-1 1-1-1zm8 0l1-1 1 1v2l-1 1-1-1zm2 0l1-1 1 1v2l-1 1-1-1zm-17 3l1-1 1 1v2l-1 1-1-1zm11 3l1-1 1 1v2l-1 1-1-1zm-2 6l1-1 1 1v2l-1 1-1-1zm14 0l1-1 1 1v2l-1 1-1-1zm2 0l1-1 1 1v2l-1 1-1-1zm2 0l1-1 1 1v2l-1 1-1-1zm-29 3l1-1 1 1v2l-1 1-1-1zm10 0l1-1 1 1v2l-1 1-1-1zm16 0l1-1 1 1v2l-1 1-1-1zm2 0l1-1 1 1v2l-1 1-1-1zm-25 3l1-1 1 1v2l-1 1-1-1zm24 0l1-1 1 1v2l-1 1-1-1zm2 0l1-1 1 1v2l-1 1-1-1zm2 0l1-1 1 1v2l-1 1-1-1zm-33 3l1-1 1 1v2l-1 1-1-1zm4 0l1-1 1 1v2l-1 1-1-1zm10 0l1-1 1 1v2l-1 1-1-1zm16 0l1-1 1 1v2l-1 1-1-1zm8 0l1-1 1 1v2l-1 1-1-1zm-13 3l1-1 1 1v2l-1 1-1-1zm4 0l1-1 1 1v2l-1 1-1-1zm6 0l1-1 1 1v2l-1 1-1-1zm4 0l1-1 1 1v2l-1 1-1-1zm-15 3l1-1 1 1v2l-1 1-1-1zm8 0l1-1 1 1v2l-1 1-1-1zm-17 3l1-1 1 1v2l-1 1-1-1zm4 0l1-1 1 1v2l-1 1-1-1zm2 0l1-1 1 1v2l-1 1-1-1zm2 0l1-1 1 1v2l-1 1-1-1zm8 0l1-1 1 1v2l-1 1-1-1zm3 3l1-1 1 1v2l-1 1-1-1zm6 0l1-1 1 1v2l-1 1-1-1zm2 0l1-1 1 1v2l-1 1-1-1zm-9 3l1-1 1 1v2l-1 1-1-1zm6 0l1-1 1 1v2l-1 1-1-1zm10 0l1-1 1 1v2l-1 1-1-1zm-43 3l1-1 1 1v2l-1 1-1-1zm5 3l1-1 1 1v2l-1 1-1-1zm12 0l1-1 1 1v2l-1 1-1-1zm-25 3l1-1 1 1v2l-1 1-1-1zm28 0l1-1 1 1v2l-1 1-1-1zm18 0l1-1 1 1v2l-1 1-1-1zm-21 3l1-1 1 1v2l-1 1-1-1zm16 0l1-1 1 1v2l-1 1-1-1zm2 0l1-1 1 1v2l-1 1-1-1zm6 0l1-1 1 1v2l-1 1-1-1zm-19 3l1-1 1 1v2l-1 1-1-1zm6 0l1-1 1 1v2l-1 1-1-1zm6 0l1-1 1 1v2l-1 1-1-1zm2 0l1-1 1 1v2l-1 1-1-1zm12 0l1-1 1 1v2l-1 1-1-1zm-15 3l1-1 1 1v2l-1 1-1-1zm4 0l1-1 1 1v2l-1 1-1-1zm14 0l1-1 1 1v2l-1 1-1-1zm-2 6l1-1 1 1v2l-1 1-1-1zm-21 3l1-1 1 1v2l-1 1-1-1zm20 0l1-1 1 1v2l-1 1-1-1zm-5 3l1-1 1 1v2l-1 1-1-1zm10 0l1-1 1 1v2l-1 1-1-1zm2 0l1-1 1 1v2l-1 1-1-1zm5 3l1-1 1 1v2l-1 1-1-1zm2 0l1-1 1 1v2l-1 1-1-1zm-37 3l1-1 1 1v2l-1 1-1-1zm30 0l1-1 1 1v2l-1 1-1-1zm2 0l1-1 1 1v2l-1 1-1-1zm2 0l1-1 1 1v2l-1 1-1-1zm2 0l1-1 1 1v2l-1 1-1-1zm-9 3l1-1 1 1v2l-1 1-1-1zm2 0l1-1 1 1v2l-1 1-1-1zm2 0l1-1 1 1v2l-1 1-1-1zm-1 3l1-1 1 1v2l-1 1-1-1zm10 0l1-1 1 1v2l-1 1-1-1zm-5 3l1-1 1 1v2l-1 1-1-1zm-3 3l1-1 1 1v2l-1 1-1-1zm10 6l1-1 1 1v2l-1 1-1-1zm4 6l1-1 1 1v2l-1 1-1-1zm4 6l1-1 1 1v2l-1 1-1-1zm7 3l1-1 1 1v2l-1 1-1-1zm6 12l1-1 1 1v2l-1 1-1-1zm8 12l1-1 1 1v2l-1 1-1-1zm6 12l1-1 1 1v2l-1 1-1-1zm1 3l1-1 1 1v2l-1 1-1-1zm12 18l1-1 1 1v2l-1 1-1-1zm12 24l1-1 1 1v2l-1 1-1-1z"/><path fill="#32a6ca" d="M15 29l1-1 1 1v2l-1 1-1-1zm20 36l1-1 1 1v2l-1 1-1-1zm3 9l1-1 1 1v2l-1 1-1-1zm5 9l1-1 1 1v2l-1 1-1-1zm2 6l1-1 1 1v2l-1 1-1-1zm-1 3l1-1 1 1v2l-1 1-1-1zm11 3l1-1 1 1v2l-1 1-1-1zm-7 3l1-1 1 1v2l-1 1-1-1zm7 3l1-1 1 1v2l-1 1-1-1zm-3 3l1-1 1 1v2l-1 1-1-1zm4 0l1-1 1 1v2l-1 1-1-1zm4 0l1-1 1 1v2l-1 1-1-1zm-8 6l1-1 1 1v2l-1 1-1-1zm12 0l1-1 1 1v2l-1 1-1-1zm-11 3l1-1 1 1v2l-1 1-1-1zm6 0l1-1 1 1v2l-1 1-1-1zm2 6l1-1 1 1v2l-1 1-1-1zm8 0l1-1 1 1v2l-1 1-1-1zm-9 3l1-1 1 1v2l-1 1-1-1zm2 0l1-1 1 1v2l-1 1-1-1zm1 3l1-1 1 1v2l-1 1-1-1zm2 0l1-1 1 1v2l-1 1-1-1zm-1 3l1-1 1 1v2l-1 1-1-1zm6 0l1-1 1 1v2l-1 1-1-1zm-11 3l1-1 1 1v2l-1 1-1-1zm4 0l1-1 1 1v2l-1 1-1-1zm2 6l1-1 1 1v2l-1 1-1-1zm0 6l1-1 1 1v2l-1 1-1-1zm8 6l1-1 1 1v2l-1 1-1-1zm8 0l1-1 1 1v2l-1 1-1-1zm-1 3l1-1 1 1v2l-1 1-1-1zm3 3l1-1 1 1v2l-1 1-1-1zm4 0l1-1 1 1v2l-1 1-1-1zm0 6l1-1 1 1v2l-1 1-1-1zm3 3l1-1 1 1v2l-1 1-1-1zm-4 6l1-1 1 1v2l-1 1-1-1zm-3 3l1-1 1 1v2l-1 1-1-1zm4 0l1-1 1 1v2l-1 1-1-1zm14 0l1-1 1 1v2l-1 1-1-1zm-15 3l1-1 1 1v2l-1 1-1-1zm4 0l1-1 1 1v2l-1 1-1-1zm6 0l1-1 1 1v2l-1 1-1-1zm4 0l1-1 1 1v2l-1 1-1-1zm-21 3l1-1 1 1v2l-1 1-1-1zm18 0l1-1 1 1v2l-1 1-1-1zm-9 3l1-1 1 1v2l-1 1-1-1zm2 0l1-1 1 1v2l-1 1-1-1zm8 0l1-1 1 1v2l-1 1-1-1zm-9 3l1-1 1 1v2l-1 1-1-1zm-3 3l1-1 1 1v2l-1 1-1-1zm15 3l1-1 1 1v2l-1 1-1-1zm6 0l1-1 1 1v2l-1 1-1-1zm-21 9l1-1 1 1v2l-1 1-1-1zm14 0l1-1 1 1v2l-1 1-1-1zm16 0l1-1 1 1v2l-1 1-1-1zm-9 3l1-1 1 1v2l-1 1-1-1zm-1 3l1-1 1 1v2l-1 1-1-1zm4 0l1-1 1 1v2l-1 1-1-1zm-7 3l1-1 1 1v2l-1 1-1-1zm8 6l1-1 1 1v2l-1 1-1-1zm-1 3l1-1 1 1v2l-1 1-1-1zm8 0l1-1 1 1v2l-1 1-1-1zm-3 3l1-1 1 1v2l-1 1-1-1zm-1 3l1-1 1 1v2l-1 1-1-1zm-3 3l1-1 1 1v2l-1 1-1-1zm10 0l1-1 1 1v2l-1 1-1-1zm-7 3l1-1 1 1v2l-1 1-1-1zm8 0l1-1 1 1v2l-1 1-1-1zm8 0l1-1 1 1v2l-1 1-1-1zm1 3l1-1 1 1v2l-1 1-1-1zm-9 3l1-1 1 1v2l-1 1-1-1zm2 0l1-1 1 1v2l-1 1-1-1zm4 0l1-1 1 1v2l-1 1-1-1zm6 0l1-1 1 1v2l-1 1-1-1zm1 3l1-1 1 1v2l-1 1-1-1zm-31 3l1-1 1 1v2l-1 1-1-1zm18 0l1-1 1 1v2l-1 1-1-1zm-7 3l1-1 1 1v2l-1 1-1-1zm28 0l1-1 1 1v2l-1 1-1-1zm-25 3l1-1 1 1v2l-1 1-1-1zm15 3l1-1 1 1v2l-1 1-1-1zm2 0l1-1 1 1v2l-1 1-1-1zm-19 3l1-1 1 1v2l-1 1-1-1zm14 0l1-1 1 1v2l-1 1-1-1zm8 0l1-1 1 1v2l-1 1-1-1zm2 0l1-1 1 1v2l-1 1-1-1zm-3 3l1-1 1 1v2l-1 1-1-1zm2 0l1-1 1 1v2l-1 1-1-1zm0 6l1-1 1 1v2l-1 1-1-1zm4 0l1-1 1 1v2l-1 1-1-1zm6 0l1-1 1 1v2l-1 1-1-1zm4 0l1-1 1 1v2l-1 1-1-1zm-31 3l1-1 1 1v2l-1 1-1-1zm20 6l1-1 1 1v2l-1 1-1-1zm6 0l1-1 1 1v2l-1 1-1-1zm7 3l1-1 1 1v2l-1 1-1-1zm-13 3l1-1 1 1v2l-1 1-1-1zm3 3l1-1 1 1v2l-1 1-1-1zm18 0l1-1 1 1v2l-1 1-1-1zm-7 3l1-1 1 1v2l-1 1-1-1zm2 0l1-1 1 1v2l-1 1-1-1zm2 0l1-1 1 1v2l-1 1-1-1zm-4 12l1-1 1 1v2l-1 1-1-1zm-2 6l1-1 1 1v2l-1 1-1-1zm3 3l1-1 1 1v2l-1 1-1-1zm20 0l1-1 1 1v2l-1 1-1-1zm-27 3l1-1 1 1v2l-1 1-1-1zm28 0l1-1 1 1v2l-1 1-1-1zm-3 3l1-1 1 1v2l-1 1-1-1zm2 0l1-1 1 1v2l-1 1-1-1zm-7 3l1-1 1 1v2l-1 1-1-1zm4 0l1-1 1 1v2l-1 1-1-1zm2 0l1-1 1 1v2l-1 1-1-1zm2 0l1-1 1 1v2l-1 1-1-1zm-3 9l1-1 1 1v2l-1 1-1-1zm6 0l1-1 1 1v2l-1 1-1-1zm4 0l1-1 1 1v2l-1 1-1-1zm-5 3l1-1 1 1v2l-1 1-1-1zm7 3l1-1 1 1v2l-1 1-1-1zm-17 3l1-1 1 1v2l-1 1-1-1zm16 0l1-1 1 1v2l-1 1-1-1zm2 0l1-1 1 1v2l-1 1-1-1zm3 3l1-1 1 1v2l-1 1-1-1zm2 0l1-1 1 1v2l-1 1-1-1zm-3 3l1-1 1 1v2l-1 1-1-1zm4 0l1-1 1 1v2l-1 1-1-1zm-2 6l1-1 1 1v2l-1 1-1-1zm2 0l1-1 1 1v2l-1 1-1-1zm-3 3l1-1 1 1v2l-1 1-1-1zm9 3l1-1 1 1v2l-1 1-1-1zm1 3l1-1 1 1v2l-1 1-1-1zm1 3l1-1 1 1v2l-1 1-1-1zm3 3l1-1 1 1v2l-1 1-1-1zm-2 6l1-1 1 1v2l-1 1-1-1zm6 0l1-1 1 1v2l-1 1-1-1zm10 12l1-1 1 1v2l-1 1-1-1zm5 15l1-1 1 1v2l-1 1-1-1zm3 3l1-1 1 1v2l-1 1-1-1z"/><path fill="#4ab2ba" d="M9 17l1-1 1 1v2l-1 1-1-1zm13 21l1-1 1 1v2l-1 1-1-1zm10 24l1-1 1 1v2l-1 1-1-1zm8 6l1-1 1 1v2l-1 1-1-1zm-1 9l1-1 1 1v2l-1 1-1-1zm6 0l1-1 1 1v2l-1 1-1-1zm-4 6l1-1 1 1v2l-1 1-1-1zm4 0l1-1 1 1v2l-1 1-1-1zm5 3l1-1 1 1v2l-1 1-1-1zm1 9l1-1 1 1v2l-1 1-1-1zm3 3l1-1 1 1v2l-1 1-1-1zm-5 3l1-1 1 1v2l-1 1-1-1zm10 0l1-1 1 1v2l-1 1-1-1zm-3 9l1-1 1 1v2l-1 1-1-1zm6 6l1-1 1 1v2l-1 1-1-1zm-7 3l1-1 1 1v2l-1 1-1-1zm9 3l1-1 1 1v2l-1 1-1-1zm2 0l1-1 1 1v2l-1 1-1-1zm-7 3l1-1 1 1v2l-1 1-1-1zm7 3l1-1 1 1v2l-1 1-1-1zm2 0l1-1 1 1v2l-1 1-1-1zm6 0l1-1 1 1v2l-1 1-1-1zm-4 6l1-1 1 1v2l-1 1-1-1zm4 0l1-1 1 1v2l-1 1-1-1zm8 12l1-1 1 1v2l-1 1-1-1zm1 3l1-1 1 1v2l-1 1-1-1zm-8 6l1-1 1 1v2l-1 1-1-1zm12 12l1-1 1 1v2l-1 1-1-1zm10 0l1-1 1 1v2l-1 1-1-1zm-3 3l1-1 1 1v2l-1 1-1-1zm3 3l1-1 1 1v2l-1 1-1-1zm-6 6l1-1 1 1v2l-1 1-1-1zm5 3l1-1 1 1v2l-1 1-1-1zm4 0l1-1 1 1v2l-1 1-1-1zm6 0l1-1 1 1v2l-1 1-1-1zm-9 3l1-1 1 1v2l-1 1-1-1zm2 0l1-1 1 1v2l-1 1-1-1zm4 0l1-1 1 1v2l-1 1-1-1zm-7 3l1-1 1 1v2l-1 1-1-1zm8 0l1-1 1 1v2l-1 1-1-1zm-7 3l1-1 1 1v2l-1 1-1-1zm5 3l1-1 1 1v2l-1 1-1-1zm7 3l1-1 1 1v2l-1 1-1-1zm-14 6l1-1 1 1v2l-1 1-1-1zm13 3l1-1 1 1v2l-1 1-1-1zm4 0l1-1 1 1v2l-1 1-1-1zm8 0l1-1 1 1v2l-1 1-1-1zm-2 6l1-1 1 1v2l-1 1-1-1zm-13 3l1-1 1 1v2l-1 1-1-1zm12 0l1-1 1 1v2l-1 1-1-1zm-5 3l1-1 1 1v2l-1 1-1-1zm11 3l1-1 1 1v2l-1 1-1-1zm-3 3l1-1 1 1v2l-1 1-1-1zm10 0l1-1 1 1v2l-1 1-1-1zm-6 6l1-1 1 1v2l-1 1-1-1zm3 9l1-1 1 1v2l-1 1-1-1zm6 0l1-1 1 1v2l-1 1-1-1zm-3 3l1-1 1 1v2l-1 1-1-1zm3 3l1-1 1 1v2l-1 1-1-1zm15 9l1-1 1 1v2l-1 1-1-1zm-13 3l1-1 1 1v2l-1 1-1-1zm14 0l1-1 1 1v2l-1 1-1-1zm-3 3l1-1 1 1v2l-1 1-1-1zm-1 3l1-1 1 1v2l-1 1-1-1zm2 0l1-1 1 1v2l-1 1-1-1zm1 3l1-1 1 1v2l-1 1-1-1zm1 3l1-1 1 1v2l-1 1-1-1zm4 0l1-1 1 1v2l-1 1-1-1zm-7 3l1-1 1 1v2l-1 1-1-1zm8 0l1-1 1 1v2l-1 1-1-1zm-4 6l1-1 1 1v2l-1 1-1-1zm8 0l1-1 1 1v2l-1 1-1-1zm-9 3l1-1 1 1v2l-1 1-1-1zm10 0l1-1 1 1v2l-1 1-1-1zm3 3l1-1 1 1v2l-1 1-1-1zm-5 3l1-1 1 1v2l-1 1-1-1zm11 3l1-1 1 1v2l-1 1-1-1zm-13 9l1-1 1 1v2l-1 1-1-1zm4 6l1-1 1 1v2l-1 1-1-1zm16 0l1-1 1 1v2l-1 1-1-1zm-11 3l1-1 1 1v2l-1 1-1-1zm15 3l1-1 1 1v2l-1 1-1-1zm2 6l1-1 1 1v2l-1 1-1-1zm-1 3l1-1 1 1v2l-1 1-1-1zm4 6l1-1 1 1v2l-1 1-1-1zm4 0l1-1 1 1v2l-1 1-1-1zm-7 3l1-1 1 1v2l-1 1-1-1zm9 3l1-1 1 1v2l-1 1-1-1zm-5 9l1-1 1 1v2l-1 1-1-1zm12 0l1-1 1 1v2l-1 1-1-1zm-7 3l1-1 1 1v2l-1 1-1-1zm11 3l1-1 1 1v2l-1 1-1-1zm-2 6l1-1 1 1v2l-1 1-1-1zm5 3l1-1 1 1v2l-1 1-1-1zm3 3l1-1 1 1v2l-1 1-1-1zm9 21l1-1 1 1v2l-1 1-1-1z"/><path fill="#65b7aa" d="M13 23l1-1 1 1v2l-1 1-1-1zm1 3l1-1 1 1v2l-1 1-1-1zm22 36l1-1 1 1v2l-1 1-1-1zm1 15l1-1 1 1v2l-1 1-1-1zm15 21l1-1 1 1v2l-1 1-1-1zm2 6l1-1 1 1v2l-1 1-1-1zm2 12l1-1 1 1v2l-1 1-1-1zm7 3l1-1 1 1v2l-1 1-1-1zm2 0l1-1 1 1v2l-1 1-1-1zm7 15l1-1 1 1v2l-1 1-1-1zm6 6l1-1 1 1v2l-1 1-1-1zm1 3l1-1 1 1v2l-1 1-1-1zm0 6l1-1 1 1v2l-1 1-1-1zm11 9l1-1 1 1v2l-1 1-1-1zm2 6l1-1 1 1v2l-1 1-1-1zm1 3l1-1 1 1v2l-1 1-1-1zm0 6l1-1 1 1v2l-1 1-1-1zm14 12l1-1 1 1v2l-1 1-1-1zm4 6l1-1 1 1v2l-1 1-1-1zm-5 3l1-1 1 1v2l-1 1-1-1zm2 0l1-1 1 1v2l-1 1-1-1zm2 0l1-1 1 1v2l-1 1-1-1zm9 21l1-1 1 1v2l-1 1-1-1zm-5 3l1-1 1 1v2l-1 1-1-1zm16 18l1-1 1 1v2l-1 1-1-1zm2 0l1-1 1 1v2l-1 1-1-1zm-15 3l1-1 1 1v2l-1 1-1-1zm14 6l1-1 1 1v2l-1 1-1-1zm4 0l1-1 1 1v2l-1 1-1-1zm2 0l1-1 1 1v2l-1 1-1-1zm5 3l1-1 1 1v2l-1 1-1-1zm1 9l1-1 1 1v2l-1 1-1-1zm4 0l1-1 1 1v2l-1 1-1-1zm4 6l1-1 1 1v2l-1 1-1-1zm-1 3l1-1 1 1v2l-1 1-1-1zm4 0l1-1 1 1v2l-1 1-1-1zm-9 3l1-1 1 1v2l-1 1-1-1zm7 3l1-1 1 1v2l-1 1-1-1zm6 0l1-1 1 1v2l-1 1-1-1zm-4 6l1-1 1 1v2l-1 1-1-1zm3 3l1-1 1 1v2l-1 1-1-1zm4 0l1-1 1 1v2l-1 1-1-1zm3 9l1-1 1 1v2l-1 1-1-1zm5 3l1-1 1 1v2l-1 1-1-1zm-4 6l1-1 1 1v2l-1 1-1-1zm11 9l1-1 1 1v2l-1 1-1-1zm-7 3l1-1 1 1v2l-1 1-1-1zm11 3l1-1 1 1v2l-1 1-1-1zm2 0l1-1 1 1v2l-1 1-1-1zm-9 3l1-1 1 1v2l-1 1-1-1zm11 21l1-1 1 1v2l-1 1-1-1zm18 12l1-1 1 1v2l-1 1-1-1z"/><path fill="#6dbaa6" d="M27 47l1-1 1 1v2l-1 1-1-1zm2 6l1-1 1 1v2l-1 1-1-1zm13 21l1-1 1 1v2l-1 1-1-1zm0 6l1-1 1 1v2l-1 1-1-1zm4 0l1-1 1 1v2l-1 1-1-1zm3 9l1-1 1 1v2l-1 1-1-1zm15 27l1-1 1 1v2l-1 1-1-1zm8 12l1-1 1 1v2l-1 1-1-1zm1 3l1-1 1 1v2l-1 1-1-1zm0 6l1-1 1 1v2l-1 1-1-1zm7 3l1-1 1 1v2l-1 1-1-1zm-5 3l1-1 1 1v2l-1 1-1-1zm-1 3l1-1 1 1v2l-1 1-1-1zm6 0l1-1 1 1v2l-1 1-1-1zm-3 9l1-1 1 1v2l-1 1-1-1zm15 3l1-1 1 1v2l-1 1-1-1zm-1 3l1-1 1 1v2l-1 1-1-1zm-9 3l1-1 1 1v2l-1 1-1-1zm14 6l1-1 1 1v2l-1 1-1-1zm6 6l1-1 1 1v2l-1 1-1-1zm-1 9l1-1 1 1v2l-1 1-1-1zm4 0l1-1 1 1v2l-1 1-1-1zm20 30l1-1 1 1v2l-1 1-1-1zm0 6l1-1 1 1v2l-1 1-1-1zm3 3l1-1 1 1v2l-1 1-1-1zm-3 3l1-1 1 1v2l-1 1-1-1zm9 15l1-1 1 1v2l-1 1-1-1zm4 0l1-1 1 1v2l-1 1-1-1zm2 6l1-1 1 1v2l-1 1-1-1zm16 24l1-1 1 1v2l-1 1-1-1zm3 3l1-1 1 1v2l-1 1-1-1zm1 3l1-1 1 1v2l-1 1-1-1zm4 18l1-1 1 1v2l-1 1-1-1zm4 0l1-1 1 1v2l-1 1-1-1zm15 27l1-1 1 1v2l-1 1-1-1zm4 0l1-1 1 1v2l-1 1-1-1zm5 9l1-1 1 1v2l-1 1-1-1zm3 9l1-1 1 1v2l-1 1-1-1zm26 42l1-1 1 1v2l-1 1-1-1zm10 18l1-1 1 1v2l-1 1-1-1z"/><path fill="#73bda3" d="M25 47l1-1 1 1v2l-1 1-1-1zm1 3l1-1 1 1v2l-1 1-1-1zm2 0l1-1 1 1v2l-1 1-1-1zm4 6l1-1 1 1v2l-1 1-1-1zm29 57l1-1 1 1v2l-1 1-1-1zm8 12l1-1 1 1v2l-1 1-1-1zm9 21l1-1 1 1v2l-1 1-1-1zm8 6l1-1 1 1v2l-1 1-1-1zm17 27l1-1 1 1v2l-1 1-1-1zm9 15l1-1 1 1v2l-1 1-1-1zm1 3l1-1 1 1v2l-1 1-1-1zm-1 3l1-1 1 1v2l-1 1-1-1zm2 0l1-1 1 1v2l-1 1-1-1zm-1 3l1-1 1 1v2l-1 1-1-1zm11 15l1-1 1 1v2l-1 1-1-1zm2 0l1-1 1 1v2l-1 1-1-1zm-7 3l1-1 1 1v2l-1 1-1-1zm16 12l1-1 1 1v2l-1 1-1-1zm-4 6l1-1 1 1v2l-1 1-1-1zm8 0l1-1 1 1v2l-1 1-1-1zm-3 9l1-1 1 1v2l-1 1-1-1zm8 0l1-1 1 1v2l-1 1-1-1zm6 12l1-1 1 1v2l-1 1-1-1zm2 6l1-1 1 1v2l-1 1-1-1zm14 24l1-1 1 1v2l-1 1-1-1zm7 9l1-1 1 1v2l-1 1-1-1zm11 21l1-1 1 1v2l-1 1-1-1z"/><path fill="#7abfa1" d="M31 59l1-1 1 1v2l-1 1-1-1zm2 0l1-1 1 1v2l-1 1-1-1zm1 3l1-1 1 1v2l-1 1-1-1zm4 6l1-1 1 1v2l-1 1-1-1zm13 21l1-1 1 1v2l-1 1-1-1zm-3 3l1-1 1 1v2l-1 1-1-1zm8 6l1-1 1 1v2l-1 1-1-1zm7 15l1-1 1 1v2l-1 1-1-1zm7 9l1-1 1 1v2l-1 1-1-1zm-3 3l1-1 1 1v2l-1 1-1-1zm14 18l1-1 1 1v2l-1 1-1-1zm2 0l1-1 1 1v2l-1 1-1-1zm11 21l1-1 1 1v2l-1 1-1-1zm4 6l1-1 1 1v2l-1 1-1-1zm1 9l1-1 1 1v2l-1 1-1-1zm20 30l1-1 1 1v2l-1 1-1-1zm3 3l1-1 1 1v2l-1 1-1-1zm15 27l1-1 1 1v2l-1 1-1-1zm3 3l1-1 1 1v2l-1 1-1-1zm3 9l1-1 1 1v2l-1 1-1-1zm12 18l1-1 1 1v2l-1 1-1-1zm17 33l1-1 1 1v2l-1 1-1-1zm2 0l1-1 1 1v2l-1 1-1-1z"/><path fill="#7ec29e" d="M18 32l1-1 1 1v2l-1 1-1-1zm5 9l1-1 1 1v2l-1 1-1-1zm7 15l1-1 1 1v2l-1 1-1-1zm9 15l1-1 1 1v2l-1 1-1-1zm2 0l1-1 1 1v2l-1 1-1-1zm6 12l1-1 1 1v2l-1 1-1-1zm6 12l1-1 1 1v2l-1 1-1-1zm8 12l1-1 1 1v2l-1 1-1-1zm4 6l1-1 1 1v2l-1 1-1-1zm3 9l1-1 1 1v2l-1 1-1-1zm9 27l1-1 1 1v2l-1 1-1-1zm16 12l1-1 1 1v2l-1 1-1-1zm13 27l1-1 1 1v2l-1 1-1-1zm11 15l1-1 1 1v2l-1 1-1-1zm6 12l1-1 1 1v2l-1 1-1-1zm6 12l1-1 1 1v2l-1 1-1-1zm3 3l1-1 1 1v2l-1 1-1-1zm13 21l1-1 1 1v2l-1 1-1-1zm12 24l1-1 1 1v2l-1 1-1-1zm-1 3l1-1 1 1v2l-1 1-1-1zm8 6l1-1 1 1v2l-1 1-1-1zm1 3l1-1 1 1v2l-1 1-1-1zm18 30l1-1 1 1v2l-1 1-1-1z"/><path fill="#82c49c" d="M24 44l1-1 1 1v2l-1 1-1-1zm13 21l1-1 1 1v2l-1 1-1-1zm6 12l1-1 1 1v2l-1 1-1-1zm1 3l1-1 1 1v2l-1 1-1-1zm13 27l1-1 1 1v2l-1 1-1-1zm27 39l1-1 1 1v2l-1 1-1-1zm24 42l1-1 1 1v2l-1 1-1-1zm1 3l1-1 1 1v2l-1 1-1-1zm9 15l1-1 1 1v2l-1 1-1-1zm3 3l1-1 1 1v2l-1 1-1-1zm6 12l1-1 1 1v2l-1 1-1-1zm17 33l1-1 1 1v2l-1 1-1-1z"/><path fill="#86c69a" d="M48 86l1-1 1 1v2l-1 1-1-1zm2 6l1-1 1 1v2l-1 1-1-1zm2 0l1-1 1 1v2l-1 1-1-1zm6 12l1-1 1 1v2l-1 1-1-1zm1 3l1-1 1 1v2l-1 1-1-1zm3 3l1-1 1 1v2l-1 1-1-1zm23 39l1-1 1 1v2l-1 1-1-1zm4 6l1-1 1 1v2l-1 1-1-1zm6 12l1-1 1 1v2l-1 1-1-1zm9 15l1-1 1 1v2l-1 1-1-1zm29 51l1-1 1 1v2l-1 1-1-1zm8 12l1-1 1 1v2l-1 1-1-1z"/><path fill="#8dca96" d="M19 35l1-1 1 1v2l-1 1-1-1zm47 81l1-1 1 1v2l-1 1-1-1zm5 9l1-1 1 1v2l-1 1-1-1zm60 102l1-1 1 1v2l-1 1-1-1zm15 27l1-1 1 1v2l-1 1-1-1z"/><path fill="#9bce92" d="M67 119l1-1 1 1v2l-1 1-1-1zm9 15l1-1 1 1v2l-1 1-1-1zm60 102l1-1 1 1v2l-1 1-1-1z"/><path fill="#a8cd8d" d="M75 131l1-1 1 1v2l-1 1-1-1zm4 6l1-1 1 1v2l-1 1-1-1zm20 36l1-1 1 1v2l-1 1-1-1z"/><path fill="#b5c989" d="M57 101l1-1 1 1v2l-1 1-1-1z"/></g></g><linearGradient id="sg3598" gradientUnits="userSpaceOnUse" x1="353.60" y1="270.30" x2="561.00" y2="62.40"><stop offset="0.0033" stop-color="#80c39d" stop-opacity="1.00"/><stop offset="0.0100" stop-color="#88c898" stop-opacity="1.00"/><stop offset="0.0167" stop-color="#94cc94" stop-opacity="1.00"/><stop offset="0.0233" stop-color="#b3ca8a" stop-opacity="1.00"/><stop offset="0.0300" stop-color="#aecb8b" stop-opacity="1.00"/><stop offset="0.0367" stop-color="#aacd8d" stop-opacity="1.00"/><stop offset="0.0433" stop-color="#d4b373" stop-opacity="1.00"/><stop offset="0.0500" stop-color="#d8b070" stop-opacity="1.00"/><stop offset="0.0567" stop-color="#aecb8b" stop-opacity="1.00"/><stop offset="0.0633" stop-color="#ef9b5e" stop-opacity="1.00"/><stop offset="0.0700" stop-color="#e5a767" stop-opacity="1.00"/><stop offset="0.0767" stop-color="#cfb676" stop-opacity="1.00"/><stop offset="0.0833" stop-color="#eba363" stop-opacity="1.00"/><stop offset="0.0900" stop-color="#eea161" stop-opacity="1.00"/><stop offset="0.0967" stop-color="#e7754e" stop-opacity="1.00"/><stop offset="0.1033" stop-color="#e56c4a" stop-opacity="1.00"/><stop offset="0.1100" stop-color="#de4b3c" stop-opacity="1.00"/><stop offset="0.1167" stop-color="#e15942" stop-opacity="1.00"/><stop offset="0.1233" stop-color="#d83332" stop-opacity="1.00"/><stop offset="0.1300" stop-color="#d83131" stop-opacity="1.00"/><stop offset="0.1367" stop-color="#d73131" stop-opacity="1.00"/><stop offset="0.1433" stop-color="#d93834" stop-opacity="1.00"/><stop offset="0.1500" stop-color="#d83131" stop-opacity="1.00"/><stop offset="0.1567" stop-color="#d83232" stop-opacity="1.00"/><stop offset="0.1633" stop-color="#d83131" stop-opacity="1.00"/><stop offset="0.1700" stop-color="#d93633" stop-opacity="1.00"/><stop offset="0.1767" stop-color="#d83131" stop-opacity="1.00"/><stop offset="0.1833" stop-color="#d83332" stop-opacity="1.00"/><stop offset="0.1900" stop-color="#da3c36" stop-opacity="1.00"/><stop offset="0.1967" stop-color="#d83332" stop-opacity="1.00"/><stop offset="0.2033" stop-color="#dc4339" stop-opacity="1.00"/><stop offset="0.2100" stop-color="#d83131" stop-opacity="1.00"/><stop offset="0.2167" stop-color="#d83232" stop-opacity="1.00"/><stop offset="0.2233" stop-color="#d93533" stop-opacity="1.00"/><stop offset="0.2300" stop-color="#d73131" stop-opacity="1.00"/><stop offset="0.2367" stop-color="#d93634" stop-opacity="1.00"/><stop offset="0.2433" stop-color="#d83433" stop-opacity="1.00"/><stop offset="0.2500" stop-color="#d73030" stop-opacity="1.00"/><stop offset="0.2567" stop-color="#d83131" stop-opacity="1.00"/><stop offset="0.2633" stop-color="#d83332" stop-opacity="1.00"/><stop offset="0.2700" stop-color="#d83332" stop-opacity="1.00"/><stop offset="0.2767" stop-color="#d83332" stop-opacity="1.00"/><stop offset="0.2833" stop-color="#d83433" stop-opacity="1.00"/><stop offset="0.2900" stop-color="#db4138" stop-opacity="1.00"/><stop offset="0.2967" stop-color="#d93834" stop-opacity="1.00"/><stop offset="0.3033" stop-color="#d93533" stop-opacity="1.00"/><stop offset="0.3100" stop-color="#d83131" stop-opacity="1.00"/><stop offset="0.3167" stop-color="#d73131" stop-opacity="1.00"/><stop offset="0.3233" stop-color="#db3e37" stop-opacity="1.00"/><stop offset="0.3300" stop-color="#db3e37" stop-opacity="1.00"/><stop offset="0.3367" stop-color="#db3e37" stop-opacity="1.00"/><stop offset="0.3433" stop-color="#d93634" stop-opacity="1.00"/><stop offset="0.3500" stop-color="#dc4439" stop-opacity="1.00"/><stop offset="0.3567" stop-color="#da3935" stop-opacity="1.00"/><stop offset="0.3633" stop-color="#da3935" stop-opacity="1.00"/><stop offset="0.3700" stop-color="#d93734" stop-opacity="1.00"/><stop offset="0.3767" stop-color="#db3f37" stop-opacity="1.00"/><stop offset="0.3833" stop-color="#d72f2f" stop-opacity="1.00"/><stop offset="0.3900" stop-color="#d93533" stop-opacity="1.00"/><stop offset="0.3967" stop-color="#dc4339" stop-opacity="1.00"/><stop offset="0.4033" stop-color="#d83232" stop-opacity="1.00"/><stop offset="0.4100" stop-color="#d93734" stop-opacity="1.00"/><stop offset="0.4167" stop-color="#d83232" stop-opacity="1.00"/><stop offset="0.4233" stop-color="#d93634" stop-opacity="1.00"/><stop offset="0.4300" stop-color="#d93633" stop-opacity="1.00"/><stop offset="0.4367" stop-color="#da3935" stop-opacity="1.00"/><stop offset="0.4433" stop-color="#db3e37" stop-opacity="1.00"/><stop offset="0.4500" stop-color="#e05640" stop-opacity="1.00"/><stop offset="0.4567" stop-color="#df4f3d" stop-opacity="1.00"/><stop offset="0.4633" stop-color="#e36246" stop-opacity="1.00"/><stop offset="0.4700" stop-color="#e46547" stop-opacity="1.00"/><stop offset="0.4767" stop-color="#ec8f59" stop-opacity="1.00"/><stop offset="0.4833" stop-color="#e6724c" stop-opacity="1.00"/><stop offset="0.4900" stop-color="#f09f60" stop-opacity="1.00"/><stop offset="0.4967" stop-color="#aecb8b" stop-opacity="1.00"/><stop offset="0.5033" stop-color="#c6bd7d" stop-opacity="1.00"/><stop offset="0.5100" stop-color="#b7c888" stop-opacity="1.00"/><stop offset="0.5167" stop-color="#aecb8b" stop-opacity="1.00"/><stop offset="0.5233" stop-color="#84c59b" stop-opacity="1.00"/><stop offset="0.5300" stop-color="#88c898" stop-opacity="1.00"/><stop offset="0.5367" stop-color="#aacd8d" stop-opacity="1.00"/><stop offset="0.5433" stop-color="#4ab2ba" stop-opacity="1.00"/><stop offset="0.5500" stop-color="#69b8a8" stop-opacity="1.00"/><stop offset="0.5567" stop-color="#7dc19f" stop-opacity="1.00"/><stop offset="0.5633" stop-color="#69b8a8" stop-opacity="1.00"/><stop offset="0.5700" stop-color="#5bb5b0" stop-opacity="1.00"/><stop offset="0.5767" stop-color="#69b8a8" stop-opacity="1.00"/><stop offset="0.5833" stop-color="#5bb5b0" stop-opacity="1.00"/><stop offset="0.5900" stop-color="#80c39d" stop-opacity="1.00"/><stop offset="0.5967" stop-color="#37aac6" stop-opacity="1.00"/><stop offset="0.6033" stop-color="#4058a0" stop-opacity="1.00"/><stop offset="0.6100" stop-color="#2a99ce" stop-opacity="1.00"/><stop offset="0.6167" stop-color="#37aac6" stop-opacity="1.00"/><stop offset="0.6233" stop-color="#2a99ce" stop-opacity="1.00"/><stop offset="0.6300" stop-color="#4058a0" stop-opacity="1.00"/><stop offset="0.6367" stop-color="#2a99ce" stop-opacity="1.00"/><stop offset="0.6433" stop-color="#4058a0" stop-opacity="1.00"/><stop offset="0.6500" stop-color="#4ab2ba" stop-opacity="1.00"/><stop offset="0.6567" stop-color="#37aac6" stop-opacity="1.00"/><stop offset="0.6633" stop-color="#4058a0" stop-opacity="1.00"/><stop offset="0.6700" stop-color="#5848a0" stop-opacity="0.80"/><stop offset="0.6767" stop-color="#347cbc" stop-opacity="1.00"/><stop offset="0.6833" stop-color="#5848a0" stop-opacity="0.80"/><stop offset="0.6900" stop-color="#4058a0" stop-opacity="1.00"/><stop offset="0.6967" stop-color="#5848a0" stop-opacity="0.80"/><stop offset="0.7033" stop-color="#5848a0" stop-opacity="0.80"/><stop offset="0.7100" stop-color="#5848a0" stop-opacity="0.00"/><stop offset="0.7167" stop-color="#5848a0" stop-opacity="0.80"/><stop offset="0.7233" stop-color="#5848a0" stop-opacity="0.80"/><stop offset="0.7300" stop-color="#347cbc" stop-opacity="1.00"/><stop offset="0.7367" stop-color="#347cbc" stop-opacity="1.00"/><stop offset="0.7433" stop-color="#4058a0" stop-opacity="1.00"/><stop offset="0.7500" stop-color="#4058a0" stop-opacity="1.00"/><stop offset="0.7567" stop-color="#5848a0" stop-opacity="0.00"/><stop offset="0.7633" stop-color="#5848a0" stop-opacity="0.00"/><stop offset="0.7700" stop-color="#5848a0" stop-opacity="0.80"/><stop offset="0.7767" stop-color="#5848a0" stop-opacity="0.80"/><stop offset="0.7833" stop-color="#4058a0" stop-opacity="1.00"/><stop offset="0.7900" stop-color="#5848a0" stop-opacity="0.80"/><stop offset="0.7967" stop-color="#5848a0" stop-opacity="0.80"/><stop offset="0.8033" stop-color="#5848a0" stop-opacity="0.00"/><stop offset="0.8100" stop-color="#5848a0" stop-opacity="0.80"/><stop offset="0.8167" stop-color="#5848a0" stop-opacity="0.80"/><stop offset="0.8233" stop-color="#5848a0" stop-opacity="0.00"/><stop offset="0.8300" stop-color="#5848a0" stop-opacity="0.80"/><stop offset="0.8367" stop-color="#5848a0" stop-opacity="0.00"/><stop offset="0.8433" stop-color="#5848a0" stop-opacity="0.00"/><stop offset="0.8500" stop-color="#4058a0" stop-opacity="1.00"/><stop offset="0.8567" stop-color="#4058a0" stop-opacity="1.00"/><stop offset="0.8633" stop-color="#5848a0" stop-opacity="0.80"/><stop offset="0.8700" stop-color="#5848a0" stop-opacity="0.80"/><stop offset="0.8767" stop-color="#5848a0" stop-opacity="0.00"/><stop offset="0.8833" stop-color="#4058a0" stop-opacity="1.00"/><stop offset="0.8900" stop-color="#5848a0" stop-opacity="0.80"/><stop offset="0.8967" stop-color="#5848a0" stop-opacity="0.80"/><stop offset="0.9033" stop-color="#5848a0" stop-opacity="0.00"/><stop offset="0.9100" stop-color="#4058a0" stop-opacity="1.00"/><stop offset="0.9167" stop-color="#5848a0" stop-opacity="0.80"/><stop offset="0.9233" stop-color="#347cbc" stop-opacity="1.00"/><stop offset="0.9300" stop-color="#5848a0" stop-opacity="0.00"/><stop offset="0.9367" stop-color="#5848a0" stop-opacity="0.80"/><stop offset="0.9433" stop-color="#5848a0" stop-opacity="0.00"/><stop offset="0.9500" stop-color="#5848a0" stop-opacity="0.00"/><stop offset="0.9567" stop-color="#5848a0" stop-opacity="0.00"/><stop offset="0.9633" stop-color="#5848a0" stop-opacity="0.00"/><stop offset="0.9700" stop-color="#5848a0" stop-opacity="0.00"/><stop offset="0.9767" stop-color="#5848a0" stop-opacity="0.00"/><stop offset="0.9833" stop-color="#5848a0" stop-opacity="0.80"/><stop offset="0.9900" stop-color="#5848a0" stop-opacity="0.00"/><stop offset="0.9967" stop-color="#5848a0" stop-opacity="0.00"/></linearGradient><path d="M353.42,270.12L560.82,62.22" stroke="url(#sg3598)" stroke-width="1.7" fill="none"/>
<path d="M353.60,270.30L561.00,62.40" stroke="#1a1a1a" stroke-width="0.9" stroke-opacity="0.8" fill="none"/>
<path d="M388.17,270.30v-2.5M388.17,62.40v2.5M353.60,235.65h2.5M561.00,235.65h-2.5M422.73,270.30v-2.5M422.73,62.40v2.5M353.60,201.00h2.5M561.00,201.00h-2.5M457.30,270.30v-2.5M457.30,62.40v2.5M353.60,166.35h2.5M561.00,166.35h-2.5M491.87,270.30v-2.5M491.87,62.40v2.5M353.60,131.70h2.5M561.00,131.70h-2.5M526.43,270.30v-2.5M526.43,62.40v2.5M353.60,97.05h2.5M561.00,97.05h-2.5" stroke="#777" stroke-width="0.8" fill="none"/>
<rect x="353.60" y="62.40" width="207.40" height="207.90" fill="none" stroke="#8a8a8a" stroke-width="1.6"/>
<g font-family="'Liberation Sans', sans-serif" font-size="7.8" fill="#1a1a1a"><text x="351.00" y="273.00" text-anchor="end">0</text><text x="353.60" y="278.90" text-anchor="middle">0</text><text x="351.00" y="238.35" text-anchor="end">50</text><text x="388.17" y="278.90" text-anchor="middle">50</text><text x="351.00" y="203.70" text-anchor="end">100</text><text x="422.73" y="278.90" text-anchor="middle">100</text><text x="351.00" y="169.05" text-anchor="end">150</text><text x="457.30" y="278.90" text-anchor="middle">150</text><text x="351.00" y="134.40" text-anchor="end">200</text><text x="491.87" y="278.90" text-anchor="middle">200</text><text x="351.00" y="99.75" text-anchor="end">250</text><text x="526.43" y="278.90" text-anchor="middle">250</text><text x="351.00" y="65.10" text-anchor="end">300</text><text x="561.00" y="278.90" text-anchor="middle">300</text></g>
<rect x="575.80" y="62.40" width="10.60" height="207.90" fill="url(#cg)" stroke="#555" stroke-width="0.8"/>
<path d="M586.40,270.30h-2M586.40,168.65h-2M586.40,67.01h-2" stroke="#333" stroke-width="0.8"/>
<g font-family="'Liberation Sans', sans-serif" font-size="7.8" fill="#1a1a1a"><text x="588.60" y="273.10">10<tspan font-size="5.4" dy="-3.2">0</tspan></text><text x="588.60" y="171.45">10<tspan font-size="5.4" dy="-3.2">1</tspan></text><text x="588.60" y="69.81">10<tspan font-size="5.4" dy="-3.2">2</tspan></text></g>
<path d="M71.25,306.30V513.90M36.70,479.30H244.00M105.80,306.30V513.90M36.70,444.70H244.00M140.35,306.30V513.90M36.70,410.10H244.00M174.90,306.30V513.90M36.70,375.50H244.00M209.45,306.30V513.90M36.70,340.90H244.00" stroke="#bcbcbc" stroke-width="0.9" stroke-dasharray="1 1.1" fill="none"/>
<clipPath id="cp673"><path d="M36.20,514.40L244.00,305.80L244.00,306.30L36.70,306.30L36.70,513.90z"/></clipPath><g clip-path="url(#cp673)"><g transform="translate(36.700,513.900) scale(0.69100,-0.40233)"><path fill="#5848a0" d="M-1 -1l1-1 1 1v2l-1 1-1-1zm8 18l1-1 1 1v2l-1 1-1-1zm5 3l1-1 1 1v2l-1 1-1-1zm-1 3l1-1 1 1v2l-1 1-1-1zm1 3l1-1 1 1v2l-1 1-1-1zm4 12l1-1 1 1v2l-1 1-1-1zm1 3l1-1 1 1v2l-1 1-1-1zm5 15l1-1 1 1v2l-1 1-1-1zm4 0l1-1 1 1v2l-1 1-1-1zm2 0l1-1 1 1v2l-1 1-1-1zm-2 6l1-1 1 1v2l-1 1-1-1zm4 0l1-1 1 1v2l-1 1-1-1zm2 0l1-1 1 1v2l-1 1-1-1zm-7 3l1-1 1 1v2l-1 1-1-1zm8 0l1-1 1 1v2l-1 1-1-1zm-3 3l1-1 1 1v2l-1 1-1-1zm1 9l1-1 1 1v2l-1 1-1-1zm6 0l1-1 1 1v2l-1 1-1-1zm-1 3l1-1 1 1v2l-1 1-1-1zm4 0l1-1 1 1v2l-1 1-1-1zm-3 3l1-1 1 1v2l-1 1-1-1zm2 0l1-1 1 1v2l-1 1-1-1zm2 0l1-1 1 1v2l-1 1-1-1zm-1 3l1-1 1 1v2l-1 1-1-1zm-3 3l1-1 1 1v2l-1 1-1-1zm2 0l1-1 1 1v2l-1 1-1-1zm1 3l1-1 1 1v2l-1 1-1-1zm6 0l1-1 1 1v2l-1 1-1-1zm-5 3l1-1 1 1v2l-1 1-1-1zm8 0l1-1 1 1v2l-1 1-1-1zm-13 3l1-1 1 1v2l-1 1-1-1zm14 0l1-1 1 1v2l-1 1-1-1zm2 0l1-1 1 1v2l-1 1-1-1zm6 0l1-1 1 1v2l-1 1-1-1zm-5 3l1-1 1 1v2l-1 1-1-1zm-13 3l1-1 1 1v2l-1 1-1-1zm4 0l1-1 1 1v2l-1 1-1-1zm8 0l1-1 1 1v2l-1 1-1-1zm-7 3l1-1 1 1v2l-1 1-1-1zm6 0l1-1 1 1v2l-1 1-1-1zm12 0l1-1 1 1v2l-1 1-1-1zm-11 3l1-1 1 1v2l-1 1-1-1zm-3 3l1-1 1 1v2l-1 1-1-1zm4 0l1-1 1 1v2l-1 1-1-1zm4 0l1-1 1 1v2l-1 1-1-1zm-9 3l1-1 1 1v2l-1 1-1-1zm4 0l1-1 1 1v2l-1 1-1-1zm16 0l1-1 1 1v2l-1 1-1-1zm-11 3l1-1 1 1v2l-1 1-1-1zm-11 3l1-1 1 1v2l-1 1-1-1zm12 0l1-1 1 1v2l-1 1-1-1zm2 0l1-1 1 1v2l-1 1-1-1zm-5 3l1-1 1 1v2l-1 1-1-1zm6 0l1-1 1 1v2l-1 1-1-1zm2 0l1-1 1 1v2l-1 1-1-1zm2 0l1-1 1 1v2l-1 1-1-1zm-17 3l1-1 1 1v2l-1 1-1-1zm8 0l1-1 1 1v2l-1 1-1-1zm4 0l1-1 1 1v2l-1 1-1-1zm1 3l1-1 1 1v2l-1 1-1-1zm2 0l1-1 1 1v2l-1 1-1-1zm2 0l1-1 1 1v2l-1 1-1-1zm1 3l1-1 1 1v2l-1 1-1-1zm2 0l1-1 1 1v2l-1 1-1-1zm-9 3l1-1 1 1v2l-1 1-1-1zm8 0l1-1 1 1v2l-1 1-1-1zm6 0l1-1 1 1v2l-1 1-1-1zm6 0l1-1 1 1v2l-1 1-1-1zm-19 3l1-1 1 1v2l-1 1-1-1zm10 0l1-1 1 1v2l-1 1-1-1zm2 0l1-1 1 1v2l-1 1-1-1zm-13 3l1-1 1 1v2l-1 1-1-1zm2 0l1-1 1 1v2l-1 1-1-1zm2 0l1-1 1 1v2l-1 1-1-1zm2 0l1-1 1 1v2l-1 1-1-1zm2 0l1-1 1 1v2l-1 1-1-1zm2 0l1-1 1 1v2l-1 1-1-1zm4 0l1-1 1 1v2l-1 1-1-1zm2 0l1-1 1 1v2l-1 1-1-1zm-7 3l1-1 1 1v2l-1 1-1-1zm4 0l1-1 1 1v2l-1 1-1-1zm2 0l1-1 1 1v2l-1 1-1-1zm-1 3l1-1 1 1v2l-1 1-1-1zm2 0l1-1 1 1v2l-1 1-1-1zm12 0l1-1 1 1v2l-1 1-1-1zm-23 3l1-1 1 1v2l-1 1-1-1zm6 0l1-1 1 1v2l-1 1-1-1zm4 0l1-1 1 1v2l-1 1-1-1zm6 0l1-1 1 1v2l-1 1-1-1zm2 0l1-1 1 1v2l-1 1-1-1zm-13 3l1-1 1 1v2l-1 1-1-1zm4 0l1-1 1 1v2l-1 1-1-1zm8 0l1-1 1 1v2l-1 1-1-1zm4 0l1-1 1 1v2l-1 1-1-1zm-13 3l1-1 1 1v2l-1 1-1-1zm6 0l1-1 1 1v2l-1 1-1-1zm-11 3l1-1 1 1v2l-1 1-1-1zm22 0l1-1 1 1v2l-1 1-1-1zm-11 3l1-1 1 1v2l-1 1-1-1zm4 0l1-1 1 1v2l-1 1-1-1zm4 0l1-1 1 1v2l-1 1-1-1zm-5 3l1-1 1 1v2l-1 1-1-1zm16 0l1-1 1 1v2l-1 1-1-1zm-21 3l1-1 1 1v2l-1 1-1-1zm2 0l1-1 1 1v2l-1 1-1-1zm-5 3l1-1 1 1v2l-1 1-1-1zm4 0l1-1 1 1v2l-1 1-1-1zm10 0l1-1 1 1v2l-1 1-1-1zm2 0l1-1 1 1v2l-1 1-1-1zm2 0l1-1 1 1v2l-1 1-1-1zm2 0l1-1 1 1v2l-1 1-1-1zm-11 3l1-1 1 1v2l-1 1-1-1zm14 0l1-1 1 1v2l-1 1-1-1zm-11 3l1-1 1 1v2l-1 1-1-1zm6 0l1-1 1 1v2l-1 1-1-1zm2 0l1-1 1 1v2l-1 1-1-1zm4 0l1-1 1 1v2l-1 1-1-1zm8 0l1-1 1 1v2l-1 1-1-1zm-13 3l1-1 1 1v2l-1 1-1-1zm2 0l1-1 1 1v2l-1 1-1-1zm8 0l1-1 1 1v2l-1 1-1-1zm-23 3l1-1 1 1v2l-1 1-1-1zm4 0l1-1 1 1v2l-1 1-1-1zm8 0l1-1 1 1v2l-1 1-1-1zm4 0l1-1 1 1v2l-1 1-1-1zm-11 3l1-1 1 1v2l-1 1-1-1zm10 0l1-1 1 1v2l-1 1-1-1zm2 0l1-1 1 1v2l-1 1-1-1zm6 0l1-1 1 1v2l-1 1-1-1zm-17 3l1-1 1 1v2l-1 1-1-1zm4 0l1-1 1 1v2l-1 1-1-1zm4 0l1-1 1 1v2l-1 1-1-1zm8 0l1-1 1 1v2l-1 1-1-1zm2 0l1-1 1 1v2l-1 1-1-1zm2 0l1-1 1 1v2l-1 1-1-1zm-11 3l1-1 1 1v2l-1 1-1-1zm4 0l1-1 1 1v2l-1 1-1-1zm2 0l1-1 1 1v2l-1 1-1-1zm-1 3l1-1 1 1v2l-1 1-1-1zm6 0l1-1 1 1v2l-1 1-1-1zm-13 3l1-1 1 1v2l-1 1-1-1zm2 0l1-1 1 1v2l-1 1-1-1zm2 0l1-1 1 1v2l-1 1-1-1zm10 0l1-1 1 1v2l-1 1-1-1zm-19 3l1-1 1 1v2l-1 1-1-1zm10 0l1-1 1 1v2l-1 1-1-1zm6 0l1-1 1 1v2l-1 1-1-1zm2 0l1-1 1 1v2l-1 1-1-1zm6 0l1-1 1 1v2l-1 1-1-1zm-17 3l1-1 1 1v2l-1 1-1-1zm2 0l1-1 1 1v2l-1 1-1-1zm10 0l1-1 1 1v2l-1 1-1-1zm2 0l1-1 1 1v2l-1 1-1-1zm2 0l1-1 1 1v2l-1 1-1-1zm-29 3l1-1 1 1v2l-1 1-1-1zm20 0l1-1 1 1v2l-1 1-1-1zm2 0l1-1 1 1v2l-1 1-1-1zm12 0l1-1 1 1v2l-1 1-1-1zm2 0l1-1 1 1v2l-1 1-1-1zm-11 3l1-1 1 1v2l-1 1-1-1zm4 0l1-1 1 1v2l-1 1-1-1zm6 0l1-1 1 1v2l-1 1-1-1zm2 0l1-1 1 1v2l-1 1-1-1zm2 0l1-1 1 1v2l-1 1-1-1zm4 0l1-1 1 1v2l-1 1-1-1zm-15 3l1-1 1 1v2l-1 1-1-1zm8 0l1-1 1 1v2l-1 1-1-1zm-11 3l1-1 1 1v2l-1 1-1-1zm10 0l1-1 1 1v2l-1 1-1-1zm-3 3l1-1 1 1v2l-1 1-1-1zm4 0l1-1 1 1v2l-1 1-1-1zm4 0l1-1 1 1v2l-1 1-1-1zm-15 3l1-1 1 1v2l-1 1-1-1zm2 0l1-1 1 1v2l-1 1-1-1zm6 0l1-1 1 1v2l-1 1-1-1zm-15 3l1-1 1 1v2l-1 1-1-1zm6 0l1-1 1 1v2l-1 1-1-1zm2 0l1-1 1 1v2l-1 1-1-1zm4 0l1-1 1 1v2l-1 1-1-1zm8 0l1-1 1 1v2l-1 1-1-1zm2 0l1-1 1 1v2l-1 1-1-1zm4 0l1-1 1 1v2l-1 1-1-1zm2 0l1-1 1 1v2l-1 1-1-1zm-7 3l1-1 1 1v2l-1 1-1-1zm6 0l1-1 1 1v2l-1 1-1-1zm8 0l1-1 1 1v2l-1 1-1-1zm-31 3l1-1 1 1v2l-1 1-1-1zm14 0l1-1 1 1v2l-1 1-1-1zm2 0l1-1 1 1v2l-1 1-1-1zm6 0l1-1 1 1v2l-1 1-1-1zm4 0l1-1 1 1v2l-1 1-1-1zm2 0l1-1 1 1v2l-1 1-1-1zm-7 3l1-1 1 1v2l-1 1-1-1zm4 0l1-1 1 1v2l-1 1-1-1zm8 0l1-1 1 1v2l-1 1-1-1zm-19 3l1-1 1 1v2l-1 1-1-1zm2 0l1-1 1 1v2l-1 1-1-1zm6 0l1-1 1 1v2l-1 1-1-1zm-11 3l1-1 1 1v2l-1 1-1-1zm18 0l1-1 1 1v2l-1 1-1-1zm-39 3l1-1 1 1v2l-1 1-1-1zm32 0l1-1 1 1v2l-1 1-1-1zm4 0l1-1 1 1v2l-1 1-1-1zm2 0l1-1 1 1v2l-1 1-1-1zm10 0l1-1 1 1v2l-1 1-1-1zm2 0l1-1 1 1v2l-1 1-1-1zm-51 3l1-1 1 1v2l-1 1-1-1zm22 0l1-1 1 1v2l-1 1-1-1zm6 0l1-1 1 1v2l-1 1-1-1zm2 0l1-1 1 1v2l-1 1-1-1zm7 3l1-1 1 1v2l-1 1-1-1zm8 0l1-1 1 1v2l-1 1-1-1zm-17 3l1-1 1 1v2l-1 1-1-1zm6 0l1-1 1 1v2l-1 1-1-1zm12 0l1-1 1 1v2l-1 1-1-1zm2 0l1-1 1 1v2l-1 1-1-1zm4 0l1-1 1 1v2l-1 1-1-1zm-7 3l1-1 1 1v2l-1 1-1-1zm2 0l1-1 1 1v2l-1 1-1-1zm2 0l1-1 1 1v2l-1 1-1-1zm6 0l1-1 1 1v2l-1 1-1-1zm-27 3l1-1 1 1v2l-1 1-1-1zm16 0l1-1 1 1v2l-1 1-1-1zm6 0l1-1 1 1v2l-1 1-1-1zm-15 3l1-1 1 1v2l-1 1-1-1zm2 0l1-1 1 1v2l-1 1-1-1zm8 0l1-1 1 1v2l-1 1-1-1zm8 0l1-1 1 1v2l-1 1-1-1zm-15 3l1-1 1 1v2l-1 1-1-1zm14 0l1-1 1 1v2l-1 1-1-1zm2 0l1-1 1 1v2l-1 1-1-1zm-9 3l1-1 1 1v2l-1 1-1-1zm4 0l1-1 1 1v2l-1 1-1-1zm8 0l1-1 1 1v2l-1 1-1-1zm8 0l1-1 1 1v2l-1 1-1-1zm-29 3l1-1 1 1v2l-1 1-1-1zm10 0l1-1 1 1v2l-1 1-1-1zm2 0l1-1 1 1v2l-1 1-1-1zm10 0l1-1 1 1v2l-1 1-1-1zm4 0l1-1 1 1v2l-1 1-1-1zm-29 3l1-1 1 1v2l-1 1-1-1zm2 0l1-1 1 1v2l-1 1-1-1zm18 0l1-1 1 1v2l-1 1-1-1zm6 0l1-1 1 1v2l-1 1-1-1zm-9 3l1-1 1 1v2l-1 1-1-1zm4 0l1-1 1 1v2l-1 1-1-1zm4 0l1-1 1 1v2l-1 1-1-1zm2 0l1-1 1 1v2l-1 1-1-1zm4 0l1-1 1 1v2l-1 1-1-1zm-17 3l1-1 1 1v2l-1 1-1-1zm12 0l1-1 1 1v2l-1 1-1-1zm2 0l1-1 1 1v2l-1 1-1-1zm2 0l1-1 1 1v2l-1 1-1-1zm-17 3l1-1 1 1v2l-1 1-1-1zm6 0l1-1 1 1v2l-1 1-1-1zm-7 3l1-1 1 1v2l-1 1-1-1zm20 0l1-1 1 1v2l-1 1-1-1zm2 0l1-1 1 1v2l-1 1-1-1zm2 0l1-1 1 1v2l-1 1-1-1zm2 0l1-1 1 1v2l-1 1-1-1zm-33 3l1-1 1 1v2l-1 1-1-1zm10 0l1-1 1 1v2l-1 1-1-1zm4 0l1-1 1 1v2l-1 1-1-1zm4 0l1-1 1 1v2l-1 1-1-1zm2 0l1-1 1 1v2l-1 1-1-1zm10 0l1-1 1 1v2l-1 1-1-1zm-55 3l1-1 1 1v2l-1 1-1-1zm20 0l1-1 1 1v2l-1 1-1-1zm18 0l1-1 1 1v2l-1 1-1-1zm2 0l1-1 1 1v2l-1 1-1-1zm2 0l1-1 1 1v2l-1 1-1-1zm2 0l1-1 1 1v2l-1 1-1-1zm6 0l1-1 1 1v2l-1 1-1-1zm2 0l1-1 1 1v2l-1 1-1-1zm6 0l1-1 1 1v2l-1 1-1-1zm2 0l1-1 1 1v2l-1 1-1-1zm-29 3l1-1 1 1v2l-1 1-1-1zm12 0l1-1 1 1v2l-1 1-1-1zm16 0l1-1 1 1v2l-1 1-1-1zm8 0l1-1 1 1v2l-1 1-1-1zm-33 3l1-1 1 1v2l-1 1-1-1zm26 0l1-1 1 1v2l-1 1-1-1zm2 0l1-1 1 1v2l-1 1-1-1zm-23 3l1-1 1 1v2l-1 1-1-1zm24 0l1-1 1 1v2l-1 1-1-1zm4 0l1-1 1 1v2l-1 1-1-1zm-21 3l1-1 1 1v2l-1 1-1-1zm2 0l1-1 1 1v2l-1 1-1-1zm18 0l1-1 1 1v2l-1 1-1-1zm2 0l1-1 1 1v2l-1 1-1-1zm-43 3l1-1 1 1v2l-1 1-1-1zm18 0l1-1 1 1v2l-1 1-1-1zm6 0l1-1 1 1v2l-1 1-1-1zm-41 3l1-1 1 1v2l-1 1-1-1zm24 0l1-1 1 1v2l-1 1-1-1zm8 0l1-1 1 1v2l-1 1-1-1zm4 0l1-1 1 1v2l-1 1-1-1zm2 0l1-1 1 1v2l-1 1-1-1zm14 0l1-1 1 1v2l-1 1-1-1zm2 0l1-1 1 1v2l-1 1-1-1zm4 0l1-1 1 1v2l-1 1-1-1zm-61 3l1-1 1 1v2l-1 1-1-1zm40 0l1-1 1 1v2l-1 1-1-1zm18 0l1-1 1 1v2l-1 1-1-1zm6 0l1-1 1 1v2l-1 1-1-1zm2 0l1-1 1 1v2l-1 1-1-1zm2 0l1-1 1 1v2l-1 1-1-1zm-15 3l1-1 1 1v2l-1 1-1-1zm4 0l1-1 1 1v2l-1 1-1-1zm2 0l1-1 1 1v2l-1 1-1-1zm6 0l1-1 1 1v2l-1 1-1-1zm2 0l1-1 1 1v2l-1 1-1-1zm-17 3l1-1 1 1v2l-1 1-1-1zm12 0l1-1 1 1v2l-1 1-1-1zm14 0l1-1 1 1v2l-1 1-1-1zm-3 3l1-1 1 1v2l-1 1-1-1zm4 0l1-1 1 1v2l-1 1-1-1zm-17 3l1-1 1 1v2l-1 1-1-1zm10 0l1-1 1 1v2l-1 1-1-1zm2 0l1-1 1 1v2l-1 1-1-1zm-45 3l1-1 1 1v2l-1 1-1-1zm38 0l1-1 1 1v2l-1 1-1-1zm8 0l1-1 1 1v2l-1 1-1-1zm6 0l1-1 1 1v2l-1 1-1-1zm-23 3l1-1 1 1v2l-1 1-1-1zm8 0l1-1 1 1v2l-1 1-1-1zm10 0l1-1 1 1v2l-1 1-1-1zm2 0l1-1 1 1v2l-1 1-1-1zm2 0l1-1 1 1v2l-1 1-1-1zm-49 3l1-1 1 1v2l-1 1-1-1zm6 0l1-1 1 1v2l-1 1-1-1zm28 0l1-1 1 1v2l-1 1-1-1zm4 0l1-1 1 1v2l-1 1-1-1zm2 0l1-1 1 1v2l-1 1-1-1zm4 0l1-1 1 1v2l-1 1-1-1zm8 0l1-1 1 1v2l-1 1-1-1zm-29 3l1-1 1 1v2l-1 1-1-1zm6 0l1-1 1 1v2l-1 1-1-1zm4 0l1-1 1 1v2l-1 1-1-1zm8 0l1-1 1 1v2l-1 1-1-1zm2 0l1-1 1 1v2l-1 1-1-1zm10 0l1-1 1 1v2l-1 1-1-1zm-27 3l1-1 1 1v2l-1 1-1-1zm16 0l1-1 1 1v2l-1 1-1-1zm4 0l1-1 1 1v2l-1 1-1-1zm4 0l1-1 1 1v2l-1 1-1-1zm2 0l1-1 1 1v2l-1 1-1-1zm2 0l1-1 1 1v2l-1 1-1-1zm-23 3l1-1 1 1v2l-1 1-1-1zm10 0l1-1 1 1v2l-1 1-1-1zm16 0l1-1 1 1v2l-1 1-1-1zm4 0l1-1 1 1v2l-1 1-1-1zm-23 3l1-1 1 1v2l-1 1-1-1zm2 0l1-1 1 1v2l-1 1-1-1zm12 0l1-1 1 1v2l-1 1-1-1zm8 0l1-1 1 1v2l-1 1-1-1zm-51 3l1-1 1 1v2l-1 1-1-1zm40 0l1-1 1 1v2l-1 1-1-1zm4 0l1-1 1 1v2l-1 1-1-1zm2 0l1-1 1 1v2l-1 1-1-1zm4 0l1-1 1 1v2l-1 1-1-1zm6 0l1-1 1 1v2l-1 1-1-1zm-21 3l1-1 1 1v2l-1 1-1-1zm6 0l1-1 1 1v2l-1 1-1-1zm2 0l1-1 1 1v2l-1 1-1-1zm6 0l1-1 1 1v2l-1 1-1-1zm-35 3l1-1 1 1v2l-1 1-1-1zm26 0l1-1 1 1v2l-1 1-1-1zm12 0l1-1 1 1v2l-1 1-1-1zm-7 3l1-1 1 1v2l-1 1-1-1zm2 0l1-1 1 1v2l-1 1-1-1zm4 0l1-1 1 1v2l-1 1-1-1zm-17 3l1-1 1 1v2l-1 1-1-1zm6 0l1-1 1 1v2l-1 1-1-1zm12 0l1-1 1 1v2l-1 1-1-1zm2 0l1-1 1 1v2l-1 1-1-1zm-57 3l1-1 1 1v2l-1 1-1-1zm36 0l1-1 1 1v2l-1 1-1-1zm4 0l1-1 1 1v2l-1 1-1-1zm12 0l1-1 1 1v2l-1 1-1-1zm16 0l1-1 1 1v2l-1 1-1-1zm-35 3l1-1 1 1v2l-1 1-1-1zm6 0l1-1 1 1v2l-1 1-1-1zm4 0l1-1 1 1v2l-1 1-1-1zm6 0l1-1 1 1v2l-1 1-1-1zm4 0l1-1 1 1v2l-1 1-1-1zm-5 3l1-1 1 1v2l-1 1-1-1zm8 0l1-1 1 1v2l-1 1-1-1zm2 0l1-1 1 1v2l-1 1-1-1zm-39 3l1-1 1 1v2l-1 1-1-1zm8 0l1-1 1 1v2l-1 1-1-1zm20 0l1-1 1 1v2l-1 1-1-1zm4 0l1-1 1 1v2l-1 1-1-1zm8 0l1-1 1 1v2l-1 1-1-1zm6 0l1-1 1 1v2l-1 1-1-1zm-1 3l1-1 1 1v2l-1 1-1-1zm-11 3l1-1 1 1v2l-1 1-1-1zm12 0l1-1 1 1v2l-1 1-1-1zm4 0l1-1 1 1v2l-1 1-1-1zm6 0l1-1 1 1v2l-1 1-1-1zm-31 3l1-1 1 1v2l-1 1-1-1zm12 0l1-1 1 1v2l-1 1-1-1zm6 0l1-1 1 1v2l-1 1-1-1zm4 0l1-1 1 1v2l-1 1-1-1zm6 0l1-1 1 1v2l-1 1-1-1zm6 0l1-1 1 1v2l-1 1-1-1zm-5 3l1-1 1 1v2l-1 1-1-1zm-39 3l1-1 1 1v2l-1 1-1-1zm26 0l1-1 1 1v2l-1 1-1-1zm2 0l1-1 1 1v2l-1 1-1-1zm14 0l1-1 1 1v2l-1 1-1-1zm-45 3l1-1 1 1v2l-1 1-1-1zm10 0l1-1 1 1v2l-1 1-1-1zm20 0l1-1 1 1v2l-1 1-1-1zm6 0l1-1 1 1v2l-1 1-1-1zm6 0l1-1 1 1v2l-1 1-1-1zm4 0l1-1 1 1v2l-1 1-1-1zm-45 3l1-1 1 1v2l-1 1-1-1zm18 0l1-1 1 1v2l-1 1-1-1zm26 0l1-1 1 1v2l-1 1-1-1zm2 0l1-1 1 1v2l-1 1-1-1zm2 0l1-1 1 1v2l-1 1-1-1zm-45 3l1-1 1 1v2l-1 1-1-1zm24 0l1-1 1 1v2l-1 1-1-1zm10 0l1-1 1 1v2l-1 1-1-1zm2 0l1-1 1 1v2l-1 1-1-1zm2 0l1-1 1 1v2l-1 1-1-1zm4 0l1-1 1 1v2l-1 1-1-1zm-61 3l1-1 1 1v2l-1 1-1-1zm30 0l1-1 1 1v2l-1 1-1-1zm26 0l1-1 1 1v2l-1 1-1-1zm2 0l1-1 1 1v2l-1 1-1-1zm4 0l1-1 1 1v2l-1 1-1-1zm2 0l1-1 1 1v2l-1 1-1-1zm-13 3l1-1 1 1v2l-1 1-1-1zm2 0l1-1 1 1v2l-1 1-1-1zm2 0l1-1 1 1v2l-1 1-1-1zm4 0l1-1 1 1v2l-1 1-1-1zm2 0l1-1 1 1v2l-1 1-1-1zm2 0l1-1 1 1v2l-1 1-1-1zm6 0l1-1 1 1v2l-1 1-1-1zm-29 3l1-1 1 1v2l-1 1-1-1zm6 0l1-1 1 1v2l-1 1-1-1zm2 0l1-1 1 1v2l-1 1-1-1zm2 0l1-1 1 1v2l-1 1-1-1zm10 0l1-1 1 1v2l-1 1-1-1zm4 0l1-1 1 1v2l-1 1-1-1zm2 0l1-1 1 1v2l-1 1-1-1zm2 0l1-1 1 1v2l-1 1-1-1zm-13 3l1-1 1 1v2l-1 1-1-1zm6 0l1-1 1 1v2l-1 1-1-1zm4 0l1-1 1 1v2l-1 1-1-1zm12 0l1-1 1 1v2l-1 1-1-1zm-25 3l1-1 1 1v2l-1 1-1-1zm2 0l1-1 1 1v2l-1 1-1-1zm16 0l1-1 1 1v2l-1 1-1-1zm8 0l1-1 1 1v2l-1 1-1-1zm-49 3l1-1 1 1v2l-1 1-1-1zm40 0l1-1 1 1v2l-1 1-1-1zm6 0l1-1 1 1v2l-1 1-1-1zm-35 3l1-1 1 1v2l-1 1-1-1zm8 0l1-1 1 1v2l-1 1-1-1zm4 0l1-1 1 1v2l-1 1-1-1zm14 0l1-1 1 1v2l-1 1-1-1zm2 0l1-1 1 1v2l-1 1-1-1zm6 0l1-1 1 1v2l-1 1-1-1zm2 0l1-1 1 1v2l-1 1-1-1zm-23 3l1-1 1 1v2l-1 1-1-1zm18 0l1-1 1 1v2l-1 1-1-1zm6 0l1-1 1 1v2l-1 1-1-1zm4 0l1-1 1 1v2l-1 1-1-1zm-33 3l1-1 1 1v2l-1 1-1-1zm14 0l1-1 1 1v2l-1 1-1-1zm12 0l1-1 1 1v2l-1 1-1-1zm2 0l1-1 1 1v2l-1 1-1-1zm2 0l1-1 1 1v2l-1 1-1-1zm2 0l1-1 1 1v2l-1 1-1-1zm-19 3l1-1 1 1v2l-1 1-1-1zm12 0l1-1 1 1v2l-1 1-1-1zm2 0l1-1 1 1v2l-1 1-1-1zm6 0l1-1 1 1v2l-1 1-1-1zm-15 3l1-1 1 1v2l-1 1-1-1zm2 0l1-1 1 1v2l-1 1-1-1zm6 0l1-1 1 1v2l-1 1-1-1zm6 0l1-1 1 1v2l-1 1-1-1zm6 0l1-1 1 1v2l-1 1-1-1zm-27 3l1-1 1 1v2l-1 1-1-1zm2 0l1-1 1 1v2l-1 1-1-1zm2 0l1-1 1 1v2l-1 1-1-1zm8 0l1-1 1 1v2l-1 1-1-1zm6 0l1-1 1 1v2l-1 1-1-1zm6 0l1-1 1 1v2l-1 1-1-1zm2 0l1-1 1 1v2l-1 1-1-1zm6 0l1-1 1 1v2l-1 1-1-1zm-37 3l1-1 1 1v2l-1 1-1-1zm4 0l1-1 1 1v2l-1 1-1-1zm10 0l1-1 1 1v2l-1 1-1-1zm12 0l1-1 1 1v2l-1 1-1-1zm12 0l1-1 1 1v2l-1 1-1-1zm-81 3l1-1 1 1v2l-1 1-1-1zm20 0l1-1 1 1v2l-1 1-1-1zm30 0l1-1 1 1v2l-1 1-1-1zm4 0l1-1 1 1v2l-1 1-1-1zm4 0l1-1 1 1v2l-1 1-1-1zm8 0l1-1 1 1v2l-1 1-1-1zm2 0l1-1 1 1v2l-1 1-1-1zm2 0l1-1 1 1v2l-1 1-1-1zm8 0l1-1 1 1v2l-1 1-1-1zm6 0l1-1 1 1v2l-1 1-1-1zm-79 3l1-1 1 1v2l-1 1-1-1zm50 0l1-1 1 1v2l-1 1-1-1zm2 0l1-1 1 1v2l-1 1-1-1zm2 0l1-1 1 1v2l-1 1-1-1zm12 0l1-1 1 1v2l-1 1-1-1zm8 0l1-1 1 1v2l-1 1-1-1zm6 0l1-1 1 1v2l-1 1-1-1zm-49 3l1-1 1 1v2l-1 1-1-1zm18 0l1-1 1 1v2l-1 1-1-1zm8 0l1-1 1 1v2l-1 1-1-1zm2 0l1-1 1 1v2l-1 1-1-1zm8 0l1-1 1 1v2l-1 1-1-1zm6 0l1-1 1 1v2l-1 1-1-1zm2 0l1-1 1 1v2l-1 1-1-1zm-35 3l1-1 1 1v2l-1 1-1-1zm28 0l1-1 1 1v2l-1 1-1-1zm8 0l1-1 1 1v2l-1 1-1-1zm2 0l1-1 1 1v2l-1 1-1-1zm2 0l1-1 1 1v2l-1 1-1-1zm-37 3l1-1 1 1v2l-1 1-1-1zm4 0l1-1 1 1v2l-1 1-1-1zm24 0l1-1 1 1v2l-1 1-1-1zm4 0l1-1 1 1v2l-1 1-1-1zm2 0l1-1 1 1v2l-1 1-1-1zm4 0l1-1 1 1v2l-1 1-1-1zm-37 3l1-1 1 1v2l-1 1-1-1zm4 0l1-1 1 1v2l-1 1-1-1zm4 0l1-1 1 1v2l-1 1-1-1zm6 0l1-1 1 1v2l-1 1-1-1zm12 0l1-1 1 1v2l-1 1-1-1zm4 0l1-1 1 1v2l-1 1-1-1zm2 0l1-1 1 1v2l-1 1-1-1zm4 0l1-1 1 1v2l-1 1-1-1zm2 0l1-1 1 1v2l-1 1-1-1zm-33 3l1-1 1 1v2l-1 1-1-1zm2 0l1-1 1 1v2l-1 1-1-1zm22 0l1-1 1 1v2l-1 1-1-1zm10 0l1-1 1 1v2l-1 1-1-1zm6 0l1-1 1 1v2l-1 1-1-1zm-47 3l1-1 1 1v2l-1 1-1-1zm30 0l1-1 1 1v2l-1 1-1-1zm4 0l1-1 1 1v2l-1 1-1-1zm4 0l1-1 1 1v2l-1 1-1-1zm2 0l1-1 1 1v2l-1 1-1-1zm-33 3l1-1 1 1v2l-1 1-1-1zm10 0l1-1 1 1v2l-1 1-1-1zm6 0l1-1 1 1v2l-1 1-1-1zm2 0l1-1 1 1v2l-1 1-1-1zm2 0l1-1 1 1v2l-1 1-1-1zm2 0l1-1 1 1v2l-1 1-1-1zm6 0l1-1 1 1v2l-1 1-1-1zm6 0l1-1 1 1v2l-1 1-1-1zm2 0l1-1 1 1v2l-1 1-1-1zm8 0l1-1 1 1v2l-1 1-1-1zm-45 3l1-1 1 1v2l-1 1-1-1zm6 0l1-1 1 1v2l-1 1-1-1zm20 0l1-1 1 1v2l-1 1-1-1zm2 0l1-1 1 1v2l-1 1-1-1zm12 0l1-1 1 1v2l-1 1-1-1zm4 0l1-1 1 1v2l-1 1-1-1zm2 0l1-1 1 1v2l-1 1-1-1zm-31 3l1-1 1 1v2l-1 1-1-1zm12 0l1-1 1 1v2l-1 1-1-1zm2 0l1-1 1 1v2l-1 1-1-1zm4 0l1-1 1 1v2l-1 1-1-1zm8 0l1-1 1 1v2l-1 1-1-1zm2 0l1-1 1 1v2l-1 1-1-1zm6 0l1-1 1 1v2l-1 1-1-1zm-97 3l1-1 1 1v2l-1 1-1-1zm42 0l1-1 1 1v2l-1 1-1-1zm4 0l1-1 1 1v2l-1 1-1-1zm30 0l1-1 1 1v2l-1 1-1-1zm22 0l1-1 1 1v2l-1 1-1-1zm-67 3l1-1 1 1v2l-1 1-1-1zm20 0l1-1 1 1v2l-1 1-1-1zm18 0l1-1 1 1v2l-1 1-1-1zm6 0l1-1 1 1v2l-1 1-1-1zm2 0l1-1 1 1v2l-1 1-1-1zm10 0l1-1 1 1v2l-1 1-1-1zm-33 3l1-1 1 1v2l-1 1-1-1zm26 0l1-1 1 1v2l-1 1-1-1zm8 0l1-1 1 1v2l-1 1-1-1zm8 0l1-1 1 1v2l-1 1-1-1zm2 0l1-1 1 1v2l-1 1-1-1zm-43 3l1-1 1 1v2l-1 1-1-1zm12 0l1-1 1 1v2l-1 1-1-1zm20 0l1-1 1 1v2l-1 1-1-1zm4 0l1-1 1 1v2l-1 1-1-1zm2 0l1-1 1 1v2l-1 1-1-1zm-31 3l1-1 1 1v2l-1 1-1-1zm12 0l1-1 1 1v2l-1 1-1-1zm16 0l1-1 1 1v2l-1 1-1-1zm2 0l1-1 1 1v2l-1 1-1-1zm4 0l1-1 1 1v2l-1 1-1-1zm6 0l1-1 1 1v2l-1 1-1-1zm2 0l1-1 1 1v2l-1 1-1-1zm-27 3l1-1 1 1v2l-1 1-1-1zm8 0l1-1 1 1v2l-1 1-1-1zm4 0l1-1 1 1v2l-1 1-1-1zm6 0l1-1 1 1v2l-1 1-1-1zm8 0l1-1 1 1v2l-1 1-1-1zm4 0l1-1 1 1v2l-1 1-1-1zm-37 3l1-1 1 1v2l-1 1-1-1zm12 0l1-1 1 1v2l-1 1-1-1zm8 0l1-1 1 1v2l-1 1-1-1zm6 0l1-1 1 1v2l-1 1-1-1zm2 0l1-1 1 1v2l-1 1-1-1zm-41 3l1-1 1 1v2l-1 1-1-1zm6 0l1-1 1 1v2l-1 1-1-1zm4 0l1-1 1 1v2l-1 1-1-1zm10 0l1-1 1 1v2l-1 1-1-1zm4 0l1-1 1 1v2l-1 1-1-1zm2 0l1-1 1 1v2l-1 1-1-1zm8 0l1-1 1 1v2l-1 1-1-1zm6 0l1-1 1 1v2l-1 1-1-1zm2 0l1-1 1 1v2l-1 1-1-1zm8 0l1-1 1 1v2l-1 1-1-1zm-27 3l1-1 1 1v2l-1 1-1-1zm12 0l1-1 1 1v2l-1 1-1-1zm6 0l1-1 1 1v2l-1 1-1-1zm4 0l1-1 1 1v2l-1 1-1-1zm2 0l1-1 1 1v2l-1 1-1-1zm-17 3l1-1 1 1v2l-1 1-1-1zm8 0l1-1 1 1v2l-1 1-1-1zm-43 3l1-1 1 1v2l-1 1-1-1zm32 0l1-1 1 1v2l-1 1-1-1zm2 0l1-1 1 1v2l-1 1-1-1zm6 0l1-1 1 1v2l-1 1-1-1zm6 0l1-1 1 1v2l-1 1-1-1zm8 0l1-1 1 1v2l-1 1-1-1zm-31 3l1-1 1 1v2l-1 1-1-1zm14 0l1-1 1 1v2l-1 1-1-1zm6 0l1-1 1 1v2l-1 1-1-1zm2 0l1-1 1 1v2l-1 1-1-1zm4 0l1-1 1 1v2l-1 1-1-1zm2 0l1-1 1 1v2l-1 1-1-1zm2 0l1-1 1 1v2l-1 1-1-1zm12 0l1-1 1 1v2l-1 1-1-1zm-65 3l1-1 1 1v2l-1 1-1-1zm22 0l1-1 1 1v2l-1 1-1-1zm20 0l1-1 1 1v2l-1 1-1-1zm2 0l1-1 1 1v2l-1 1-1-1zm2 0l1-1 1 1v2l-1 1-1-1zm-5 3l1-1 1 1v2l-1 1-1-1zm2 0l1-1 1 1v2l-1 1-1-1zm6 0l1-1 1 1v2l-1 1-1-1zm13 3l1-1 1 1v2l-1 1-1-1zm2 0l1-1 1 1v2l-1 1-1-1zm2 0l1-1 1 1v2l-1 1-1-1zm4 0l1-1 1 1v2l-1 1-1-1z"/><path fill="#3c64a8" d="M3 5l1-1 1 1v2l-1 1-1-1zm-1 3l1-1 1 1v2l-1 1-1-1zm6 12l1-1 1 1v2l-1 1-1-1zm8 6l1-1 1 1v2l-1 1-1-1zm-3 3l1-1 1 1v2l-1 1-1-1zm7 15l1-1 1 1v2l-1 1-1-1zm2 6l1-1 1 1v2l-1 1-1-1zm3 3l1-1 1 1v2l-1 1-1-1zm4 6l1-1 1 1v2l-1 1-1-1zm2 6l1-1 1 1v2l-1 1-1-1zm1 3l1-1 1 1v2l-1 1-1-1zm4 0l1-1 1 1v2l-1 1-1-1zm4 0l1-1 1 1v2l-1 1-1-1zm-7 3l1-1 1 1v2l-1 1-1-1zm4 0l1-1 1 1v2l-1 1-1-1zm-1 3l1-1 1 1v2l-1 1-1-1zm-3 3l1-1 1 1v2l-1 1-1-1zm9 3l1-1 1 1v2l-1 1-1-1zm1 9l1-1 1 1v2l-1 1-1-1zm2 0l1-1 1 1v2l-1 1-1-1zm0 6l1-1 1 1v2l-1 1-1-1zm2 0l1-1 1 1v2l-1 1-1-1zm-1 3l1-1 1 1v2l-1 1-1-1zm2 0l1-1 1 1v2l-1 1-1-1zm-3 3l1-1 1 1v2l-1 1-1-1zm2 0l1-1 1 1v2l-1 1-1-1zm8 0l1-1 1 1v2l-1 1-1-1zm-7 3l1-1 1 1v2l-1 1-1-1zm11 9l1-1 1 1v2l-1 1-1-1zm-3 3l1-1 1 1v2l-1 1-1-1zm3 3l1-1 1 1v2l-1 1-1-1zm4 0l1-1 1 1v2l-1 1-1-1zm-7 3l1-1 1 1v2l-1 1-1-1zm8 0l1-1 1 1v2l-1 1-1-1zm2 0l1-1 1 1v2l-1 1-1-1zm7 3l1-1 1 1v2l-1 1-1-1zm-5 3l1-1 1 1v2l-1 1-1-1zm-9 3l1-1 1 1v2l-1 1-1-1zm10 0l1-1 1 1v2l-1 1-1-1zm2 0l1-1 1 1v2l-1 1-1-1zm4 6l1-1 1 1v2l-1 1-1-1zm-1 3l1-1 1 1v2l-1 1-1-1zm2 0l1-1 1 1v2l-1 1-1-1zm2 0l1-1 1 1v2l-1 1-1-1zm-1 3l1-1 1 1v2l-1 1-1-1zm-7 3l1-1 1 1v2l-1 1-1-1zm9 3l1-1 1 1v2l-1 1-1-1zm2 0l1-1 1 1v2l-1 1-1-1zm3 3l1-1 1 1v2l-1 1-1-1zm-5 3l1-1 1 1v2l-1 1-1-1zm7 3l1-1 1 1v2l-1 1-1-1zm6 0l1-1 1 1v2l-1 1-1-1zm-2 6l1-1 1 1v2l-1 1-1-1zm-7 3l1-1 1 1v2l-1 1-1-1zm2 0l1-1 1 1v2l-1 1-1-1zm7 3l1-1 1 1v2l-1 1-1-1zm-4 6l1-1 1 1v2l-1 1-1-1zm2 0l1-1 1 1v2l-1 1-1-1zm9 3l1-1 1 1v2l-1 1-1-1zm8 6l1-1 1 1v2l-1 1-1-1zm-7 3l1-1 1 1v2l-1 1-1-1zm-1 3l1-1 1 1v2l-1 1-1-1zm8 0l1-1 1 1v2l-1 1-1-1zm-1 3l1-1 1 1v2l-1 1-1-1zm-9 3l1-1 1 1v2l-1 1-1-1zm4 0l1-1 1 1v2l-1 1-1-1zm14 0l1-1 1 1v2l-1 1-1-1zm-14 6l1-1 1 1v2l-1 1-1-1zm6 0l1-1 1 1v2l-1 1-1-1zm5 3l1-1 1 1v2l-1 1-1-1zm2 0l1-1 1 1v2l-1 1-1-1zm6 0l1-1 1 1v2l-1 1-1-1zm-11 3l1-1 1 1v2l-1 1-1-1zm3 3l1-1 1 1v2l-1 1-1-1zm-9 3l1-1 1 1v2l-1 1-1-1zm16 6l1-1 1 1v2l-1 1-1-1zm10 0l1-1 1 1v2l-1 1-1-1zm-11 3l1-1 1 1v2l-1 1-1-1zm12 0l1-1 1 1v2l-1 1-1-1zm-6 6l1-1 1 1v2l-1 1-1-1zm-6 6l1-1 1 1v2l-1 1-1-1zm14 0l1-1 1 1v2l-1 1-1-1zm-8 6l1-1 1 1v2l-1 1-1-1zm16 0l1-1 1 1v2l-1 1-1-1zm-17 3l1-1 1 1v2l-1 1-1-1zm4 0l1-1 1 1v2l-1 1-1-1zm8 0l1-1 1 1v2l-1 1-1-1zm4 0l1-1 1 1v2l-1 1-1-1zm-5 3l1-1 1 1v2l-1 1-1-1zm2 0l1-1 1 1v2l-1 1-1-1zm2 0l1-1 1 1v2l-1 1-1-1zm-3 3l1-1 1 1v2l-1 1-1-1zm-3 3l1-1 1 1v2l-1 1-1-1zm10 0l1-1 1 1v2l-1 1-1-1zm6 0l1-1 1 1v2l-1 1-1-1zm-13 3l1-1 1 1v2l-1 1-1-1zm-13 3l1-1 1 1v2l-1 1-1-1zm14 6l1-1 1 1v2l-1 1-1-1zm11 3l1-1 1 1v2l-1 1-1-1zm-11 3l1-1 1 1v2l-1 1-1-1zm16 0l1-1 1 1v2l-1 1-1-1zm1 3l1-1 1 1v2l-1 1-1-1zm-5 3l1-1 1 1v2l-1 1-1-1zm9 3l1-1 1 1v2l-1 1-1-1zm-11 3l1-1 1 1v2l-1 1-1-1zm14 0l1-1 1 1v2l-1 1-1-1zm-4 6l1-1 1 1v2l-1 1-1-1zm6 0l1-1 1 1v2l-1 1-1-1zm2 0l1-1 1 1v2l-1 1-1-1zm-3 3l1-1 1 1v2l-1 1-1-1zm-7 3l1-1 1 1v2l-1 1-1-1zm14 0l1-1 1 1v2l-1 1-1-1zm-11 3l1-1 1 1v2l-1 1-1-1zm12 0l1-1 1 1v2l-1 1-1-1zm-19 3l1-1 1 1v2l-1 1-1-1zm7 3l1-1 1 1v2l-1 1-1-1zm18 0l1-1 1 1v2l-1 1-1-1zm-11 3l1-1 1 1v2l-1 1-1-1zm-7 3l1-1 1 1v2l-1 1-1-1zm16 0l1-1 1 1v2l-1 1-1-1zm-9 3l1-1 1 1v2l-1 1-1-1zm20 6l1-1 1 1v2l-1 1-1-1zm-15 9l1-1 1 1v2l-1 1-1-1zm2 0l1-1 1 1v2l-1 1-1-1zm10 0l1-1 1 1v2l-1 1-1-1zm6 0l1-1 1 1v2l-1 1-1-1zm4 0l1-1 1 1v2l-1 1-1-1zm1 3l1-1 1 1v2l-1 1-1-1zm-11 3l1-1 1 1v2l-1 1-1-1zm8 0l1-1 1 1v2l-1 1-1-1zm1 3l1-1 1 1v2l-1 1-1-1zm4 0l1-1 1 1v2l-1 1-1-1zm-7 3l1-1 1 1v2l-1 1-1-1zm10 0l1-1 1 1v2l-1 1-1-1zm-9 3l1-1 1 1v2l-1 1-1-1zm5 3l1-1 1 1v2l-1 1-1-1zm2 0l1-1 1 1v2l-1 1-1-1zm7 3l1-1 1 1v2l-1 1-1-1zm-1 3l1-1 1 1v2l-1 1-1-1zm2 6l1-1 1 1v2l-1 1-1-1zm2 0l1-1 1 1v2l-1 1-1-1zm-19 3l1-1 1 1v2l-1 1-1-1zm8 0l1-1 1 1v2l-1 1-1-1zm4 0l1-1 1 1v2l-1 1-1-1zm6 0l1-1 1 1v2l-1 1-1-1zm4 0l1-1 1 1v2l-1 1-1-1zm-5 3l1-1 1 1v2l-1 1-1-1zm4 0l1-1 1 1v2l-1 1-1-1zm2 0l1-1 1 1v2l-1 1-1-1zm-5 3l1-1 1 1v2l-1 1-1-1zm-5 3l1-1 1 1v2l-1 1-1-1zm8 0l1-1 1 1v2l-1 1-1-1zm2 0l1-1 1 1v2l-1 1-1-1zm6 0l1-1 1 1v2l-1 1-1-1zm-21 3l1-1 1 1v2l-1 1-1-1zm18 0l1-1 1 1v2l-1 1-1-1zm2 0l1-1 1 1v2l-1 1-1-1zm-14 6l1-1 1 1v2l-1 1-1-1zm2 0l1-1 1 1v2l-1 1-1-1zm14 0l1-1 1 1v2l-1 1-1-1zm-3 3l1-1 1 1v2l-1 1-1-1zm-4 6l1-1 1 1v2l-1 1-1-1zm1 3l1-1 1 1v2l-1 1-1-1zm18 0l1-1 1 1v2l-1 1-1-1zm-17 3l1-1 1 1v2l-1 1-1-1zm4 0l1-1 1 1v2l-1 1-1-1zm4 0l1-1 1 1v2l-1 1-1-1zm8 0l1-1 1 1v2l-1 1-1-1zm2 0l1-1 1 1v2l-1 1-1-1zm-3 3l1-1 1 1v2l-1 1-1-1zm4 0l1-1 1 1v2l-1 1-1-1zm-9 3l1-1 1 1v2l-1 1-1-1zm6 0l1-1 1 1v2l-1 1-1-1zm1 3l1-1 1 1v2l-1 1-1-1zm-9 3l1-1 1 1v2l-1 1-1-1zm13 3l1-1 1 1v2l-1 1-1-1zm2 0l1-1 1 1v2l-1 1-1-1zm-45 3l1-1 1 1v2l-1 1-1-1zm46 0l1-1 1 1v2l-1 1-1-1zm-3 3l1-1 1 1v2l-1 1-1-1zm2 0l1-1 1 1v2l-1 1-1-1zm4 0l1-1 1 1v2l-1 1-1-1zm4 0l1-1 1 1v2l-1 1-1-1zm-3 3l1-1 1 1v2l-1 1-1-1zm2 0l1-1 1 1v2l-1 1-1-1zm-15 3l1-1 1 1v2l-1 1-1-1zm10 0l1-1 1 1v2l-1 1-1-1zm10 0l1-1 1 1v2l-1 1-1-1zm-3 3l1-1 1 1v2l-1 1-1-1zm4 0l1-1 1 1v2l-1 1-1-1zm-21 3l1-1 1 1v2l-1 1-1-1zm14 0l1-1 1 1v2l-1 1-1-1zm4 0l1-1 1 1v2l-1 1-1-1zm-7 3l1-1 1 1v2l-1 1-1-1zm2 0l1-1 1 1v2l-1 1-1-1zm4 0l1-1 1 1v2l-1 1-1-1zm2 0l1-1 1 1v2l-1 1-1-1zm3 3l1-1 1 1v2l-1 1-1-1zm1 3l1-1 1 1v2l-1 1-1-1zm-5 3l1-1 1 1v2l-1 1-1-1zm4 0l1-1 1 1v2l-1 1-1-1zm6 0l1-1 1 1v2l-1 1-1-1zm1 3l1-1 1 1v2l-1 1-1-1zm-23 3l1-1 1 1v2l-1 1-1-1zm22 0l1-1 1 1v2l-1 1-1-1zm6 0l1-1 1 1v2l-1 1-1-1zm-9 3l1-1 1 1v2l-1 1-1-1zm8 0l1-1 1 1v2l-1 1-1-1zm2 0l1-1 1 1v2l-1 1-1-1zm-5 3l1-1 1 1v2l-1 1-1-1zm-1 3l1-1 1 1v2l-1 1-1-1zm-16 12l1-1 1 1v2l-1 1-1-1zm17 3l1-1 1 1v2l-1 1-1-1zm14 0l1-1 1 1v2l-1 1-1-1zm-3 3l1-1 1 1v2l-1 1-1-1zm4 0l1-1 1 1v2l-1 1-1-1zm-3 3l1-1 1 1v2l-1 1-1-1zm2 0l1-1 1 1v2l-1 1-1-1zm-17 3l1-1 1 1v2l-1 1-1-1zm16 0l1-1 1 1v2l-1 1-1-1zm8 6l1-1 1 1v2l-1 1-1-1zm-7 3l1-1 1 1v2l-1 1-1-1zm6 0l1-1 1 1v2l-1 1-1-1zm2 0l1-1 1 1v2l-1 1-1-1zm-51 9l1-1 1 1v2l-1 1-1-1zm51 3l1-1 1 1v2l-1 1-1-1zm2 0l1-1 1 1v2l-1 1-1-1zm6 0l1-1 1 1v2l-1 1-1-1zm-5 3l1-1 1 1v2l-1 1-1-1zm4 0l1-1 1 1v2l-1 1-1-1zm3 3l1-1 1 1v2l-1 1-1-1zm4 0l1-1 1 1v2l-1 1-1-1zm-9 3l1-1 1 1v2l-1 1-1-1zm2 0l1-1 1 1v2l-1 1-1-1zm6 0l1-1 1 1v2l-1 1-1-1zm-7 3l1-1 1 1v2l-1 1-1-1zm2 0l1-1 1 1v2l-1 1-1-1zm2 0l1-1 1 1v2l-1 1-1-1zm6 0l1-1 1 1v2l-1 1-1-1zm4 0l1-1 1 1v2l-1 1-1-1zm-1 3l1-1 1 1v2l-1 1-1-1z"/><path fill="#3184c4" d="M1 5l1-1 1 1v2l-1 1-1-1zm13 27l1-1 1 1v2l-1 1-1-1zm2 0l1-1 1 1v2l-1 1-1-1zm1 3l1-1 1 1v2l-1 1-1-1zm2 6l1-1 1 1v2l-1 1-1-1zm4 6l1-1 1 1v2l-1 1-1-1zm4 6l1-1 1 1v2l-1 1-1-1zm4 0l1-1 1 1v2l-1 1-1-1zm7 21l1-1 1 1v2l-1 1-1-1zm2 0l1-1 1 1v2l-1 1-1-1zm-1 3l1-1 1 1v2l-1 1-1-1zm2 0l1-1 1 1v2l-1 1-1-1zm8 6l1-1 1 1v2l-1 1-1-1zm-5 3l1-1 1 1v2l-1 1-1-1zm16 18l1-1 1 1v2l-1 1-1-1zm-7 3l1-1 1 1v2l-1 1-1-1zm2 0l1-1 1 1v2l-1 1-1-1zm1 3l1-1 1 1v2l-1 1-1-1zm2 0l1-1 1 1v2l-1 1-1-1zm5 3l1-1 1 1v2l-1 1-1-1zm-3 3l1-1 1 1v2l-1 1-1-1zm1 3l1-1 1 1v2l-1 1-1-1zm3 9l1-1 1 1v2l-1 1-1-1zm6 6l1-1 1 1v2l-1 1-1-1zm7 3l1-1 1 1v2l-1 1-1-1zm5 3l1-1 1 1v2l-1 1-1-1zm-3 3l1-1 1 1v2l-1 1-1-1zm-3 3l1-1 1 1v2l-1 1-1-1zm4 0l1-1 1 1v2l-1 1-1-1zm2 0l1-1 1 1v2l-1 1-1-1zm1 9l1-1 1 1v2l-1 1-1-1zm4 0l1-1 1 1v2l-1 1-1-1zm1 3l1-1 1 1v2l-1 1-1-1zm-1 3l1-1 1 1v2l-1 1-1-1zm2 6l1-1 1 1v2l-1 1-1-1zm2 0l1-1 1 1v2l-1 1-1-1zm2 0l1-1 1 1v2l-1 1-1-1zm-7 3l1-1 1 1v2l-1 1-1-1zm6 6l1-1 1 1v2l-1 1-1-1zm6 0l1-1 1 1v2l-1 1-1-1zm2 6l1-1 1 1v2l-1 1-1-1zm3 3l1-1 1 1v2l-1 1-1-1zm1 9l1-1 1 1v2l-1 1-1-1zm6 0l1-1 1 1v2l-1 1-1-1zm-3 3l1-1 1 1v2l-1 1-1-1zm6 18l1-1 1 1v2l-1 1-1-1zm6 0l1-1 1 1v2l-1 1-1-1zm2 0l1-1 1 1v2l-1 1-1-1zm4 0l1-1 1 1v2l-1 1-1-1zm-3 3l1-1 1 1v2l-1 1-1-1zm1 3l1-1 1 1v2l-1 1-1-1zm-1 3l1-1 1 1v2l-1 1-1-1zm12 12l1-1 1 1v2l-1 1-1-1zm-1 3l1-1 1 1v2l-1 1-1-1zm6 0l1-1 1 1v2l-1 1-1-1zm-5 3l1-1 1 1v2l-1 1-1-1zm7 9l1-1 1 1v2l-1 1-1-1zm5 9l1-1 1 1v2l-1 1-1-1zm7 3l1-1 1 1v2l-1 1-1-1zm-5 3l1-1 1 1v2l-1 1-1-1zm4 0l1-1 1 1v2l-1 1-1-1zm6 6l1-1 1 1v2l-1 1-1-1zm-17 3l1-1 1 1v2l-1 1-1-1zm16 0l1-1 1 1v2l-1 1-1-1zm2 0l1-1 1 1v2l-1 1-1-1zm2 6l1-1 1 1v2l-1 1-1-1zm2 0l1-1 1 1v2l-1 1-1-1zm-5 3l1-1 1 1v2l-1 1-1-1zm4 0l1-1 1 1v2l-1 1-1-1zm2 0l1-1 1 1v2l-1 1-1-1zm4 6l1-1 1 1v2l-1 1-1-1zm3 3l1-1 1 1v2l-1 1-1-1zm-9 3l1-1 1 1v2l-1 1-1-1zm8 0l1-1 1 1v2l-1 1-1-1zm-11 3l1-1 1 1v2l-1 1-1-1zm12 0l1-1 1 1v2l-1 1-1-1zm5 3l1-1 1 1v2l-1 1-1-1zm-4 6l1-1 1 1v2l-1 1-1-1zm2 0l1-1 1 1v2l-1 1-1-1zm4 0l1-1 1 1v2l-1 1-1-1zm-3 3l1-1 1 1v2l-1 1-1-1zm5 3l1-1 1 1v2l-1 1-1-1zm2 0l1-1 1 1v2l-1 1-1-1zm-6 6l1-1 1 1v2l-1 1-1-1zm8 6l1-1 1 1v2l-1 1-1-1zm2 0l1-1 1 1v2l-1 1-1-1zm4 0l1-1 1 1v2l-1 1-1-1zm-10 6l1-1 1 1v2l-1 1-1-1zm8 6l1-1 1 1v2l-1 1-1-1zm7 3l1-1 1 1v2l-1 1-1-1zm2 6l1-1 1 1v2l-1 1-1-1zm7 9l1-1 1 1v2l-1 1-1-1zm-3 3l1-1 1 1v2l-1 1-1-1zm-9 9l1-1 1 1v2l-1 1-1-1zm18 0l1-1 1 1v2l-1 1-1-1zm3 3l1-1 1 1v2l-1 1-1-1zm-6 6l1-1 1 1v2l-1 1-1-1zm6 0l1-1 1 1v2l-1 1-1-1zm6 0l1-1 1 1v2l-1 1-1-1zm5 9l1-1 1 1v2l-1 1-1-1zm1 3l1-1 1 1v2l-1 1-1-1zm-1 3l1-1 1 1v2l-1 1-1-1zm2 0l1-1 1 1v2l-1 1-1-1zm-8 12l1-1 1 1v2l-1 1-1-1zm15 3l1-1 1 1v2l-1 1-1-1zm4 6l1-1 1 1v2l-1 1-1-1zm6 6l1-1 1 1v2l-1 1-1-1zm-22 6l1-1 1 1v2l-1 1-1-1zm12 6l1-1 1 1v2l-1 1-1-1zm18 6l1-1 1 1v2l-1 1-1-1zm1 3l1-1 1 1v2l-1 1-1-1zm-3 3l1-1 1 1v2l-1 1-1-1zm4 0l1-1 1 1v2l-1 1-1-1zm3 3l1-1 1 1v2l-1 1-1-1zm2 0l1-1 1 1v2l-1 1-1-1zm7 15l1-1 1 1v2l-1 1-1-1zm3 3l1-1 1 1v2l-1 1-1-1zm1 9l1-1 1 1v2l-1 1-1-1zm7 3l1-1 1 1v2l-1 1-1-1zm0 6l1-1 1 1v2l-1 1-1-1zm3 9l1-1 1 1v2l-1 1-1-1zm2 0l1-1 1 1v2l-1 1-1-1zm8 6l1-1 1 1v2l-1 1-1-1zm-1 3l1-1 1 1v2l-1 1-1-1zm3 3l1-1 1 1v2l-1 1-1-1zm2 0l1-1 1 1v2l-1 1-1-1zm-1 9l1-1 1 1v2l-1 1-1-1zm4 0l1-1 1 1v2l-1 1-1-1z"/><path fill="#299ecf" d="M0 2l1-1 1 1v2l-1 1-1-1zm7 9l1-1 1 1v2l-1 1-1-1zm2 12l1-1 1 1v2l-1 1-1-1zm12 12l1-1 1 1v2l-1 1-1-1zm-3 3l1-1 1 1v2l-1 1-1-1zm8 6l1-1 1 1v2l-1 1-1-1zm-2 6l1-1 1 1v2l-1 1-1-1zm3 9l1-1 1 1v2l-1 1-1-1zm8 12l1-1 1 1v2l-1 1-1-1zm10 6l1-1 1 1v2l-1 1-1-1zm-2 6l1-1 1 1v2l-1 1-1-1zm5 9l1-1 1 1v2l-1 1-1-1zm2 0l1-1 1 1v2l-1 1-1-1zm7 9l1-1 1 1v2l-1 1-1-1zm-3 3l1-1 1 1v2l-1 1-1-1zm2 0l1-1 1 1v2l-1 1-1-1zm1 3l1-1 1 1v2l-1 1-1-1zm4 6l1-1 1 1v2l-1 1-1-1zm8 6l1-1 1 1v2l-1 1-1-1zm-1 3l1-1 1 1v2l-1 1-1-1zm4 6l1-1 1 1v2l-1 1-1-1zm0 6l1-1 1 1v2l-1 1-1-1zm2 0l1-1 1 1v2l-1 1-1-1zm4 0l1-1 1 1v2l-1 1-1-1zm6 12l1-1 1 1v2l-1 1-1-1zm-12 6l1-1 1 1v2l-1 1-1-1zm18 6l1-1 1 1v2l-1 1-1-1zm1 3l1-1 1 1v2l-1 1-1-1zm-4 6l1-1 1 1v2l-1 1-1-1zm14 12l1-1 1 1v2l-1 1-1-1zm3 9l1-1 1 1v2l-1 1-1-1zm2 0l1-1 1 1v2l-1 1-1-1zm5 3l1-1 1 1v2l-1 1-1-1zm-2 6l1-1 1 1v2l-1 1-1-1zm2 0l1-1 1 1v2l-1 1-1-1zm-9 3l1-1 1 1v2l-1 1-1-1zm8 0l1-1 1 1v2l-1 1-1-1zm5 3l1-1 1 1v2l-1 1-1-1zm2 0l1-1 1 1v2l-1 1-1-1zm7 15l1-1 1 1v2l-1 1-1-1zm0 6l1-1 1 1v2l-1 1-1-1zm9 9l1-1 1 1v2l-1 1-1-1zm-3 3l1-1 1 1v2l-1 1-1-1zm8 6l1-1 1 1v2l-1 1-1-1zm-1 3l1-1 1 1v2l-1 1-1-1zm3 3l1-1 1 1v2l-1 1-1-1zm2 0l1-1 1 1v2l-1 1-1-1zm4 6l1-1 1 1v2l-1 1-1-1zm3 3l1-1 1 1v2l-1 1-1-1zm-2 6l1-1 1 1v2l-1 1-1-1zm4 6l1-1 1 1v2l-1 1-1-1zm7 9l1-1 1 1v2l-1 1-1-1zm8 12l1-1 1 1v2l-1 1-1-1zm3 15l1-1 1 1v2l-1 1-1-1zm8 6l1-1 1 1v2l-1 1-1-1zm4 0l1-1 1 1v2l-1 1-1-1zm-2 18l1-1 1 1v2l-1 1-1-1zm11 3l1-1 1 1v2l-1 1-1-1zm3 3l1-1 1 1v2l-1 1-1-1zm-1 9l1-1 1 1v2l-1 1-1-1zm9 3l1-1 1 1v2l-1 1-1-1zm-1 3l1-1 1 1v2l-1 1-1-1zm3 3l1-1 1 1v2l-1 1-1-1zm2 0l1-1 1 1v2l-1 1-1-1zm-3 3l1-1 1 1v2l-1 1-1-1zm7 3l1-1 1 1v2l-1 1-1-1zm-4 6l1-1 1 1v2l-1 1-1-1zm6 0l1-1 1 1v2l-1 1-1-1zm3 3l1-1 1 1v2l-1 1-1-1zm-3 3l1-1 1 1v2l-1 1-1-1zm4 6l1-1 1 1v2l-1 1-1-1zm2 0l1-1 1 1v2l-1 1-1-1zm5 9l1-1 1 1v2l-1 1-1-1zm-3 3l1-1 1 1v2l-1 1-1-1zm4 0l1-1 1 1v2l-1 1-1-1zm10 12l1-1 1 1v2l-1 1-1-1zm-7 3l1-1 1 1v2l-1 1-1-1zm6 0l1-1 1 1v2l-1 1-1-1zm3 3l1-1 1 1v2l-1 1-1-1zm1 3l1-1 1 1v2l-1 1-1-1zm8 12l1-1 1 1v2l-1 1-1-1zm4 6l1-1 1 1v2l-1 1-1-1zm2 6l1-1 1 1v2l-1 1-1-1zm-12 12l1-1 1 1v2l-1 1-1-1zm22 6l1-1 1 1v2l-1 1-1-1zm2 0l1-1 1 1v2l-1 1-1-1zm5 15l1-1 1 1v2l-1 1-1-1zm13 15l1-1 1 1v2l-1 1-1-1zm-5 3l1-1 1 1v2l-1 1-1-1zm8 6l1-1 1 1v2l-1 1-1-1zm2 0l1-1 1 1v2l-1 1-1-1zm1 3l1-1 1 1v2l-1 1-1-1zm-1 3l1-1 1 1v2l-1 1-1-1zm2 0l1-1 1 1v2l-1 1-1-1zm0 6l1-1 1 1v2l-1 1-1-1z"/><path fill="#3daec2" d="M8 14l1-1 1 1v2l-1 1-1-1zm1 3l1-1 1 1v2l-1 1-1-1zm12 24l1-1 1 1v2l-1 1-1-1zm1 3l1-1 1 1v2l-1 1-1-1zm23 39l1-1 1 1v2l-1 1-1-1zm9 9l1-1 1 1v2l-1 1-1-1zm11 27l1-1 1 1v2l-1 1-1-1zm5 9l1-1 1 1v2l-1 1-1-1zm13 21l1-1 1 1v2l-1 1-1-1zm5 3l1-1 1 1v2l-1 1-1-1zm4 12l1-1 1 1v2l-1 1-1-1zm3 3l1-1 1 1v2l-1 1-1-1zm8 12l1-1 1 1v2l-1 1-1-1zm1 3l1-1 1 1v2l-1 1-1-1zm8 18l1-1 1 1v2l-1 1-1-1zm2 0l1-1 1 1v2l-1 1-1-1zm2 0l1-1 1 1v2l-1 1-1-1zm3 9l1-1 1 1v2l-1 1-1-1zm9 15l1-1 1 1v2l-1 1-1-1zm0 6l1-1 1 1v2l-1 1-1-1zm4 0l1-1 1 1v2l-1 1-1-1zm3 3l1-1 1 1v2l-1 1-1-1zm0 6l1-1 1 1v2l-1 1-1-1zm13 21l1-1 1 1v2l-1 1-1-1zm1 3l1-1 1 1v2l-1 1-1-1zm5 3l1-1 1 1v2l-1 1-1-1zm-1 3l1-1 1 1v2l-1 1-1-1zm2 0l1-1 1 1v2l-1 1-1-1zm0 6l1-1 1 1v2l-1 1-1-1zm5 3l1-1 1 1v2l-1 1-1-1zm-1 3l1-1 1 1v2l-1 1-1-1zm8 6l1-1 1 1v2l-1 1-1-1zm0 6l1-1 1 1v2l-1 1-1-1zm6 6l1-1 1 1v2l-1 1-1-1zm6 12l1-1 1 1v2l-1 1-1-1zm2 6l1-1 1 1v2l-1 1-1-1zm4 6l1-1 1 1v2l-1 1-1-1zm13 21l1-1 1 1v2l-1 1-1-1zm8 12l1-1 1 1v2l-1 1-1-1zm0 6l1-1 1 1v2l-1 1-1-1zm6 6l1-1 1 1v2l-1 1-1-1zm4 6l1-1 1 1v2l-1 1-1-1zm4 12l1-1 1 1v2l-1 1-1-1zm8 12l1-1 1 1v2l-1 1-1-1zm3 3l1-1 1 1v2l-1 1-1-1zm30 54l1-1 1 1v2l-1 1-1-1zm2 0l1-1 1 1v2l-1 1-1-1zm-1 3l1-1 1 1v2l-1 1-1-1zm10 12l1-1 1 1v2l-1 1-1-1zm6 12l1-1 1 1v2l-1 1-1-1zm4 6l1-1 1 1v2l-1 1-1-1zm13 21l1-1 1 1v2l-1 1-1-1z"/><path fill="#4ab2ba" d="M36 62l1-1 1 1v2l-1 1-1-1zm-2 6l1-1 1 1v2l-1 1-1-1zm10 12l1-1 1 1v2l-1 1-1-1zm7 15l1-1 1 1v2l-1 1-1-1zm5 3l1-1 1 1v2l-1 1-1-1zm5 9l1-1 1 1v2l-1 1-1-1zm3 3l1-1 1 1v2l-1 1-1-1zm1 3l1-1 1 1v2l-1 1-1-1zm-1 3l1-1 1 1v2l-1 1-1-1zm3 9l1-1 1 1v2l-1 1-1-1zm2 0l1-1 1 1v2l-1 1-1-1zm14 18l1-1 1 1v2l-1 1-1-1zm10 18l1-1 1 1v2l-1 1-1-1zm9 15l1-1 1 1v2l-1 1-1-1zm7 15l1-1 1 1v2l-1 1-1-1zm-1 3l1-1 1 1v2l-1 1-1-1zm5 3l1-1 1 1v2l-1 1-1-1zm8 12l1-1 1 1v2l-1 1-1-1zm1 3l1-1 1 1v2l-1 1-1-1zm-2 6l1-1 1 1v2l-1 1-1-1zm6 0l1-1 1 1v2l-1 1-1-1zm-1 3l1-1 1 1v2l-1 1-1-1zm5 9l1-1 1 1v2l-1 1-1-1zm13 21l1-1 1 1v2l-1 1-1-1zm2 0l1-1 1 1v2l-1 1-1-1zm0 6l1-1 1 1v2l-1 1-1-1zm5 3l1-1 1 1v2l-1 1-1-1zm1 3l1-1 1 1v2l-1 1-1-1zm23 39l1-1 1 1v2l-1 1-1-1zm3 3l1-1 1 1v2l-1 1-1-1zm-1 3l1-1 1 1v2l-1 1-1-1zm88 150l1-1 1 1v2l-1 1-1-1zm3 3l1-1 1 1v2l-1 1-1-1zm5 15l1-1 1 1v2l-1 1-1-1zm5 3l1-1 1 1v2l-1 1-1-1zm12 24l1-1 1 1v2l-1 1-1-1zm4 6l1-1 1 1v2l-1 1-1-1z"/><path fill="#57b5b2" d="M17 29l1-1 1 1v2l-1 1-1-1zm18 36l1-1 1 1v2l-1 1-1-1zm11 21l1-1 1 1v2l-1 1-1-1zm7 9l1-1 1 1v2l-1 1-1-1zm6 12l1-1 1 1v2l-1 1-1-1zm8 12l1-1 1 1v2l-1 1-1-1zm7 9l1-1 1 1v2l-1 1-1-1zm-1 3l1-1 1 1v2l-1 1-1-1zm2 0l1-1 1 1v2l-1 1-1-1zm25 45l1-1 1 1v2l-1 1-1-1zm6 6l1-1 1 1v2l-1 1-1-1zm6 12l1-1 1 1v2l-1 1-1-1zm6 12l1-1 1 1v2l-1 1-1-1zm9 15l1-1 1 1v2l-1 1-1-1zm-1 3l1-1 1 1v2l-1 1-1-1zm5 3l1-1 1 1v2l-1 1-1-1zm6 12l1-1 1 1v2l-1 1-1-1zm19 33l1-1 1 1v2l-1 1-1-1zm27 45l1-1 1 1v2l-1 1-1-1zm-1 3l1-1 1 1v2l-1 1-1-1zm14 18l1-1 1 1v2l-1 1-1-1zm22 42l1-1 1 1v2l-1 1-1-1zm3 3l1-1 1 1v2l-1 1-1-1zm19 33l1-1 1 1v2l-1 1-1-1zm0 6l1-1 1 1v2l-1 1-1-1z"/><path fill="#65b7aa" d="M4 8l1-1 1 1v2l-1 1-1-1zm16 30l1-1 1 1v2l-1 1-1-1zm6 12l1-1 1 1v2l-1 1-1-1zm12 18l1-1 1 1v2l-1 1-1-1zm3 3l1-1 1 1v2l-1 1-1-1zm14 24l1-1 1 1v2l-1 1-1-1zm26 48l1-1 1 1v2l-1 1-1-1zm8 12l1-1 1 1v2l-1 1-1-1zm7 15l1-1 1 1v2l-1 1-1-1zm2 0l1-1 1 1v2l-1 1-1-1zm-3 3l1-1 1 1v2l-1 1-1-1zm2 0l1-1 1 1v2l-1 1-1-1zm72 120l1-1 1 1v2l-1 1-1-1zm19 33l1-1 1 1v2l-1 1-1-1zm57 99l1-1 1 1v2l-1 1-1-1zm29 51l1-1 1 1v2l-1 1-1-1z"/><path fill="#6dbaa6" d="M5 11l1-1 1 1v2l-1 1-1-1zm1 3l1-1 1 1v2l-1 1-1-1zm4 6l1-1 1 1v2l-1 1-1-1zm15 27l1-1 1 1v2l-1 1-1-1zm5 9l1-1 1 1v2l-1 1-1-1zm1 3l1-1 1 1v2l-1 1-1-1zm8 12l1-1 1 1v2l-1 1-1-1zm11 15l1-1 1 1v2l-1 1-1-1zm2 6l1-1 1 1v2l-1 1-1-1zm2 6l1-1 1 1v2l-1 1-1-1zm4 6l1-1 1 1v2l-1 1-1-1zm2 6l1-1 1 1v2l-1 1-1-1zm39 63l1-1 1 1v2l-1 1-1-1zm6 12l1-1 1 1v2l-1 1-1-1zm102 174l1-1 1 1v2l-1 1-1-1z"/><path fill="#73bda3" d="M22 38l1-1 1 1v2l-1 1-1-1zm5 9l1-1 1 1v2l-1 1-1-1zm2 6l1-1 1 1v2l-1 1-1-1zm17 27l1-1 1 1v2l-1 1-1-1zm30 54l1-1 1 1v2l-1 1-1-1zm4 6l1-1 1 1v2l-1 1-1-1zm6 12l1-1 1 1v2l-1 1-1-1zm37 63l1-1 1 1v2l-1 1-1-1z"/><path fill="#7abfa1" d="M13 23l1-1 1 1v2l-1 1-1-1zm1 3l1-1 1 1v2l-1 1-1-1zm1 3l1-1 1 1v2l-1 1-1-1zm17 27l1-1 1 1v2l-1 1-1-1zm1 3l1-1 1 1v2l-1 1-1-1zm1 3l1-1 1 1v2l-1 1-1-1zm8 12l1-1 1 1v2l-1 1-1-1zm1 3l1-1 1 1v2l-1 1-1-1zm4 6l1-1 1 1v2l-1 1-1-1zm1 3l1-1 1 1v2l-1 1-1-1zm3 3l1-1 1 1v2l-1 1-1-1zm11 21l1-1 1 1v2l-1 1-1-1zm4 6l1-1 1 1v2l-1 1-1-1zm4 6l1-1 1 1v2l-1 1-1-1zm1 3l1-1 1 1v2l-1 1-1-1zm14 24l1-1 1 1v2l-1 1-1-1zm9 15l1-1 1 1v2l-1 1-1-1zm14 24l1-1 1 1v2l-1 1-1-1zm57 99l1-1 1 1v2l-1 1-1-1zm108 186l1-1 1 1v2l-1 1-1-1z"/><path fill="#7ec29e" d="M19 35l1-1 1 1v2l-1 1-1-1zm4 6l1-1 1 1v2l-1 1-1-1zm5 9l1-1 1 1v2l-1 1-1-1zm9 15l1-1 1 1v2l-1 1-1-1zm12 24l1-1 1 1v2l-1 1-1-1z"/><path fill="#86c69a" d="M18 32l1-1 1 1v2l-1 1-1-1zm6 12l1-1 1 1v2l-1 1-1-1z"/></g></g><linearGradient id="sg673" gradientUnits="userSpaceOnUse" x1="36.70" y1="513.90" x2="244.00" y2="306.30"><stop offset="0.0033" stop-color="#de4c3d" stop-opacity="1.00"/><stop offset="0.0100" stop-color="#dd483b" stop-opacity="1.00"/><stop offset="0.0167" stop-color="#e05440" stop-opacity="1.00"/><stop offset="0.0233" stop-color="#d93734" stop-opacity="1.00"/><stop offset="0.0300" stop-color="#d83232" stop-opacity="1.00"/><stop offset="0.0367" stop-color="#d93533" stop-opacity="1.00"/><stop offset="0.0433" stop-color="#d73030" stop-opacity="1.00"/><stop offset="0.0500" stop-color="#d73030" stop-opacity="1.00"/><stop offset="0.0567" stop-color="#d73131" stop-opacity="1.00"/><stop offset="0.0633" stop-color="#d73030" stop-opacity="1.00"/><stop offset="0.0700" stop-color="#d83131" stop-opacity="1.00"/><stop offset="0.0767" stop-color="#d73131" stop-opacity="1.00"/><stop offset="0.0833" stop-color="#d83332" stop-opacity="1.00"/><stop offset="0.0900" stop-color="#d83232" stop-opacity="1.00"/><stop offset="0.0967" stop-color="#d83131" stop-opacity="1.00"/><stop offset="0.1033" stop-color="#d83232" stop-opacity="1.00"/><stop offset="0.1100" stop-color="#dd493b" stop-opacity="1.00"/><stop offset="0.1167" stop-color="#e15841" stop-opacity="1.00"/><stop offset="0.1233" stop-color="#e36145" stop-opacity="1.00"/><stop offset="0.1300" stop-color="#ee965c" stop-opacity="1.00"/><stop offset="0.1367" stop-color="#d3b373" stop-opacity="1.00"/><stop offset="0.1433" stop-color="#ceb777" stop-opacity="1.00"/><stop offset="0.1500" stop-color="#ccb979" stop-opacity="1.00"/><stop offset="0.1567" stop-color="#c9bb7b" stop-opacity="1.00"/><stop offset="0.1633" stop-color="#b5c989" stop-opacity="1.00"/><stop offset="0.1700" stop-color="#b8c888" stop-opacity="1.00"/><stop offset="0.1767" stop-color="#adcc8c" stop-opacity="1.00"/><stop offset="0.1833" stop-color="#87c799" stop-opacity="1.00"/><stop offset="0.1900" stop-color="#80c39d" stop-opacity="1.00"/><stop offset="0.1967" stop-color="#71bba5" stop-opacity="1.00"/><stop offset="0.2033" stop-color="#87c799" stop-opacity="1.00"/><stop offset="0.2100" stop-color="#7bc0a0" stop-opacity="1.00"/><stop offset="0.2167" stop-color="#82c49c" stop-opacity="1.00"/><stop offset="0.2233" stop-color="#80c39d" stop-opacity="1.00"/><stop offset="0.2300" stop-color="#7dc19f" stop-opacity="1.00"/><stop offset="0.2367" stop-color="#7fc29e" stop-opacity="1.00"/><stop offset="0.2433" stop-color="#5db6ae" stop-opacity="1.00"/><stop offset="0.2500" stop-color="#74bda3" stop-opacity="1.00"/><stop offset="0.2567" stop-color="#71bba5" stop-opacity="1.00"/><stop offset="0.2633" stop-color="#71bba5" stop-opacity="1.00"/><stop offset="0.2700" stop-color="#71bba5" stop-opacity="1.00"/><stop offset="0.2767" stop-color="#52b4b5" stop-opacity="1.00"/><stop offset="0.2833" stop-color="#6cbaa6" stop-opacity="1.00"/><stop offset="0.2900" stop-color="#68b8a8" stop-opacity="1.00"/><stop offset="0.2967" stop-color="#74bda3" stop-opacity="1.00"/><stop offset="0.3033" stop-color="#4355a0" stop-opacity="1.00"/><stop offset="0.3100" stop-color="#52b4b5" stop-opacity="1.00"/><stop offset="0.3167" stop-color="#44b1bd" stop-opacity="1.00"/><stop offset="0.3233" stop-color="#68b8a8" stop-opacity="1.00"/><stop offset="0.3300" stop-color="#37aac6" stop-opacity="1.00"/><stop offset="0.3367" stop-color="#37aac6" stop-opacity="1.00"/><stop offset="0.3433" stop-color="#44b1bd" stop-opacity="1.00"/><stop offset="0.3500" stop-color="#37aac6" stop-opacity="1.00"/><stop offset="0.3567" stop-color="#3773b3" stop-opacity="1.00"/><stop offset="0.3633" stop-color="#52b4b5" stop-opacity="1.00"/><stop offset="0.3700" stop-color="#2f8ac9" stop-opacity="1.00"/><stop offset="0.3767" stop-color="#52b4b5" stop-opacity="1.00"/><stop offset="0.3833" stop-color="#4355a0" stop-opacity="1.00"/><stop offset="0.3900" stop-color="#5848a0" stop-opacity="0.80"/><stop offset="0.3967" stop-color="#3773b3" stop-opacity="1.00"/><stop offset="0.4033" stop-color="#5848a0" stop-opacity="0.00"/><stop offset="0.4100" stop-color="#2f8ac9" stop-opacity="1.00"/><stop offset="0.4167" stop-color="#2f8ac9" stop-opacity="1.00"/><stop offset="0.4233" stop-color="#4355a0" stop-opacity="1.00"/><stop offset="0.4300" stop-color="#2f8ac9" stop-opacity="1.00"/><stop offset="0.4367" stop-color="#28a0d0" stop-opacity="1.00"/><stop offset="0.4433" stop-color="#4355a0" stop-opacity="1.00"/><stop offset="0.4500" stop-color="#4355a0" stop-opacity="1.00"/><stop offset="0.4567" stop-color="#4355a0" stop-opacity="1.00"/><stop offset="0.4633" stop-color="#28a0d0" stop-opacity="1.00"/><stop offset="0.4700" stop-color="#3773b3" stop-opacity="1.00"/><stop offset="0.4767" stop-color="#2f8ac9" stop-opacity="1.00"/><stop offset="0.4833" stop-color="#2f8ac9" stop-opacity="1.00"/><stop offset="0.4900" stop-color="#2f8ac9" stop-opacity="1.00"/><stop offset="0.4967" stop-color="#2f8ac9" stop-opacity="1.00"/><stop offset="0.5033" stop-color="#37aac6" stop-opacity="1.00"/><stop offset="0.5100" stop-color="#5db6ae" stop-opacity="1.00"/><stop offset="0.5167" stop-color="#28a0d0" stop-opacity="1.00"/><stop offset="0.5233" stop-color="#3773b3" stop-opacity="1.00"/><stop offset="0.5300" stop-color="#3773b3" stop-opacity="1.00"/><stop offset="0.5367" stop-color="#4355a0" stop-opacity="1.00"/><stop offset="0.5433" stop-color="#2f8ac9" stop-opacity="1.00"/><stop offset="0.5500" stop-color="#2f8ac9" stop-opacity="1.00"/><stop offset="0.5567" stop-color="#5848a0" stop-opacity="0.80"/><stop offset="0.5633" stop-color="#4355a0" stop-opacity="1.00"/><stop offset="0.5700" stop-color="#5848a0" stop-opacity="0.80"/><stop offset="0.5767" stop-color="#3773b3" stop-opacity="1.00"/><stop offset="0.5833" stop-color="#4355a0" stop-opacity="1.00"/><stop offset="0.5900" stop-color="#4355a0" stop-opacity="1.00"/><stop offset="0.5967" stop-color="#3773b3" stop-opacity="1.00"/><stop offset="0.6033" stop-color="#3773b3" stop-opacity="1.00"/><stop offset="0.6100" stop-color="#3773b3" stop-opacity="1.00"/><stop offset="0.6167" stop-color="#3773b3" stop-opacity="1.00"/><stop offset="0.6233" stop-color="#28a0d0" stop-opacity="1.00"/><stop offset="0.6300" stop-color="#4355a0" stop-opacity="1.00"/><stop offset="0.6367" stop-color="#3773b3" stop-opacity="1.00"/><stop offset="0.6433" stop-color="#5848a0" stop-opacity="0.80"/><stop offset="0.6500" stop-color="#3773b3" stop-opacity="1.00"/><stop offset="0.6567" stop-color="#3773b3" stop-opacity="1.00"/><stop offset="0.6633" stop-color="#28a0d0" stop-opacity="1.00"/><stop offset="0.6700" stop-color="#5848a0" stop-opacity="0.80"/><stop offset="0.6767" stop-color="#5848a0" stop-opacity="0.80"/><stop offset="0.6833" stop-color="#2f8ac9" stop-opacity="1.00"/><stop offset="0.6900" stop-color="#5848a0" stop-opacity="0.80"/><stop offset="0.6967" stop-color="#5848a0" stop-opacity="0.80"/><stop offset="0.7033" stop-color="#28a0d0" stop-opacity="1.00"/><stop offset="0.7100" stop-color="#28a0d0" stop-opacity="1.00"/><stop offset="0.7167" stop-color="#2f8ac9" stop-opacity="1.00"/><stop offset="0.7233" stop-color="#3773b3" stop-opacity="1.00"/><stop offset="0.7300" stop-color="#4355a0" stop-opacity="1.00"/><stop offset="0.7367" stop-color="#3773b3" stop-opacity="1.00"/><stop offset="0.7433" stop-color="#4355a0" stop-opacity="1.00"/><stop offset="0.7500" stop-color="#5848a0" stop-opacity="0.80"/><stop offset="0.7567" stop-color="#5848a0" stop-opacity="0.00"/><stop offset="0.7633" stop-color="#3773b3" stop-opacity="1.00"/><stop offset="0.7700" stop-color="#5848a0" stop-opacity="0.80"/><stop offset="0.7767" stop-color="#5848a0" stop-opacity="0.80"/><stop offset="0.7833" stop-color="#2f8ac9" stop-opacity="1.00"/><stop offset="0.7900" stop-color="#2f8ac9" stop-opacity="1.00"/><stop offset="0.7967" stop-color="#3773b3" stop-opacity="1.00"/><stop offset="0.8033" stop-color="#2f8ac9" stop-opacity="1.00"/><stop offset="0.8100" stop-color="#37aac6" stop-opacity="1.00"/><stop offset="0.8167" stop-color="#3773b3" stop-opacity="1.00"/><stop offset="0.8233" stop-color="#2f8ac9" stop-opacity="1.00"/><stop offset="0.8300" stop-color="#4355a0" stop-opacity="1.00"/><stop offset="0.8367" stop-color="#3773b3" stop-opacity="1.00"/><stop offset="0.8433" stop-color="#3773b3" stop-opacity="1.00"/><stop offset="0.8500" stop-color="#5848a0" stop-opacity="0.00"/><stop offset="0.8567" stop-color="#5848a0" stop-opacity="0.80"/><stop offset="0.8633" stop-color="#3773b3" stop-opacity="1.00"/><stop offset="0.8700" stop-color="#3773b3" stop-opacity="1.00"/><stop offset="0.8767" stop-color="#28a0d0" stop-opacity="1.00"/><stop offset="0.8833" stop-color="#3773b3" stop-opacity="1.00"/><stop offset="0.8900" stop-color="#4355a0" stop-opacity="1.00"/><stop offset="0.8967" stop-color="#37aac6" stop-opacity="1.00"/><stop offset="0.9033" stop-color="#5848a0" stop-opacity="0.00"/><stop offset="0.9100" stop-color="#28a0d0" stop-opacity="1.00"/><stop offset="0.9167" stop-color="#2f8ac9" stop-opacity="1.00"/><stop offset="0.9233" stop-color="#4355a0" stop-opacity="1.00"/><stop offset="0.9300" stop-color="#5848a0" stop-opacity="0.80"/><stop offset="0.9367" stop-color="#4355a0" stop-opacity="1.00"/><stop offset="0.9433" stop-color="#3773b3" stop-opacity="1.00"/><stop offset="0.9500" stop-color="#2f8ac9" stop-opacity="1.00"/><stop offset="0.9567" stop-color="#4355a0" stop-opacity="1.00"/><stop offset="0.9633" stop-color="#5848a0" stop-opacity="0.80"/><stop offset="0.9700" stop-color="#4355a0" stop-opacity="1.00"/><stop offset="0.9767" stop-color="#5848a0" stop-opacity="0.00"/><stop offset="0.9833" stop-color="#3773b3" stop-opacity="1.00"/><stop offset="0.9900" stop-color="#3773b3" stop-opacity="1.00"/><stop offset="0.9967" stop-color="#4355a0" stop-opacity="1.00"/></linearGradient><path d="M36.52,513.72L243.82,306.12" stroke="url(#sg673)" stroke-width="1.7" fill="none"/>
<path d="M36.70,513.90L244.00,306.30" stroke="#1a1a1a" stroke-width="0.9" stroke-opacity="0.8" fill="none"/>
<path d="M71.25,513.90v-2.5M71.25,306.30v2.5M36.70,479.30h2.5M244.00,479.30h-2.5M105.80,513.90v-2.5M105.80,306.30v2.5M36.70,444.70h2.5M244.00,444.70h-2.5M140.35,513.90v-2.5M140.35,306.30v2.5M36.70,410.10h2.5M244.00,410.10h-2.5M174.90,513.90v-2.5M174.90,306.30v2.5M36.70,375.50h2.5M244.00,375.50h-2.5M209.45,513.90v-2.5M209.45,306.30v2.5M36.70,340.90h2.5M244.00,340.90h-2.5" stroke="#777" stroke-width="0.8" fill="none"/>
<rect x="36.70" y="306.30" width="207.30" height="207.60" fill="none" stroke="#8a8a8a" stroke-width="1.6"/>
<g font-family="'Liberation Sans', sans-serif" font-size="7.8" fill="#1a1a1a"><text x="34.10" y="516.60" text-anchor="end">0</text><text x="36.70" y="522.50" text-anchor="middle">0</text><text x="34.10" y="482.00" text-anchor="end">50</text><text x="71.25" y="522.50" text-anchor="middle">50</text><text x="34.10" y="447.40" text-anchor="end">100</text><text x="105.80" y="522.50" text-anchor="middle">100</text><text x="34.10" y="412.80" text-anchor="end">150</text><text x="140.35" y="522.50" text-anchor="middle">150</text><text x="34.10" y="378.20" text-anchor="end">200</text><text x="174.90" y="522.50" text-anchor="middle">200</text><text x="34.10" y="343.60" text-anchor="end">250</text><text x="209.45" y="522.50" text-anchor="middle">250</text><text x="34.10" y="309.00" text-anchor="end">300</text><text x="244.00" y="522.50" text-anchor="middle">300</text></g>
<rect x="258.80" y="306.30" width="10.70" height="207.60" fill="url(#cg)" stroke="#555" stroke-width="0.8"/>
<path d="M269.50,513.90h-2M269.50,424.26h-2M269.50,334.62h-2" stroke="#333" stroke-width="0.8"/>
<g font-family="'Liberation Sans', sans-serif" font-size="7.8" fill="#1a1a1a"><text x="271.70" y="516.70">10<tspan font-size="5.4" dy="-3.2">0</tspan></text><text x="271.70" y="427.06">10<tspan font-size="5.4" dy="-3.2">1</tspan></text><text x="271.70" y="337.42">10<tspan font-size="5.4" dy="-3.2">2</tspan></text></g>
<path d="M388.58,300.20V507.80M354.00,473.20H561.50M423.17,300.20V507.80M354.00,438.60H561.50M457.75,300.20V507.80M354.00,404.00H561.50M492.33,300.20V507.80M354.00,369.40H561.50M526.92,300.20V507.80M354.00,334.80H561.50" stroke="#bcbcbc" stroke-width="0.9" stroke-dasharray="1 1.1" fill="none"/>
<clipPath id="cp3840"><path d="M353.50,508.30L561.50,299.70L561.50,300.20L354.00,300.20L354.00,507.80z"/></clipPath><g clip-path="url(#cp3840)"><g transform="translate(354.000,507.800) scale(0.69167,-0.40233)"><path fill="#5848a0" d="M5 11l1-1 1 1v2l-1 1-1-1zm0 6l1-1 1 1v2l-1 1-1-1zm2 0l1-1 1 1v2l-1 1-1-1zm1 3l1-1 1 1v2l-1 1-1-1zm4 0l1-1 1 1v2l-1 1-1-1zm1 3l1-1 1 1v2l-1 1-1-1zm-1 3l1-1 1 1v2l-1 1-1-1zm-1 3l1-1 1 1v2l-1 1-1-1zm6 0l1-1 1 1v2l-1 1-1-1zm2 12l1-1 1 1v2l-1 1-1-1zm4 0l1-1 1 1v2l-1 1-1-1zm-1 3l1-1 1 1v2l-1 1-1-1zm1 3l1-1 1 1v2l-1 1-1-1zm5 3l1-1 1 1v2l-1 1-1-1zm2 6l1-1 1 1v2l-1 1-1-1zm5 3l1-1 1 1v2l-1 1-1-1zm1 3l1-1 1 1v2l-1 1-1-1zm-3 3l1-1 1 1v2l-1 1-1-1zm5 3l1-1 1 1v2l-1 1-1-1zm2 0l1-1 1 1v2l-1 1-1-1zm-5 3l1-1 1 1v2l-1 1-1-1zm3 3l1-1 1 1v2l-1 1-1-1zm2 0l1-1 1 1v2l-1 1-1-1zm4 6l1-1 1 1v2l-1 1-1-1zm3 3l1-1 1 1v2l-1 1-1-1zm4 6l1-1 1 1v2l-1 1-1-1zm2 6l1-1 1 1v2l-1 1-1-1zm5 9l1-1 1 1v2l-1 1-1-1zm4 6l1-1 1 1v2l-1 1-1-1zm2 0l1-1 1 1v2l-1 1-1-1zm-3 3l1-1 1 1v2l-1 1-1-1zm2 0l1-1 1 1v2l-1 1-1-1zm4 6l1-1 1 1v2l-1 1-1-1zm2 0l1-1 1 1v2l-1 1-1-1zm-1 3l1-1 1 1v2l-1 1-1-1zm2 0l1-1 1 1v2l-1 1-1-1zm3 3l1-1 1 1v2l-1 1-1-1zm-1 3l1-1 1 1v2l-1 1-1-1zm2 0l1-1 1 1v2l-1 1-1-1zm-1 3l1-1 1 1v2l-1 1-1-1zm2 0l1-1 1 1v2l-1 1-1-1zm1 3l1-1 1 1v2l-1 1-1-1zm2 6l1-1 1 1v2l-1 1-1-1zm2 0l1-1 1 1v2l-1 1-1-1zm2 0l1-1 1 1v2l-1 1-1-1zm-5 3l1-1 1 1v2l-1 1-1-1zm4 0l1-1 1 1v2l-1 1-1-1zm2 0l1-1 1 1v2l-1 1-1-1zm-5 3l1-1 1 1v2l-1 1-1-1zm4 0l1-1 1 1v2l-1 1-1-1zm2 0l1-1 1 1v2l-1 1-1-1zm5 9l1-1 1 1v2l-1 1-1-1zm4 6l1-1 1 1v2l-1 1-1-1zm-1 3l1-1 1 1v2l-1 1-1-1zm5 3l1-1 1 1v2l-1 1-1-1zm-1 3l1-1 1 1v2l-1 1-1-1zm5 3l1-1 1 1v2l-1 1-1-1zm-2 6l1-1 1 1v2l-1 1-1-1zm4 0l1-1 1 1v2l-1 1-1-1zm-11 3l1-1 1 1v2l-1 1-1-1zm10 0l1-1 1 1v2l-1 1-1-1zm2 0l1-1 1 1v2l-1 1-1-1zm2 0l1-1 1 1v2l-1 1-1-1zm1 3l1-1 1 1v2l-1 1-1-1zm-5 3l1-1 1 1v2l-1 1-1-1zm6 0l1-1 1 1v2l-1 1-1-1zm2 0l1-1 1 1v2l-1 1-1-1zm-2 6l1-1 1 1v2l-1 1-1-1zm5 3l1-1 1 1v2l-1 1-1-1zm1 3l1-1 1 1v2l-1 1-1-1zm3 3l1-1 1 1v2l-1 1-1-1zm-1 3l1-1 1 1v2l-1 1-1-1zm4 0l1-1 1 1v2l-1 1-1-1zm2 6l1-1 1 1v2l-1 1-1-1zm0 6l1-1 1 1v2l-1 1-1-1zm-7 3l1-1 1 1v2l-1 1-1-1zm12 0l1-1 1 1v2l-1 1-1-1zm-3 3l1-1 1 1v2l-1 1-1-1zm1 3l1-1 1 1v2l-1 1-1-1zm6 0l1-1 1 1v2l-1 1-1-1zm-4 6l1-1 1 1v2l-1 1-1-1zm6 0l1-1 1 1v2l-1 1-1-1zm2 0l1-1 1 1v2l-1 1-1-1zm5 9l1-1 1 1v2l-1 1-1-1zm-5 3l1-1 1 1v2l-1 1-1-1zm10 6l1-1 1 1v2l-1 1-1-1zm-1 3l1-1 1 1v2l-1 1-1-1zm-1 3l1-1 1 1v2l-1 1-1-1zm6 0l1-1 1 1v2l-1 1-1-1zm1 3l1-1 1 1v2l-1 1-1-1zm-1 3l1-1 1 1v2l-1 1-1-1zm-3 3l1-1 1 1v2l-1 1-1-1zm8 0l1-1 1 1v2l-1 1-1-1zm-5 3l1-1 1 1v2l-1 1-1-1zm9 3l1-1 1 1v2l-1 1-1-1zm-5 3l1-1 1 1v2l-1 1-1-1zm4 0l1-1 1 1v2l-1 1-1-1zm6 6l1-1 1 1v2l-1 1-1-1zm3 3l1-1 1 1v2l-1 1-1-1zm6 12l1-1 1 1v2l-1 1-1-1zm-11 3l1-1 1 1v2l-1 1-1-1zm8 0l1-1 1 1v2l-1 1-1-1zm4 0l1-1 1 1v2l-1 1-1-1zm0 6l1-1 1 1v2l-1 1-1-1zm2 0l1-1 1 1v2l-1 1-1-1zm3 3l1-1 1 1v2l-1 1-1-1zm1 3l1-1 1 1v2l-1 1-1-1zm7 9l1-1 1 1v2l-1 1-1-1zm1 3l1-1 1 1v2l-1 1-1-1zm1 3l1-1 1 1v2l-1 1-1-1zm3 3l1-1 1 1v2l-1 1-1-1zm-1 3l1-1 1 1v2l-1 1-1-1zm2 0l1-1 1 1v2l-1 1-1-1zm3 3l1-1 1 1v2l-1 1-1-1zm4 6l1-1 1 1v2l-1 1-1-1zm-21 3l1-1 1 1v2l-1 1-1-1zm22 0l1-1 1 1v2l-1 1-1-1zm3 9l1-1 1 1v2l-1 1-1-1zm2 0l1-1 1 1v2l-1 1-1-1zm1 3l1-1 1 1v2l-1 1-1-1zm2 6l1-1 1 1v2l-1 1-1-1zm-19 3l1-1 1 1v2l-1 1-1-1zm14 0l1-1 1 1v2l-1 1-1-1zm6 0l1-1 1 1v2l-1 1-1-1zm2 0l1-1 1 1v2l-1 1-1-1zm-2 6l1-1 1 1v2l-1 1-1-1zm4 0l1-1 1 1v2l-1 1-1-1zm2 0l1-1 1 1v2l-1 1-1-1zm-11 3l1-1 1 1v2l-1 1-1-1zm10 0l1-1 1 1v2l-1 1-1-1zm1 3l1-1 1 1v2l-1 1-1-1zm-3 3l1-1 1 1v2l-1 1-1-1zm1 3l1-1 1 1v2l-1 1-1-1zm9 3l1-1 1 1v2l-1 1-1-1zm2 0l1-1 1 1v2l-1 1-1-1zm-5 3l1-1 1 1v2l-1 1-1-1zm7 3l1-1 1 1v2l-1 1-1-1zm-39 3l1-1 1 1v2l-1 1-1-1zm39 3l1-1 1 1v2l-1 1-1-1zm5 3l1-1 1 1v2l-1 1-1-1zm2 0l1-1 1 1v2l-1 1-1-1zm-5 3l1-1 1 1v2l-1 1-1-1zm-3 3l1-1 1 1v2l-1 1-1-1zm10 0l1-1 1 1v2l-1 1-1-1zm2 6l1-1 1 1v2l-1 1-1-1zm3 3l1-1 1 1v2l-1 1-1-1zm2 0l1-1 1 1v2l-1 1-1-1zm-1 3l1-1 1 1v2l-1 1-1-1zm3 3l1-1 1 1v2l-1 1-1-1zm3 3l1-1 1 1v2l-1 1-1-1zm-11 3l1-1 1 1v2l-1 1-1-1zm16 6l1-1 1 1v2l-1 1-1-1zm2 6l1-1 1 1v2l-1 1-1-1zm3 3l1-1 1 1v2l-1 1-1-1zm-1 3l1-1 1 1v2l-1 1-1-1zm0 6l1-1 1 1v2l-1 1-1-1zm6 0l1-1 1 1v2l-1 1-1-1zm-1 3l1-1 1 1v2l-1 1-1-1zm-3 3l1-1 1 1v2l-1 1-1-1zm8 0l1-1 1 1v2l-1 1-1-1zm-11 3l1-1 1 1v2l-1 1-1-1zm12 0l1-1 1 1v2l-1 1-1-1zm-29 3l1-1 1 1v2l-1 1-1-1zm30 0l1-1 1 1v2l-1 1-1-1zm2 0l1-1 1 1v2l-1 1-1-1zm-4 6l1-1 1 1v2l-1 1-1-1zm8 6l1-1 1 1v2l-1 1-1-1zm1 3l1-1 1 1v2l-1 1-1-1zm-1 3l1-1 1 1v2l-1 1-1-1zm4 0l1-1 1 1v2l-1 1-1-1zm6 6l1-1 1 1v2l-1 1-1-1zm2 6l1-1 1 1v2l-1 1-1-1zm2 0l1-1 1 1v2l-1 1-1-1zm-1 3l1-1 1 1v2l-1 1-1-1zm-9 3l1-1 1 1v2l-1 1-1-1zm15 3l1-1 1 1v2l-1 1-1-1zm1 3l1-1 1 1v2l-1 1-1-1zm0 6l1-1 1 1v2l-1 1-1-1zm2 0l1-1 1 1v2l-1 1-1-1zm-1 3l1-1 1 1v2l-1 1-1-1zm2 0l1-1 1 1v2l-1 1-1-1z"/><path fill="#4059a1" d="M3 5l1-1 1 1v2l-1 1-1-1zm12 24l1-1 1 1v2l-1 1-1-1zm7 9l1-1 1 1v2l-1 1-1-1zm-1 3l1-1 1 1v2l-1 1-1-1zm3 3l1-1 1 1v2l-1 1-1-1zm3 3l1-1 1 1v2l-1 1-1-1zm2 6l1-1 1 1v2l-1 1-1-1zm2 6l1-1 1 1v2l-1 1-1-1zm1 3l1-1 1 1v2l-1 1-1-1zm10 12l1-1 1 1v2l-1 1-1-1zm4 6l1-1 1 1v2l-1 1-1-1zm6 12l1-1 1 1v2l-1 1-1-1zm8 12l1-1 1 1v2l-1 1-1-1zm11 21l1-1 1 1v2l-1 1-1-1zm8 12l1-1 1 1v2l-1 1-1-1zm11 21l1-1 1 1v2l-1 1-1-1zm4 6l1-1 1 1v2l-1 1-1-1zm4 6l1-1 1 1v2l-1 1-1-1zm17 27l1-1 1 1v2l-1 1-1-1zm3 9l1-1 1 1v2l-1 1-1-1zm8 12l1-1 1 1v2l-1 1-1-1zm4 12l1-1 1 1v2l-1 1-1-1zm2 0l1-1 1 1v2l-1 1-1-1zm2 0l1-1 1 1v2l-1 1-1-1zm2 6l1-1 1 1v2l-1 1-1-1zm3 3l1-1 1 1v2l-1 1-1-1zm2 6l1-1 1 1v2l-1 1-1-1zm3 3l1-1 1 1v2l-1 1-1-1zm16 30l1-1 1 1v2l-1 1-1-1zm9 15l1-1 1 1v2l-1 1-1-1zm2 0l1-1 1 1v2l-1 1-1-1zm-1 3l1-1 1 1v2l-1 1-1-1zm4 6l1-1 1 1v2l-1 1-1-1zm3 3l1-1 1 1v2l-1 1-1-1zm-1 3l1-1 1 1v2l-1 1-1-1zm6 6l1-1 1 1v2l-1 1-1-1zm2 6l1-1 1 1v2l-1 1-1-1zm9 15l1-1 1 1v2l-1 1-1-1zm6 12l1-1 1 1v2l-1 1-1-1zm2 0l1-1 1 1v2l-1 1-1-1zm6 12l1-1 1 1v2l-1 1-1-1zm3 3l1-1 1 1v2l-1 1-1-1zm6 12l1-1 1 1v2l-1 1-1-1zm3 3l1-1 1 1v2l-1 1-1-1zm4 6l1-1 1 1v2l-1 1-1-1zm2 6l1-1 1 1v2l-1 1-1-1zm9 15l1-1 1 1v2l-1 1-1-1zm4 6l1-1 1 1v2l-1 1-1-1zm11 21l1-1 1 1v2l-1 1-1-1zm1 3l1-1 1 1v2l-1 1-1-1zm8 12l1-1 1 1v2l-1 1-1-1zm1 3l1-1 1 1v2l-1 1-1-1zm2 0l1-1 1 1v2l-1 1-1-1zm2 6l1-1 1 1v2l-1 1-1-1zm1 3l1-1 1 1v2l-1 1-1-1zm5 9l1-1 1 1v2l-1 1-1-1zm2 0l1-1 1 1v2l-1 1-1-1zm2 6l1-1 1 1v2l-1 1-1-1zm2 0l1-1 1 1v2l-1 1-1-1zm1 3l1-1 1 1v2l-1 1-1-1zm0 6l1-1 1 1v2l-1 1-1-1zm5 3l1-1 1 1v2l-1 1-1-1zm1 3l1-1 1 1v2l-1 1-1-1zm3 3l1-1 1 1v2l-1 1-1-1zm10 18l1-1 1 1v2l-1 1-1-1z"/><path fill="#386faf" d="M6 14l1-1 1 1v2l-1 1-1-1zm3 3l1-1 1 1v2l-1 1-1-1zm2 6l1-1 1 1v2l-1 1-1-1zm32 54l1-1 1 1v2l-1 1-1-1zm12 18l1-1 1 1v2l-1 1-1-1zm1 3l1-1 1 1v2l-1 1-1-1zm5 9l1-1 1 1v2l-1 1-1-1zm-1 3l1-1 1 1v2l-1 1-1-1zm6 6l1-1 1 1v2l-1 1-1-1zm89 153l1-1 1 1v2l-1 1-1-1zm9 15l1-1 1 1v2l-1 1-1-1zm34 60l1-1 1 1v2l-1 1-1-1zm6 6l1-1 1 1v2l-1 1-1-1zm10 18l1-1 1 1v2l-1 1-1-1zm6 12l1-1 1 1v2l-1 1-1-1zm1 3l1-1 1 1v2l-1 1-1-1zm71 123l1-1 1 1v2l-1 1-1-1z"/><path fill="#3184c4" d="M14 26l1-1 1 1v2l-1 1-1-1zm78 132l1-1 1 1v2l-1 1-1-1zm7 15l1-1 1 1v2l-1 1-1-1zm60 102l1-1 1 1v2l-1 1-1-1zm94 162l1-1 1 1v2l-1 1-1-1zm37 63l1-1 1 1v2l-1 1-1-1z"/><path fill="#2d91cb" d="M32 56l1-1 1 1v2l-1 1-1-1zm80 138l1-1 1 1v2l-1 1-1-1z"/></g></g><linearGradient id="sg3840" gradientUnits="userSpaceOnUse" x1="354.00" y1="507.80" x2="561.50" y2="300.20"><stop offset="0.0033" stop-color="#d62e2e" stop-opacity="1.00"/><stop offset="0.0100" stop-color="#d83131" stop-opacity="1.00"/><stop offset="0.0167" stop-color="#ed9059" stop-opacity="1.00"/><stop offset="0.0233" stop-color="#b7c888" stop-opacity="1.00"/><stop offset="0.0300" stop-color="#8ac997" stop-opacity="1.00"/><stop offset="0.0367" stop-color="#75bda3" stop-opacity="1.00"/><stop offset="0.0433" stop-color="#65b7aa" stop-opacity="1.00"/><stop offset="0.0500" stop-color="#61b7ac" stop-opacity="1.00"/><stop offset="0.0567" stop-color="#2ea4cc" stop-opacity="1.00"/><stop offset="0.0633" stop-color="#3676b6" stop-opacity="1.00"/><stop offset="0.0700" stop-color="#5848a0" stop-opacity="0.80"/><stop offset="0.0767" stop-color="#43b1be" stop-opacity="1.00"/><stop offset="0.0833" stop-color="#3184c4" stop-opacity="1.00"/><stop offset="0.0900" stop-color="#3184c4" stop-opacity="1.00"/><stop offset="0.0967" stop-color="#3184c4" stop-opacity="1.00"/><stop offset="0.1033" stop-color="#5848a0" stop-opacity="0.00"/><stop offset="0.1100" stop-color="#3c64a8" stop-opacity="1.00"/><stop offset="0.1167" stop-color="#494fa0" stop-opacity="1.00"/><stop offset="0.1233" stop-color="#5848a0" stop-opacity="0.80"/><stop offset="0.1300" stop-color="#5848a0" stop-opacity="0.00"/><stop offset="0.1367" stop-color="#5848a0" stop-opacity="0.80"/><stop offset="0.1433" stop-color="#494fa0" stop-opacity="1.00"/><stop offset="0.1500" stop-color="#494fa0" stop-opacity="1.00"/><stop offset="0.1567" stop-color="#5848a0" stop-opacity="0.80"/><stop offset="0.1633" stop-color="#3184c4" stop-opacity="1.00"/><stop offset="0.1700" stop-color="#494fa0" stop-opacity="1.00"/><stop offset="0.1767" stop-color="#5848a0" stop-opacity="0.80"/><stop offset="0.1833" stop-color="#5848a0" stop-opacity="0.80"/><stop offset="0.1900" stop-color="#5848a0" stop-opacity="0.00"/><stop offset="0.1967" stop-color="#5848a0" stop-opacity="0.00"/><stop offset="0.2033" stop-color="#494fa0" stop-opacity="1.00"/><stop offset="0.2100" stop-color="#494fa0" stop-opacity="1.00"/><stop offset="0.2167" stop-color="#5848a0" stop-opacity="0.00"/><stop offset="0.2233" stop-color="#5848a0" stop-opacity="0.00"/><stop offset="0.2300" stop-color="#5848a0" stop-opacity="0.00"/><stop offset="0.2367" stop-color="#5848a0" stop-opacity="0.80"/><stop offset="0.2433" stop-color="#5848a0" stop-opacity="0.00"/><stop offset="0.2500" stop-color="#5848a0" stop-opacity="0.80"/><stop offset="0.2567" stop-color="#5848a0" stop-opacity="0.00"/><stop offset="0.2633" stop-color="#5848a0" stop-opacity="0.00"/><stop offset="0.2700" stop-color="#5848a0" stop-opacity="0.00"/><stop offset="0.2767" stop-color="#5848a0" stop-opacity="0.00"/><stop offset="0.2833" stop-color="#5848a0" stop-opacity="0.80"/><stop offset="0.2900" stop-color="#494fa0" stop-opacity="1.00"/><stop offset="0.2967" stop-color="#494fa0" stop-opacity="1.00"/><stop offset="0.3033" stop-color="#5848a0" stop-opacity="0.80"/><stop offset="0.3100" stop-color="#5848a0" stop-opacity="0.00"/><stop offset="0.3167" stop-color="#5848a0" stop-opacity="0.80"/><stop offset="0.3233" stop-color="#5848a0" stop-opacity="0.80"/><stop offset="0.3300" stop-color="#5848a0" stop-opacity="0.80"/><stop offset="0.3367" stop-color="#5848a0" stop-opacity="0.80"/><stop offset="0.3433" stop-color="#5848a0" stop-opacity="0.80"/><stop offset="0.3500" stop-color="#5848a0" stop-opacity="0.80"/><stop offset="0.3567" stop-color="#494fa0" stop-opacity="1.00"/><stop offset="0.3633" stop-color="#5848a0" stop-opacity="0.00"/><stop offset="0.3700" stop-color="#5848a0" stop-opacity="0.00"/><stop offset="0.3767" stop-color="#5848a0" stop-opacity="0.00"/><stop offset="0.3833" stop-color="#5848a0" stop-opacity="0.80"/><stop offset="0.3900" stop-color="#5848a0" stop-opacity="0.80"/><stop offset="0.3967" stop-color="#5848a0" stop-opacity="0.80"/><stop offset="0.4033" stop-color="#5848a0" stop-opacity="0.00"/><stop offset="0.4100" stop-color="#5848a0" stop-opacity="0.00"/><stop offset="0.4167" stop-color="#494fa0" stop-opacity="1.00"/><stop offset="0.4233" stop-color="#5848a0" stop-opacity="0.80"/><stop offset="0.4300" stop-color="#5848a0" stop-opacity="0.80"/><stop offset="0.4367" stop-color="#5848a0" stop-opacity="0.80"/><stop offset="0.4433" stop-color="#5848a0" stop-opacity="0.00"/><stop offset="0.4500" stop-color="#5848a0" stop-opacity="0.80"/><stop offset="0.4567" stop-color="#5848a0" stop-opacity="0.00"/><stop offset="0.4633" stop-color="#3c64a8" stop-opacity="1.00"/><stop offset="0.4700" stop-color="#5848a0" stop-opacity="0.80"/><stop offset="0.4767" stop-color="#5848a0" stop-opacity="0.80"/><stop offset="0.4833" stop-color="#5848a0" stop-opacity="0.80"/><stop offset="0.4900" stop-color="#5848a0" stop-opacity="0.00"/><stop offset="0.4967" stop-color="#5848a0" stop-opacity="0.00"/><stop offset="0.5033" stop-color="#5848a0" stop-opacity="0.00"/><stop offset="0.5100" stop-color="#5848a0" stop-opacity="0.80"/><stop offset="0.5167" stop-color="#3c64a8" stop-opacity="1.00"/><stop offset="0.5233" stop-color="#3184c4" stop-opacity="1.00"/><stop offset="0.5300" stop-color="#5848a0" stop-opacity="0.80"/><stop offset="0.5367" stop-color="#494fa0" stop-opacity="1.00"/><stop offset="0.5433" stop-color="#5848a0" stop-opacity="0.80"/><stop offset="0.5500" stop-color="#5848a0" stop-opacity="0.80"/><stop offset="0.5567" stop-color="#494fa0" stop-opacity="1.00"/><stop offset="0.5633" stop-color="#5848a0" stop-opacity="0.80"/><stop offset="0.5700" stop-color="#5848a0" stop-opacity="0.80"/><stop offset="0.5767" stop-color="#5848a0" stop-opacity="0.00"/><stop offset="0.5833" stop-color="#5848a0" stop-opacity="0.80"/><stop offset="0.5900" stop-color="#5848a0" stop-opacity="0.80"/><stop offset="0.5967" stop-color="#5848a0" stop-opacity="0.80"/><stop offset="0.6033" stop-color="#494fa0" stop-opacity="1.00"/><stop offset="0.6100" stop-color="#5848a0" stop-opacity="0.00"/><stop offset="0.6167" stop-color="#494fa0" stop-opacity="1.00"/><stop offset="0.6233" stop-color="#494fa0" stop-opacity="1.00"/><stop offset="0.6300" stop-color="#5848a0" stop-opacity="0.00"/><stop offset="0.6367" stop-color="#5848a0" stop-opacity="0.00"/><stop offset="0.6433" stop-color="#5848a0" stop-opacity="0.00"/><stop offset="0.6500" stop-color="#5848a0" stop-opacity="0.00"/><stop offset="0.6567" stop-color="#494fa0" stop-opacity="1.00"/><stop offset="0.6633" stop-color="#5848a0" stop-opacity="0.80"/><stop offset="0.6700" stop-color="#5848a0" stop-opacity="0.80"/><stop offset="0.6767" stop-color="#5848a0" stop-opacity="0.80"/><stop offset="0.6833" stop-color="#5848a0" stop-opacity="0.00"/><stop offset="0.6900" stop-color="#5848a0" stop-opacity="0.00"/><stop offset="0.6967" stop-color="#494fa0" stop-opacity="1.00"/><stop offset="0.7033" stop-color="#3c64a8" stop-opacity="1.00"/><stop offset="0.7100" stop-color="#5848a0" stop-opacity="0.00"/><stop offset="0.7167" stop-color="#494fa0" stop-opacity="1.00"/><stop offset="0.7233" stop-color="#5848a0" stop-opacity="0.00"/><stop offset="0.7300" stop-color="#5848a0" stop-opacity="0.00"/><stop offset="0.7367" stop-color="#494fa0" stop-opacity="1.00"/><stop offset="0.7433" stop-color="#5848a0" stop-opacity="0.00"/><stop offset="0.7500" stop-color="#5848a0" stop-opacity="0.80"/><stop offset="0.7567" stop-color="#5848a0" stop-opacity="0.00"/><stop offset="0.7633" stop-color="#494fa0" stop-opacity="1.00"/><stop offset="0.7700" stop-color="#5848a0" stop-opacity="0.00"/><stop offset="0.7767" stop-color="#5848a0" stop-opacity="0.00"/><stop offset="0.7833" stop-color="#5848a0" stop-opacity="0.80"/><stop offset="0.7900" stop-color="#5848a0" stop-opacity="0.00"/><stop offset="0.7967" stop-color="#5848a0" stop-opacity="0.00"/><stop offset="0.8033" stop-color="#5848a0" stop-opacity="0.00"/><stop offset="0.8100" stop-color="#5848a0" stop-opacity="0.80"/><stop offset="0.8167" stop-color="#5848a0" stop-opacity="0.80"/><stop offset="0.8233" stop-color="#5848a0" stop-opacity="0.00"/><stop offset="0.8300" stop-color="#5848a0" stop-opacity="0.80"/><stop offset="0.8367" stop-color="#5848a0" stop-opacity="0.80"/><stop offset="0.8433" stop-color="#5848a0" stop-opacity="0.80"/><stop offset="0.8500" stop-color="#5848a0" stop-opacity="0.00"/><stop offset="0.8567" stop-color="#5848a0" stop-opacity="0.00"/><stop offset="0.8633" stop-color="#5848a0" stop-opacity="0.00"/><stop offset="0.8700" stop-color="#5848a0" stop-opacity="0.80"/><stop offset="0.8767" stop-color="#5848a0" stop-opacity="0.00"/><stop offset="0.8833" stop-color="#5848a0" stop-opacity="0.80"/><stop offset="0.8900" stop-color="#5848a0" stop-opacity="0.80"/><stop offset="0.8967" stop-color="#494fa0" stop-opacity="1.00"/><stop offset="0.9033" stop-color="#5848a0" stop-opacity="0.00"/><stop offset="0.9100" stop-color="#5848a0" stop-opacity="0.80"/><stop offset="0.9167" stop-color="#5848a0" stop-opacity="0.80"/><stop offset="0.9233" stop-color="#5848a0" stop-opacity="0.00"/><stop offset="0.9300" stop-color="#494fa0" stop-opacity="1.00"/><stop offset="0.9367" stop-color="#5848a0" stop-opacity="0.00"/><stop offset="0.9433" stop-color="#5848a0" stop-opacity="0.00"/><stop offset="0.9500" stop-color="#5848a0" stop-opacity="0.00"/><stop offset="0.9567" stop-color="#5848a0" stop-opacity="0.80"/><stop offset="0.9633" stop-color="#5848a0" stop-opacity="0.80"/><stop offset="0.9700" stop-color="#5848a0" stop-opacity="0.00"/><stop offset="0.9767" stop-color="#5848a0" stop-opacity="0.00"/><stop offset="0.9833" stop-color="#5848a0" stop-opacity="0.00"/><stop offset="0.9900" stop-color="#5848a0" stop-opacity="0.80"/><stop offset="0.9967" stop-color="#5848a0" stop-opacity="0.80"/></linearGradient><path d="M353.82,507.62L561.32,300.02" stroke="url(#sg3840)" stroke-width="1.7" fill="none"/>
<path d="M354.00,507.80L561.50,300.20" stroke="#1a1a1a" stroke-width="0.9" stroke-opacity="0.8" fill="none"/>
<path d="M388.58,507.80v-2.5M388.58,300.20v2.5M354.00,473.20h2.5M561.50,473.20h-2.5M423.17,507.80v-2.5M423.17,300.20v2.5M354.00,438.60h2.5M561.50,438.60h-2.5M457.75,507.80v-2.5M457.75,300.20v2.5M354.00,404.00h2.5M561.50,404.00h-2.5M492.33,507.80v-2.5M492.33,300.20v2.5M354.00,369.40h2.5M561.50,369.40h-2.5M526.92,507.80v-2.5M526.92,300.20v2.5M354.00,334.80h2.5M561.50,334.80h-2.5" stroke="#777" stroke-width="0.8" fill="none"/>
<rect x="354.00" y="300.20" width="207.50" height="207.60" fill="none" stroke="#8a8a8a" stroke-width="1.6"/>
<g font-family="'Liberation Sans', sans-serif" font-size="7.8" fill="#1a1a1a"><text x="351.40" y="510.50" text-anchor="end">0</text><text x="354.00" y="516.40" text-anchor="middle">0</text><text x="351.40" y="475.90" text-anchor="end">50</text><text x="388.58" y="516.40" text-anchor="middle">50</text><text x="351.40" y="441.30" text-anchor="end">100</text><text x="423.17" y="516.40" text-anchor="middle">100</text><text x="351.40" y="406.70" text-anchor="end">150</text><text x="457.75" y="516.40" text-anchor="middle">150</text><text x="351.40" y="372.10" text-anchor="end">200</text><text x="492.33" y="516.40" text-anchor="middle">200</text><text x="351.40" y="337.50" text-anchor="end">250</text><text x="526.92" y="516.40" text-anchor="middle">250</text><text x="351.40" y="302.90" text-anchor="end">300</text><text x="561.50" y="516.40" text-anchor="middle">300</text></g>
<rect x="576.30" y="300.20" width="10.50" height="207.60" fill="url(#cg)" stroke="#555" stroke-width="0.8"/>
<path d="M586.80,507.80h-2M586.80,437.31h-2M586.80,366.81h-2" stroke="#333" stroke-width="0.8"/>
<g font-family="'Liberation Sans', sans-serif" font-size="7.8" fill="#1a1a1a"><text x="589.00" y="510.60">10<tspan font-size="5.4" dy="-3.2">0</tspan></text><text x="589.00" y="440.11">10<tspan font-size="5.4" dy="-3.2">1</tspan></text><text x="589.00" y="369.61">10<tspan font-size="5.4" dy="-3.2">2</tspan></text></g>
<text x="190.30" y="264.00" font-family="'Liberation Serif', serif" font-size="21" fill="#111" letter-spacing="-0.35">N<tspan font-size="16" dy="3.3">c</tspan><tspan dy="-3.3">=0</tspan></text>
<text x="489.00" y="262.90" font-family="'Liberation Serif', serif" font-size="21" fill="#111" letter-spacing="-0.35">N<tspan font-size="16" dy="3.3">c</tspan><tspan dy="-3.3">=2M</tspan></text>
<text x="168.60" y="506.90" font-family="'Liberation Serif', serif" font-size="21" fill="#111" letter-spacing="-0.35">N<tspan font-size="16" dy="3.3">c</tspan><tspan dy="-3.3">=3M</tspan></text>
<text x="488.60" y="501.10" font-family="'Liberation Serif', serif" font-size="21" fill="#111" letter-spacing="-0.35">N<tspan font-size="16" dy="3.3">c</tspan><tspan dy="-3.3">=4M</tspan></text>
<g transform="translate(132.00,282.00) rotate(0)"><use href="#R"/><text x="15.8" y="2.9" font-family="'Liberation Serif', serif" font-size="8" fill="#222">2</text><text x="14.0" y="12.8" font-family="'Liberation Serif', serif" font-size="10" font-style="italic" fill="#222">b</text></g>
<g transform="translate(7.20,175.10) rotate(-90)"><use href="#R"/><text x="15.8" y="2.9" font-family="'Liberation Serif', serif" font-size="8" fill="#222">2</text><text x="14.0" y="12.8" font-family="'Liberation Serif', serif" font-size="10" font-style="italic" fill="#222">d</text></g>
<g transform="translate(447.70,283.20) rotate(0)"><use href="#R"/><text x="15.8" y="2.9" font-family="'Liberation Serif', serif" font-size="8" fill="#222">2</text><text x="14.0" y="12.8" font-family="'Liberation Serif', serif" font-size="10" font-style="italic" fill="#222">b</text></g>
<g transform="translate(322.40,176.00) rotate(-90)"><use href="#R"/><text x="15.8" y="2.9" font-family="'Liberation Serif', serif" font-size="8" fill="#222">2</text><text x="14.0" y="12.8" font-family="'Liberation Serif', serif" font-size="10" font-style="italic" fill="#222">d</text></g>
<g transform="translate(129.70,526.20) rotate(0)"><use href="#R"/><text x="15.8" y="2.9" font-family="'Liberation Serif', serif" font-size="8" fill="#222">2</text><text x="14.0" y="12.8" font-family="'Liberation Serif', serif" font-size="10" font-style="italic" fill="#222">b</text></g>
<g transform="translate(4.70,419.50) rotate(-90)"><use href="#R"/><text x="15.8" y="2.9" font-family="'Liberation Serif', serif" font-size="8" fill="#222">2</text><text x="14.0" y="12.8" font-family="'Liberation Serif', serif" font-size="10" font-style="italic" fill="#222">d</text></g>
<g transform="translate(449.50,520.20) rotate(0)"><use href="#R"/><text x="15.8" y="2.9" font-family="'Liberation Serif', serif" font-size="8" fill="#222">2</text><text x="14.0" y="12.8" font-family="'Liberation Serif', serif" font-size="10" font-style="italic" fill="#222">b</text></g>
<g transform="translate(324.50,413.00) rotate(-90)"><use href="#R"/><text x="15.8" y="2.9" font-family="'Liberation Serif', serif" font-size="8" fill="#222">2</text><text x="14.0" y="12.8" font-family="'Liberation Serif', serif" font-size="10" font-style="italic" fill="#222">d</text></g>
<text x="35.6" y="17.6" font-family="'Liberation Serif', serif" font-size="23.5" fill="#111">SP</text>
<text x="35.8" y="41.2" font-family="'Liberation Serif', serif" font-size="23.5" fill="#111">N=10<tspan font-size="13" dy="-8.6" x="89.2">4</tspan><tspan dy="8.6" x="97.0">,</tspan><tspan x="107.6" font-style="italic">d</tspan><tspan x="120.2">=</tspan><tspan x="133.6">2</tspan></text>
</svg></body></html>
